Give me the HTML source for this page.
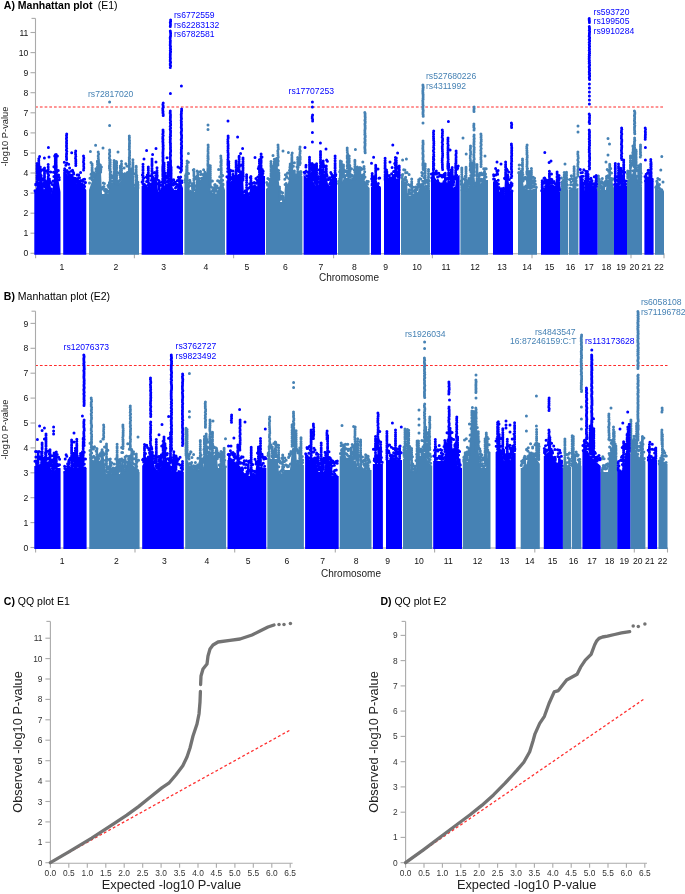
<!DOCTYPE html>
<html><head><meta charset="utf-8"><style>
html,body{margin:0;padding:0;background:#fff;width:685px;height:894px;overflow:hidden}
svg{display:block;position:absolute;left:0;top:0;filter:blur(0.25px)}
</style></head><body>
<svg width="685" height="894" viewBox="0 0 685 894" font-family='"Liberation Sans", sans-serif'>
<line x1="35.5" y1="18.4" x2="35.5" y2="253.7" stroke="#aaaaaa" stroke-width="1.1"/>
<line x1="35" y1="253.7" x2="664.5" y2="253.7" stroke="#aaaaaa" stroke-width="1.1"/>
<line x1="31.5" y1="18.4" x2="35.5" y2="18.4" stroke="#aaaaaa" stroke-width="1.1"/>
<line x1="30.5" y1="253.3" x2="35.5" y2="253.3" stroke="#aaaaaa" stroke-width="1.1"/>
<text x="28.4" y="256.4" font-size="8.6" fill="#111" text-anchor="end" font-weight="normal">0</text>
<line x1="30.5" y1="233.2" x2="35.5" y2="233.2" stroke="#aaaaaa" stroke-width="1.1"/>
<text x="28.4" y="236.3" font-size="8.6" fill="#111" text-anchor="end" font-weight="normal">1</text>
<line x1="30.5" y1="213.2" x2="35.5" y2="213.2" stroke="#aaaaaa" stroke-width="1.1"/>
<text x="28.4" y="216.3" font-size="8.6" fill="#111" text-anchor="end" font-weight="normal">2</text>
<line x1="30.5" y1="193.1" x2="35.5" y2="193.1" stroke="#aaaaaa" stroke-width="1.1"/>
<text x="28.4" y="196.2" font-size="8.6" fill="#111" text-anchor="end" font-weight="normal">3</text>
<line x1="30.5" y1="173" x2="35.5" y2="173" stroke="#aaaaaa" stroke-width="1.1"/>
<text x="28.4" y="176.1" font-size="8.6" fill="#111" text-anchor="end" font-weight="normal">4</text>
<line x1="30.5" y1="153" x2="35.5" y2="153" stroke="#aaaaaa" stroke-width="1.1"/>
<text x="28.4" y="156.1" font-size="8.6" fill="#111" text-anchor="end" font-weight="normal">5</text>
<line x1="30.5" y1="132.9" x2="35.5" y2="132.9" stroke="#aaaaaa" stroke-width="1.1"/>
<text x="28.4" y="136" font-size="8.6" fill="#111" text-anchor="end" font-weight="normal">6</text>
<line x1="30.5" y1="112.8" x2="35.5" y2="112.8" stroke="#aaaaaa" stroke-width="1.1"/>
<text x="28.4" y="115.9" font-size="8.6" fill="#111" text-anchor="end" font-weight="normal">7</text>
<line x1="30.5" y1="92.7" x2="35.5" y2="92.7" stroke="#aaaaaa" stroke-width="1.1"/>
<text x="28.4" y="95.8" font-size="8.6" fill="#111" text-anchor="end" font-weight="normal">8</text>
<line x1="30.5" y1="72.7" x2="35.5" y2="72.7" stroke="#aaaaaa" stroke-width="1.1"/>
<text x="28.4" y="75.8" font-size="8.6" fill="#111" text-anchor="end" font-weight="normal">9</text>
<line x1="30.5" y1="52.6" x2="35.5" y2="52.6" stroke="#aaaaaa" stroke-width="1.1"/>
<text x="28.4" y="55.7" font-size="8.6" fill="#111" text-anchor="end" font-weight="normal">10</text>
<line x1="30.5" y1="32.5" x2="35.5" y2="32.5" stroke="#aaaaaa" stroke-width="1.1"/>
<text x="28.4" y="35.6" font-size="8.6" fill="#111" text-anchor="end" font-weight="normal">11</text>
<line x1="35.6" y1="253.7" x2="35.6" y2="258.2" stroke="#aaaaaa" stroke-width="1.1"/>
<line x1="134.4" y1="253.7" x2="134.4" y2="258.2" stroke="#aaaaaa" stroke-width="1.1"/>
<line x1="233.6" y1="253.7" x2="233.6" y2="258.2" stroke="#aaaaaa" stroke-width="1.1"/>
<line x1="333.6" y1="253.7" x2="333.6" y2="258.2" stroke="#aaaaaa" stroke-width="1.1"/>
<line x1="432.4" y1="253.7" x2="432.4" y2="258.2" stroke="#aaaaaa" stroke-width="1.1"/>
<line x1="532" y1="253.7" x2="532" y2="258.2" stroke="#aaaaaa" stroke-width="1.1"/>
<line x1="631" y1="253.7" x2="631" y2="258.2" stroke="#aaaaaa" stroke-width="1.1"/>
<line x1="664" y1="253.7" x2="664" y2="258.2" stroke="#aaaaaa" stroke-width="1.1"/>
<text x="62" y="270" font-size="8.6" fill="#111" text-anchor="middle" font-weight="normal">1</text>
<text x="116" y="270" font-size="8.6" fill="#111" text-anchor="middle" font-weight="normal">2</text>
<text x="163.6" y="270" font-size="8.6" fill="#111" text-anchor="middle" font-weight="normal">3</text>
<text x="206" y="270" font-size="8.6" fill="#111" text-anchor="middle" font-weight="normal">4</text>
<text x="247" y="270" font-size="8.6" fill="#111" text-anchor="middle" font-weight="normal">5</text>
<text x="285.4" y="270" font-size="8.6" fill="#111" text-anchor="middle" font-weight="normal">6</text>
<text x="321" y="270" font-size="8.6" fill="#111" text-anchor="middle" font-weight="normal">7</text>
<text x="354.4" y="270" font-size="8.6" fill="#111" text-anchor="middle" font-weight="normal">8</text>
<text x="385.6" y="270" font-size="8.6" fill="#111" text-anchor="middle" font-weight="normal">9</text>
<text x="417" y="270" font-size="8.6" fill="#111" text-anchor="middle" font-weight="normal">10</text>
<text x="446" y="270" font-size="8.6" fill="#111" text-anchor="middle" font-weight="normal">11</text>
<text x="475" y="270" font-size="8.6" fill="#111" text-anchor="middle" font-weight="normal">12</text>
<text x="502" y="270" font-size="8.6" fill="#111" text-anchor="middle" font-weight="normal">13</text>
<text x="527" y="270" font-size="8.6" fill="#111" text-anchor="middle" font-weight="normal">14</text>
<text x="549.6" y="270" font-size="8.6" fill="#111" text-anchor="middle" font-weight="normal">15</text>
<text x="570.6" y="270" font-size="8.6" fill="#111" text-anchor="middle" font-weight="normal">16</text>
<text x="589" y="270" font-size="8.6" fill="#111" text-anchor="middle" font-weight="normal">17</text>
<text x="606.4" y="270" font-size="8.6" fill="#111" text-anchor="middle" font-weight="normal">18</text>
<text x="621" y="270" font-size="8.6" fill="#111" text-anchor="middle" font-weight="normal">19</text>
<text x="634.4" y="270" font-size="8.6" fill="#111" text-anchor="middle" font-weight="normal">20</text>
<text x="646.4" y="270" font-size="8.6" fill="#111" text-anchor="middle" font-weight="normal">21</text>
<text x="659" y="270" font-size="8.6" fill="#111" text-anchor="middle" font-weight="normal">22</text>
<text x="349" y="281" font-size="10" fill="#222" text-anchor="middle" font-weight="normal">Chromosome</text>
<line x1="35.5" y1="311.2" x2="35.5" y2="548" stroke="#aaaaaa" stroke-width="1.1"/>
<line x1="35" y1="548" x2="668" y2="548" stroke="#aaaaaa" stroke-width="1.1"/>
<line x1="31.5" y1="311.2" x2="35.5" y2="311.2" stroke="#aaaaaa" stroke-width="1.1"/>
<line x1="30.5" y1="547.5" x2="35.5" y2="547.5" stroke="#aaaaaa" stroke-width="1.1"/>
<text x="28.4" y="550.6" font-size="8.6" fill="#111" text-anchor="end" font-weight="normal">0</text>
<line x1="30.5" y1="522.6" x2="35.5" y2="522.6" stroke="#aaaaaa" stroke-width="1.1"/>
<text x="28.4" y="525.7" font-size="8.6" fill="#111" text-anchor="end" font-weight="normal">1</text>
<line x1="30.5" y1="497.7" x2="35.5" y2="497.7" stroke="#aaaaaa" stroke-width="1.1"/>
<text x="28.4" y="500.8" font-size="8.6" fill="#111" text-anchor="end" font-weight="normal">2</text>
<line x1="30.5" y1="472.8" x2="35.5" y2="472.8" stroke="#aaaaaa" stroke-width="1.1"/>
<text x="28.4" y="475.9" font-size="8.6" fill="#111" text-anchor="end" font-weight="normal">3</text>
<line x1="30.5" y1="447.9" x2="35.5" y2="447.9" stroke="#aaaaaa" stroke-width="1.1"/>
<text x="28.4" y="451" font-size="8.6" fill="#111" text-anchor="end" font-weight="normal">4</text>
<line x1="30.5" y1="423" x2="35.5" y2="423" stroke="#aaaaaa" stroke-width="1.1"/>
<text x="28.4" y="426.1" font-size="8.6" fill="#111" text-anchor="end" font-weight="normal">5</text>
<line x1="30.5" y1="398.1" x2="35.5" y2="398.1" stroke="#aaaaaa" stroke-width="1.1"/>
<text x="28.4" y="401.2" font-size="8.6" fill="#111" text-anchor="end" font-weight="normal">6</text>
<line x1="30.5" y1="373.2" x2="35.5" y2="373.2" stroke="#aaaaaa" stroke-width="1.1"/>
<text x="28.4" y="376.3" font-size="8.6" fill="#111" text-anchor="end" font-weight="normal">7</text>
<line x1="30.5" y1="348.3" x2="35.5" y2="348.3" stroke="#aaaaaa" stroke-width="1.1"/>
<text x="28.4" y="351.4" font-size="8.6" fill="#111" text-anchor="end" font-weight="normal">8</text>
<line x1="30.5" y1="323.4" x2="35.5" y2="323.4" stroke="#aaaaaa" stroke-width="1.1"/>
<text x="28.4" y="326.5" font-size="8.6" fill="#111" text-anchor="end" font-weight="normal">9</text>
<line x1="35.6" y1="548" x2="35.6" y2="552.5" stroke="#aaaaaa" stroke-width="1.1"/>
<line x1="135" y1="548" x2="135" y2="552.5" stroke="#aaaaaa" stroke-width="1.1"/>
<line x1="234.7" y1="548" x2="234.7" y2="552.5" stroke="#aaaaaa" stroke-width="1.1"/>
<line x1="335.3" y1="548" x2="335.3" y2="552.5" stroke="#aaaaaa" stroke-width="1.1"/>
<line x1="434.6" y1="548" x2="434.6" y2="552.5" stroke="#aaaaaa" stroke-width="1.1"/>
<line x1="534.8" y1="548" x2="534.8" y2="552.5" stroke="#aaaaaa" stroke-width="1.1"/>
<line x1="634.3" y1="548" x2="634.3" y2="552.5" stroke="#aaaaaa" stroke-width="1.1"/>
<line x1="667.5" y1="548" x2="667.5" y2="552.5" stroke="#aaaaaa" stroke-width="1.1"/>
<text x="62.1" y="564" font-size="8.6" fill="#111" text-anchor="middle" font-weight="normal">1</text>
<text x="116.5" y="564" font-size="8.6" fill="#111" text-anchor="middle" font-weight="normal">2</text>
<text x="164.3" y="564" font-size="8.6" fill="#111" text-anchor="middle" font-weight="normal">3</text>
<text x="207" y="564" font-size="8.6" fill="#111" text-anchor="middle" font-weight="normal">4</text>
<text x="248.2" y="564" font-size="8.6" fill="#111" text-anchor="middle" font-weight="normal">5</text>
<text x="286.8" y="564" font-size="8.6" fill="#111" text-anchor="middle" font-weight="normal">6</text>
<text x="322.6" y="564" font-size="8.6" fill="#111" text-anchor="middle" font-weight="normal">7</text>
<text x="356.2" y="564" font-size="8.6" fill="#111" text-anchor="middle" font-weight="normal">8</text>
<text x="387.6" y="564" font-size="8.6" fill="#111" text-anchor="middle" font-weight="normal">9</text>
<text x="419.1" y="564" font-size="8.6" fill="#111" text-anchor="middle" font-weight="normal">10</text>
<text x="448.3" y="564" font-size="8.6" fill="#111" text-anchor="middle" font-weight="normal">11</text>
<text x="477.5" y="564" font-size="8.6" fill="#111" text-anchor="middle" font-weight="normal">12</text>
<text x="504.6" y="564" font-size="8.6" fill="#111" text-anchor="middle" font-weight="normal">13</text>
<text x="529.8" y="564" font-size="8.6" fill="#111" text-anchor="middle" font-weight="normal">14</text>
<text x="552.5" y="564" font-size="8.6" fill="#111" text-anchor="middle" font-weight="normal">15</text>
<text x="573.6" y="564" font-size="8.6" fill="#111" text-anchor="middle" font-weight="normal">16</text>
<text x="592.1" y="564" font-size="8.6" fill="#111" text-anchor="middle" font-weight="normal">17</text>
<text x="609.6" y="564" font-size="8.6" fill="#111" text-anchor="middle" font-weight="normal">18</text>
<text x="624.3" y="564" font-size="8.6" fill="#111" text-anchor="middle" font-weight="normal">19</text>
<text x="637.8" y="564" font-size="8.6" fill="#111" text-anchor="middle" font-weight="normal">20</text>
<text x="649.8" y="564" font-size="8.6" fill="#111" text-anchor="middle" font-weight="normal">21</text>
<text x="662.5" y="564" font-size="8.6" fill="#111" text-anchor="middle" font-weight="normal">22</text>
<text x="351" y="577" font-size="10" fill="#222" text-anchor="middle" font-weight="normal">Chromosome</text>
<line x1="36" y1="107" x2="664" y2="107" stroke="#ff2a2a" stroke-width="1.1" stroke-dasharray="2.7 2.0" stroke-dashoffset="0.8"/>
<line x1="36" y1="365.5" x2="667.5" y2="365.5" stroke="#ff2a2a" stroke-width="1.1" stroke-dasharray="2.7 2.0" stroke-dashoffset="0.8"/>
<path fill="#4682b4" d="M89 254.7 L89 190 L89.5 188.5 L90 187 L90.5 185.5 L91 184 L91.5 182.5 L92 181 L92.5 179.9 L93 178.8 L93.5 177.6 L94 176.5 L94.5 175.4 L95 174.2 L95.5 173.1 L96 172 L96.5 172 L97 172 L97.5 172 L98 172 L98.5 172 L99 172 L99.5 172 L100 172 L100.5 172 L101 172 L101.5 183 L102 194 L102.5 194 L103 194 L103.5 194 L104 194 L104.5 194 L105 194 L105.5 194 L106 194 L106.5 194 L107 194 L107.5 194 L108 194 L108.5 191 L109 188 L109.5 185 L110 182 L110.5 182.1 L111 182.2 L111.5 182.4 L112 182.5 L112.5 182.6 L113 182.8 L113.5 182.9 L114 183 L114.5 183.1 L115 183.2 L115.5 183.4 L116 183.5 L116.5 183.6 L117 183.8 L117.5 183.9 L118 184 L118.5 183.4 L119 182.8 L119.5 182.2 L120 181.7 L120.5 181.1 L121 180.5 L121.5 179.9 L122 179.3 L122.5 178.8 L123 178.2 L123.5 177.6 L124 177 L124.5 176.6 L125 176.2 L125.5 175.9 L126 175.5 L126.5 175.1 L127 174.8 L127.5 174.4 L128 174 L128.5 174.8 L129 175.5 L129.5 176.2 L130 177 L130.5 177.8 L131 178.5 L131.5 179.2 L132 180 L132.5 181.3 L133 182.7 L133.5 184 L134 185.3 L134.5 186.7 L135 188 L135.5 188 L136 188 L136.5 188 L137 188 L137.5 188 L138 188 L138.5 188 L139 188 L139 254.7Z M184.4 254.7 L184.4 182 L184.9 182 L185.4 182.2 L185.9 182.5 L186.4 182.7 L186.9 183 L187.4 183.2 L187.9 183.5 L188.4 183.7 L188.9 184 L189.4 187.3 L189.9 191.3 L190.4 192 L190.9 192 L191.4 192 L191.9 192 L192.4 192 L192.9 192 L193.4 192 L193.9 192 L194.4 192 L194.9 192 L195.4 186.9 L195.9 180.9 L196.4 180 L196.9 180 L197.4 180 L197.9 180 L198.4 180 L198.9 180 L199.4 180 L199.9 180 L200.4 179.7 L200.9 179.4 L201.4 179.1 L201.9 178.8 L202.4 178.5 L202.9 178.2 L203.4 177.9 L203.9 177.6 L204.4 177.3 L205 177 L205.5 177 L206 177 L206.5 177 L207 177 L207.5 177 L208 177 L208.5 177 L209 177 L209.5 180.5 L210 184.2 L210.5 188 L211 191.7 L211.5 192.2 L212 192.4 L212.5 192.6 L213 192.8 L213.5 193 L214 193.2 L214.5 193.4 L215 193.6 L215.5 193.8 L216 194 L216.5 193 L217 192 L217.5 191 L218 190 L218.5 188.7 L219 187.4 L219.5 186 L220 184.7 L220.5 183.4 L221 182 L221.5 182.5 L222 183 L222.5 183.5 L223 184 L223.5 185.5 L224 187 L224.5 188.5 L225 190 L225 254.7Z M266 254.7 L266 189 L266.5 188.5 L267 188 L267.5 187.5 L268 187 L268.5 186.5 L269 186 L269.5 185.5 L270 185 L270.6 184.4 L271.1 183.9 L271.6 183.4 L272.1 182.9 L272.6 182.4 L273.1 181.9 L273.6 181.4 L274.1 180.9 L274.6 180.4 L275.1 180 L275.6 180 L276.1 180 L276.6 180 L277.1 180 L277.6 180 L278.1 180 L278.6 180 L279.1 183.2 L279.6 194.3 L280.2 202 L280.7 202 L281.2 202 L281.7 202 L282.2 202 L282.7 202 L283.2 202 L283.7 202 L284.2 198.4 L284.7 189.3 L285.2 184 L285.7 184 L286.2 184 L286.7 184 L287.2 184 L287.7 184 L288.2 182.5 L288.8 179.5 L289.3 178 L289.8 178 L290.3 178 L290.8 178 L291.3 178 L291.8 178 L292.3 178 L292.8 178 L293.3 178 L293.8 178 L294.3 178 L294.8 178 L295.3 177.4 L295.8 176.3 L296.3 176 L296.8 176 L297.3 176 L297.8 176 L298.4 176 L298.9 176 L299.4 176 L299.9 176 L300.4 176 L300.9 176 L301.4 176 L301.9 176 L302.4 176 L302.4 254.7Z M338 254.7 L338 185 L338.5 184.6 L339 184.2 L339.5 183.9 L340 183.5 L340.5 183.1 L341 182.7 L341.5 182.4 L342 182 L342.5 181 L343 180 L343.5 179 L344 178 L344.5 178 L345 178 L345.5 178 L346 178 L346.5 178 L347 178 L347.5 178 L348 178 L348.5 178 L349 178 L349.5 178.3 L350 178.5 L350.5 178.8 L351 179 L351.5 179.3 L352 179.5 L352.5 179.8 L353 180 L353.5 179.8 L354.1 179.6 L354.6 179.4 L355.1 179.2 L355.6 179 L356.1 178.8 L356.6 178.6 L357.1 178.4 L357.6 178.2 L358.1 178 L358.6 177.8 L359.1 177.6 L359.6 177.4 L360.1 177.2 L360.6 177 L361.1 176.8 L361.6 176.6 L362.1 176.4 L362.6 176.2 L363.1 176.2 L363.6 177.5 L364.1 178.9 L364.6 180.2 L365.1 181.6 L365.6 182.9 L366.1 184.1 L366.6 184.7 L367.1 185.2 L367.6 185.8 L368.1 186.3 L368.6 186.9 L369.1 187.4 L369.6 188 L369.6 254.7Z M401 254.7 L401 180 L401.5 180.2 L402 180.3 L402.5 180.5 L403 180.7 L403.5 180.8 L404 181 L404.5 181.2 L405 181.3 L405.5 181.5 L406 181.7 L406.5 181.8 L407 182 L407.5 189 L408 196 L408.5 196 L409 196 L409.5 196 L410 196 L410.5 196 L411 196 L411.5 196 L412 196 L412.5 196 L413 196 L413.5 195.6 L414 195.2 L414.5 194.8 L415 194.4 L415.5 194 L416 193.6 L416.5 193.2 L417 192.8 L417.5 192.4 L418 192 L418.5 190.5 L419 189 L419.5 187.5 L420 186 L420.5 185.3 L421 184.7 L421.5 184 L422 183.3 L422.5 182.7 L423 182 L423.5 183 L424 184 L424.5 185 L425 186 L425.5 187 L426 188 L426.5 188.2 L427 188.5 L427.5 188.8 L428 189 L428.5 189.2 L429 189.5 L429.5 189.8 L430 190 L430 254.7Z M460.4 254.7 L460.4 190 L460.9 190 L461.4 190 L461.9 190 L462.4 190 L462.9 190 L463.4 190 L463.9 190 L464.4 190 L464.9 190 L465.4 190 L465.9 190 L466.4 190 L466.9 190 L467.4 190 L467.9 190 L468.4 188.3 L468.9 186.3 L469.4 184.3 L469.9 182.3 L470.4 182.3 L470.9 182.8 L471.4 183.2 L471.9 183.6 L472.4 184 L472.9 184.4 L473.4 184.8 L473.9 185.2 L474.5 185.6 L475 186 L475.5 185.8 L476 185.6 L476.5 185.4 L477 185.2 L477.5 185 L478 184.8 L478.5 184.6 L479 184.4 L479.5 184.2 L480 184 L480.5 183.4 L481 182.7 L481.5 182 L482 181.4 L482.5 180.7 L483 180 L483.5 180 L484 180 L484.5 180 L485 180 L485.5 180 L486 180 L486.5 180 L487 180 L487.5 180 L488 180 L488 254.7Z M518 254.7 L518 172 L518.5 172.5 L519 173 L519.5 173.5 L520 174 L520.5 174.5 L521 175 L521.5 175.5 L522 176 L522.5 179 L523 182 L523.5 185 L524 188 L524.5 188.2 L525 188.3 L525.5 188.5 L526 188.7 L526.5 188.8 L527 189 L527.5 189.2 L528 189.3 L528.5 189.5 L529 189.7 L529.5 189.8 L530 190 L530.5 189.9 L531 189.7 L531.5 189.6 L532 189.4 L532.5 189.3 L533 189.1 L533.5 189 L534 188.9 L534.5 188.7 L535 188.6 L535.5 188.4 L536 188.3 L536.5 188.1 L537 188 L537 254.7Z M560 254.7 L560 190 L560.5 190 L561 190 L561.5 190 L562 190 L562.5 190 L563 190 L563.5 190 L564 190 L564.5 190 L565 190 L565.5 190 L566 190 L566.5 190 L567 190 L567.5 190 L568 190 L568 254.7Z M568.8 254.7 L568.8 190 L569.3 189.9 L569.8 189.8 L570.3 189.7 L570.8 189.6 L571.3 189.5 L571.8 189.4 L572.3 189.3 L572.8 189.2 L573.3 189.1 L573.9 189 L574.4 188.9 L574.9 188.8 L575.4 188.6 L575.9 188.5 L576.4 188.4 L576.9 188.3 L577.4 188.2 L577.9 188.1 L578.4 188 L578.4 254.7Z M597.6 254.7 L597.6 190 L598.1 190 L598.6 190 L599.1 190 L599.6 190 L600.2 190 L600.7 190 L601.2 190 L601.7 190 L602.2 190 L602.7 190 L603.2 190 L603.8 190 L604.3 190 L604.8 190 L605.3 190 L605.8 190 L606.3 186.9 L606.8 181.7 L607.3 180 L607.9 180 L608.4 180 L608.9 180 L609.4 180 L609.9 180 L610.4 180 L610.9 180 L611.4 180 L612 180 L612.5 181.8 L613 183.9 L613.5 185.9 L614 188 L614 254.7Z M627 254.7 L627 180 L627.5 179.6 L628 179.2 L628.5 178.9 L629 178.5 L629.5 178.1 L630 177.8 L630.5 177.4 L631 177 L631.5 175.8 L632 174.5 L632.5 173.2 L633 172 L633.5 172 L634 172 L634.5 172 L635 172 L635.5 172 L636 172 L636.5 174.5 L637 177 L637.5 179.5 L638 182 L638.5 182.6 L639 183.2 L639.5 183.9 L640 184.5 L640.5 185.1 L641 185.8 L641.5 186.4 L642 187 L642 254.7Z M655 254.7 L655 188 L655.5 188.2 L656 188.4 L656.5 188.7 L657 188.9 L657.5 189.1 L658 189.3 L658.5 189.6 L659 189.8 L659.5 190 L660 190.2 L660.5 190.4 L661 190.7 L661.5 190.9 L662 191.1 L662.5 191.3 L663 191.6 L663.5 191.8 L664 192 L664 254.7Z"/>
<path fill="#0000ff" d="M34.3 254.7 L34.3 192 L34.8 192 L35.3 191 L35.8 189.3 L36.3 187.6 L36.8 185.9 L37.3 184.3 L37.8 182.6 L38.3 181.8 L38.8 181.6 L39.3 181.3 L39.8 181.1 L40.3 180.8 L40.8 180.6 L41.4 180.3 L41.9 180.1 L42.4 181.8 L42.9 184.3 L43.4 186.8 L43.9 189.4 L44.4 189 L44.9 187.7 L45.4 186.3 L45.9 185 L46.4 183.6 L46.9 182.3 L47.4 182 L47.9 182 L48.4 182 L48.9 182 L49.4 182 L49.9 182 L50.4 184.5 L50.9 187.6 L51.4 190.6 L51.9 193.6 L52.4 190.3 L52.9 186 L53.4 181.7 L54 177.4 L54.5 177 L55 177 L55.5 177 L56 177 L56.5 177 L57 177 L57.5 177 L58 177 L58.5 179.9 L59 182.9 L59.5 186 L60 189 L60.5 192 L60.5 254.7Z M63.2 254.7 L63.2 172 L63.7 172 L64.2 172 L64.7 172 L65.2 172 L65.7 172 L66.2 172.4 L66.7 173.4 L67.2 174.4 L67.7 175.4 L68.2 176 L68.7 176 L69.2 176 L69.7 176 L70.2 176 L70.7 176 L71.2 176 L71.7 176 L72.2 176 L72.7 176 L73.2 176.5 L73.7 177.5 L74.2 178.5 L74.8 179.5 L75.3 180.5 L75.8 181.5 L76.3 182.5 L76.8 183.5 L77.3 184 L77.8 184 L78.3 184 L78.8 184 L79.3 184 L79.8 184 L80.3 184 L80.8 184 L81.3 184 L81.8 184 L82.3 184.4 L82.8 185.1 L83.3 185.8 L83.8 186.5 L84.3 187.2 L84.8 187.9 L85.3 188.6 L85.8 189.3 L86.3 190 L86.3 254.7Z M141.6 254.7 L141.6 186 L142.1 186 L142.6 186.1 L143.1 186.1 L143.6 186.2 L144.1 186.3 L144.6 186.3 L145.1 186.4 L145.6 186.5 L146.1 186.5 L146.6 186.6 L147.2 186.6 L147.7 186.7 L148.2 186.8 L148.7 186.8 L149.2 186.9 L149.7 187 L150.2 186.4 L150.7 184.6 L151.2 182.8 L151.7 181.1 L152.2 180 L152.7 180 L153.2 180 L153.7 180 L154.2 180 L154.7 180 L155.2 180 L155.7 180 L156.2 180 L156.7 180 L157.3 183 L157.8 189.1 L158.3 192 L158.8 192 L159.3 192 L159.8 192 L160.3 192 L160.8 192 L161.3 191.4 L161.8 190.4 L162.3 189.4 L162.8 188.4 L163.3 187.4 L163.8 186.4 L164.3 185.4 L164.8 184.4 L165.3 184 L165.8 184 L166.3 184 L166.8 184 L167.3 184 L167.9 184 L168.4 184 L168.9 184 L169.4 184 L169.9 184 L170.4 185.1 L170.9 186.6 L171.4 188.2 L171.9 189.7 L172.4 190 L172.9 190 L173.4 190 L173.9 190 L174.4 190 L174.9 190 L175.4 190 L175.9 190 L176.4 190 L176.9 190 L177.4 187.3 L178 184.3 L178.5 181.3 L179 178.2 L179.5 178.9 L180 179.9 L180.5 181 L181 182 L181.5 183.5 L182 185 L182.5 186.5 L183 188 L183 254.7Z M226.4 254.7 L226.4 182 L226.9 182 L227.4 181.9 L227.9 181.8 L228.4 181.7 L228.9 181.6 L229.4 181.5 L229.9 181.4 L230.4 181.2 L230.9 181.1 L231.4 181 L231.9 180.9 L232.4 180.8 L232.9 180.7 L233.4 180.6 L233.9 180.5 L234.4 180.4 L234.9 180.2 L235.4 180.1 L235.9 180 L236.4 178.7 L236.9 177.2 L237.4 175.7 L237.9 174.2 L238.4 174 L238.9 174 L239.4 174 L239.9 174 L240.4 174 L240.9 174 L241.4 174 L241.9 174 L242.4 174 L242.9 174 L243.4 183.8 L243.9 194.8 L244.4 196 L244.9 196 L245.4 196 L246 196 L246.5 196 L247 196 L247.5 196 L248 196 L248.5 196 L249 196 L249.5 192.3 L250 188.3 L250.5 188 L251 188 L251.5 188 L252 188 L252.5 188 L253 188 L253.5 188 L254 188 L254.5 188 L255 188 L255.5 188 L256 188 L256.5 188 L257 188 L257.5 182.2 L258 176.2 L258.5 176 L259 176 L259.5 176 L260 176 L260.5 176 L261 176 L261.5 176 L262 176 L262.5 176 L263 176 L263.5 176 L264 176 L264.5 176 L265 176 L265 254.7Z M303.6 254.7 L303.6 175 L304.1 175.1 L304.6 175.6 L305.1 176.1 L305.6 176.6 L306.1 177.1 L306.6 177.6 L307.1 178.1 L307.6 178.3 L308.2 178.5 L308.7 178.7 L309.2 178.9 L309.7 179.1 L310.2 179.3 L310.7 179.5 L311.2 179.7 L311.7 179.9 L312.2 180.3 L312.7 181.1 L313.2 181.8 L313.7 182.6 L314.2 183.3 L314.7 184.1 L315.2 184.9 L315.7 185.6 L316.3 186.3 L316.8 186.8 L317.3 187.3 L317.8 187.8 L318.3 186.1 L318.8 182.5 L319.3 179 L319.8 175.4 L320.3 174 L320.8 174 L321.3 174 L321.8 174 L322.3 174 L322.8 174 L323.3 174 L323.8 174 L324.3 174 L324.9 174 L325.4 174 L325.9 174 L326.4 175.9 L326.9 178.4 L327.4 180.9 L327.9 183.5 L328.4 184.4 L328.9 184.9 L329.4 185.4 L329.9 185.9 L330.4 184.3 L330.9 182.3 L331.4 180.3 L331.9 178.2 L332.4 178 L333 178 L333.5 178 L334 178 L334.5 178 L335 178 L335.5 178 L336 178 L336.5 178 L337 178 L337 254.7Z M371 254.7 L371 187 L371.5 187.1 L372 187.1 L372.5 187.2 L373 187.2 L373.5 187.2 L374 187.3 L374.5 187.3 L375 187.4 L375.5 187.4 L376 187.5 L376.5 187.6 L377 187.6 L377.5 187.7 L378 187.7 L378.5 187.8 L379 187.8 L379.5 187.8 L380 187.9 L380.5 187.9 L381 188 L381 254.7Z M384 254.7 L384 180 L384.5 179.9 L385 179.9 L385.5 179.8 L386 179.8 L386.5 179.7 L387 179.6 L387.5 179.6 L388 179.5 L388.5 179.4 L389 179.4 L389.5 179.3 L390 179.2 L390.5 179.2 L391 179.1 L391.5 179.1 L392 179 L392.5 178.9 L393 178.9 L393.5 178.8 L394 178.8 L394.5 178.7 L395 178.6 L395.5 178.6 L396 178.5 L396.5 178.4 L397 178.4 L397.5 178.3 L398 178.2 L398.5 178.2 L399 178.1 L399.5 178.1 L400 178 L400 254.7Z M431 254.7 L431 177 L431.5 177.5 L432 178 L432.5 178.5 L433 179 L433.5 179.5 L434 180 L434.5 180.5 L435 181 L435.5 181.3 L436 181.6 L436.5 181.9 L437 182.2 L437.5 182.5 L438 182.8 L438.5 183.1 L439 183.4 L439.5 183.7 L440 184 L440.5 184 L441 184 L441.5 184 L442 184 L442.5 184 L443 184 L443.5 184 L444 184 L444.5 184 L445 184 L445.6 184 L446.1 184 L446.6 184.3 L447.1 184.5 L447.6 184.8 L448.1 185 L448.6 185.3 L449.1 185.5 L449.6 185.8 L450.1 186 L450.6 186.2 L451.1 186.4 L451.6 186.6 L452.1 186.8 L452.6 187 L453.1 187.2 L453.6 187.4 L454.1 187.6 L454.6 187.8 L455.1 187.1 L455.6 181.6 L456.1 177 L456.6 176.7 L457.1 176.4 L457.6 176.1 L458.1 175.8 L458.6 175.6 L459.1 175.3 L459.6 175 L459.6 254.7Z M493 254.7 L493 182 L493.5 182 L494 182 L494.5 182 L495 182 L495.5 182 L496 182 L496.5 182 L497 182 L497.5 182 L498 182 L498.5 185.5 L499 189 L499.5 192.5 L500 196 L500.5 196.2 L501 196.5 L501.5 196.8 L502 197 L502.5 197.2 L503 197.5 L503.5 197.8 L504 198 L504.5 187.5 L505 177 L505.5 177 L506 177 L506.5 177 L507 177 L507.5 177 L508 177 L508.5 180.2 L509 183.5 L509.5 186.8 L510 190 L510.5 190.3 L511 190.7 L511.5 191 L512 191.3 L512.5 191.7 L513 192 L513 254.7Z M541 254.7 L541 192 L541.5 191.4 L542 190.8 L542.5 190.1 L543 189.5 L543.5 188.9 L544 188.2 L544.5 187.6 L545 187 L545.5 186.8 L546 186.6 L546.5 186.4 L547 186.1 L547.5 185.9 L548 185.7 L548.5 185.5 L549 185.3 L549.5 185.1 L550 184.9 L550.5 184.6 L551 184.4 L551.5 184.2 L552 184 L552.5 184.3 L553 184.7 L553.5 185 L554 185.3 L554.5 185.7 L555 186 L555.5 186.3 L556 186.7 L556.5 187 L557 187.3 L557.5 187.7 L558 188 L558.5 189 L559 190 L559.5 191 L560 192 L560 254.7Z M579.4 254.7 L579.4 178 L579.9 178 L580.4 178.4 L580.9 178.9 L581.4 179.4 L581.9 179.9 L582.4 180.4 L582.9 180.9 L583.4 181.4 L584 182 L584.5 186.6 L585 191.6 L585.5 192 L586 192 L586.5 192 L587 192 L587.5 192 L588 192 L588.5 189.5 L589 187 L589.5 187 L590 187 L590.5 187 L591 187 L591.5 187 L592 187 L592.5 187 L593 187 L593.6 187.2 L594.1 187.5 L594.6 187.7 L595.1 187.9 L595.6 188.1 L596.1 188.3 L596.6 188.6 L597.1 188.8 L597.6 189 L597.6 254.7Z M614 254.7 L614 186 L614.5 186 L615 186 L615.5 186 L616 186 L616.5 186 L617 186 L617.5 186 L618 186 L618.5 186 L619 186 L619.5 186 L620 186 L620.5 184.5 L621 183 L621.5 181.5 L622 180 L622.5 180.6 L623 181.2 L623.5 181.8 L624 182.4 L624.5 183 L625 183.6 L625.5 184.2 L626 184.8 L626.5 185.4 L627 186 L627 254.7Z M644.4 254.7 L644.4 181 L644.9 181 L645.4 181 L645.9 181 L646.4 181 L647 181 L647.5 181 L648 181 L648.5 181 L649 181 L649.5 181 L650 181 L650.5 181 L651 181 L651.6 181 L652.1 181 L652.6 181 L653.1 181 L653.6 181 L653.6 254.7Z"/>
<path stroke="#4682b4" stroke-width="3.0" stroke-linecap="round" fill="none" d="M89.5 183h0M89.9 178.3h0M91 174.3h0M91.1 177.6h0M91 162.6h0M92 175.6h0M92.1 177.5h0M92.1 179.8h0M92.1 177.8h0M92.1 175.7h0M92.1 174.4h0M92.1 172.2h0M92.1 170.6h0M92.1 169.3h0M92.1 167.8h0M92.1 165.5h0M92.1 164.1h0M92.9 176.4h0M92.9 172.4h0M94 176.5h0M93.5 175.4h0M95 174.5h0M94.5 173h0M96.1 170.6h0M95.9 168.7h0M95.6 145.3h0M97.4 161.2h0M96.4 168.5h0M97.8 170.5h0M97.6 161h0M97.5 170.4h0M97.5 167.9h0M97.5 166.5h0M97.5 164.2h0M97.5 162.2h0M98.6 161.9h0M98.9 172h0M98.9 171.1h0M98.9 169.7h0M98.9 168h0M98.9 166.4h0M98.9 164h0M100.2 171.6h0M100.3 165h0M100.8 169.3h0M101.4 166.9h0M100.7 171.9h0M100.7 170.5h0M100.7 168.1h0M100.7 166.5h0M101.7 187.7h0M101.6 189.3h0M103.2 188.3h0M103.3 183.1h0M103.4 186.7h0M103.9 186.4h0M104.4 183.4h0M104.5 190.4h0M105.1 191.1h0M105.7 189.3h0M105.8 193.3h0M106.3 192.5h0M107.4 190.7h0M106.5 193.1h0M106.5 193.3h0M106.5 191.7h0M106.5 189.7h0M107.8 191.1h0M107.9 191.5h0M108 185.6h0M109.3 187.6h0M108.7 187.3h0M109.4 186.1h0M109.4 183.6h0M109.4 182.4h0M110.3 179h0M110 182.6h0M110.2 180h0M110.2 177.5h0M110.2 175.9h0M110.2 174.6h0M110.2 173.2h0M110.2 171.2h0M110.2 169.1h0M110.2 166.6h0M110.2 164.3h0M110.2 162.2h0M110.2 160h0M110.4 174.1h0M110.6 171.7h0M111.5 181.2h0M112 175.7h0M112.6 177.4h0M112.4 181h0M114 173.1h0M113.9 181.8h0M114.1 182.1h0M114.1 180.8h0M114.1 178.9h0M114.1 176.8h0M114.1 175h0M114.1 173.4h0M114.1 171.3h0M114.1 168.8h0M114.1 167.3h0M114.1 166h0M114.1 164.4h0M114.1 162.6h0M114.1 160.4h0M115.1 179.2h0M114.6 171.8h0M114.6 182.6h0M114.6 180.3h0M114.6 178.7h0M114.6 176.2h0M114.6 174.3h0M114.6 172.8h0M114.6 171.3h0M114.6 169.5h0M114.6 167.4h0M114.6 164.8h0M114.6 163.4h0M116.4 182.9h0M115.5 183.3h0M116.3 181.3h0M116.3 178.7h0M116.3 176.2h0M116.3 174.5h0M116.3 173.1h0M116.3 170.5h0M116.3 168.3h0M116.3 167.1h0M116.3 164.9h0M116.3 163.2h0M116.3 161.5h0M116.4 182.2h0M116.8 172.6h0M116.6 182.7h0M116.6 180.3h0M116.6 178h0M116.6 176.1h0M116.6 174.9h0M116.6 173h0M116.6 171.3h0M116.6 168.8h0M116.6 167.3h0M116.6 165.6h0M116.6 163.2h0M116.6 161.9h0M118.2 183.9h0M117.4 183.8h0M119.1 172.8h0M118.7 181.5h0M119.7 174.7h0M119.7 180.3h0M120.3 179.9h0M120.3 177.4h0M120.3 176.1h0M120.3 174.6h0M120.3 172.7h0M120.3 170.2h0M120.3 167.7h0M120.3 165.9h0M120.9 170h0M120.6 172.2h0M122.2 174h0M121.7 177.5h0M121.5 178.9h0M121.5 176.6h0M121.5 175.1h0M121.5 173.8h0M121.5 172.5h0M121.5 170.5h0M121.5 168.9h0M121.5 166.3h0M121.5 163.9h0M121.5 161.3h0M121.9 178.2h0M123.1 175h0M122.6 175.3h0M124.1 167.9h0M124.1 176.7h0M125 173.8h0M125.1 175.4h0M124.6 173.7h0M125.8 163.7h0M125.9 174.4h0M127.4 174.5h0M126.9 166.1h0M127.4 172.4h0M127.5 173.2h0M129.3 172.9h0M129.3 172h0M129.3 175h0M129.3 173h0M129.3 170.9h0M129.3 169.4h0M129.3 167.7h0M129.3 166.3h0M129.3 164.8h0M129.3 163.3h0M129.3 161.2h0M129.3 159.1h0M129.3 157.6h0M130.1 176h0M129.7 175.9h0M130.5 178h0M130.8 173.7h0M131.1 176.2h0M131.8 178.3h0M131.7 168.7h0M131.8 178.6h0M131.8 176.2h0M131.8 173.6h0M131.8 171.9h0M131.8 170.4h0M132.4 172.2h0M132.8 173.7h0M132.9 181.9h0M132.9 180.7h0M132.9 178.7h0M132.9 176.6h0M132.9 174.1h0M132.9 172.8h0M132.9 170.8h0M132.9 169h0M132.9 167.1h0M132.9 165.7h0M132.9 164.1h0M132.9 162.2h0M132.9 159.7h0M134.2 173.7h0M133.6 184.6h0M134.9 187.6h0M135.3 185.1h0M136.2 187.4h0M136.2 186.9h0M136.2 187.5h0M136.2 185.9h0M136.2 184.2h0M136.2 182.3h0M136.2 180.5h0M136.2 179.2h0M136.2 177.6h0M136.2 175.4h0M136.2 172.9h0M136.2 171.7h0M136.2 169.7h0M136.2 167.4h0M136.2 166.2h0M136 177h0M137 186.2h0M136.8 182.9h0M136.8 186.7h0M136.8 185.5h0M136.8 183.4h0M136.8 181.5h0M136.8 180h0M136.8 177.7h0M136.8 175.4h0M137.9 187.7h0M137.5 184.9h0M137.9 187.9h0M137.9 185.8h0M137.9 184.5h0M137.9 182.2h0M184.9 180.6h0M185.2 182.1h0M185.5 181.1h0M185.5 179.5h0M185.5 178h0M185.5 175.8h0M186 174.2h0M186.2 181.6h0M186.6 180.7h0M186.6 178.9h0M186.6 176.9h0M186.6 175.4h0M186.6 172.8h0M186.6 171.1h0M186.6 169h0M186.6 166.7h0M187.1 178.6h0M186.9 174.2h0M187.1 182h0M187.1 180.5h0M187.1 178.7h0M187.1 177.2h0M187.1 176h0M187.1 173.8h0M187.1 172.2h0M187.1 170.7h0M187.1 169h0M187.1 167.2h0M187.1 165.4h0M187.1 163.3h0M187.1 161.1h0M188.7 183.5h0M188.6 173.4h0M188.4 162.3h0M188.8 186.4h0M189.8 180.3h0M188.9 185.7h0M190 181.8h0M190.6 191.3h0M191.6 185.7h0M191.7 183.8h0M192.5 187.6h0M192.5 188.8h0M193.1 190.8h0M192.9 188.1h0M192.9 190.5h0M192.9 188.6h0M192.9 186.7h0M193.3 170h0M194.4 185.7h0M194.6 189.5h0M193.9 190.1h0M193.9 188h0M193.9 186.8h0M193.9 184.7h0M193.9 182.5h0M193.9 180h0M193.9 178.4h0M193.9 175.8h0M193.9 173.9h0M193.9 172h0M193.9 169.6h0M195.4 186.3h0M195.7 186h0M196.6 179h0M196.2 177h0M197.1 171.1h0M197.2 176h0M197.8 178h0M197.8 175.7h0M197.8 174.1h0M197.8 172.4h0M198.4 171.9h0M197.8 172.9h0M198.8 178.2h0M198.8 179.2h0M200.5 171.6h0M200.7 174.4h0M201.5 174h0M201.5 178.2h0M202.6 178.3h0M202 178.6h0M203.5 175.6h0M203.6 169.8h0M204.1 174.4h0M204.1 174.3h0M204.9 172.2h0M204.8 176.6h0M206.7 173.7h0M205.8 174.4h0M207.8 173.3h0M207.2 176.7h0M208 177h0M207.8 170.5h0M207.9 174.4h0M207.9 173h0M207.9 171.8h0M207.9 169.6h0M207.9 168h0M207.9 165.8h0M207.9 164.4h0M207.9 163.1h0M207.9 160.8h0M207.9 158.6h0M207.9 156.2h0M208.5 165.1h0M209.3 168.5h0M209.1 167.9h0M209.5 179.1h0M210.6 186.5h0M210.1 179.5h0M210.3 186.6h0M210.3 184.9h0M210.3 182.9h0M210.3 181h0M210.3 178.9h0M210.3 177.5h0M210.3 175.2h0M210.3 173.5h0M210.3 171.4h0M210.3 169.3h0M210.3 167.5h0M210.3 165.8h0M211.6 187.3h0M211.1 192h0M212.6 190.5h0M212.4 181h0M213.1 189.8h0M213.7 190.4h0M214.7 184.8h0M214.1 193.3h0M214.4 190.9h0M214.4 188.4h0M214.4 187.2h0M215.7 188.8h0M215.1 184.4h0M216.7 191.2h0M215.9 188.7h0M217.6 180.7h0M217 186h0M218 187.9h0M218.6 180.9h0M218.6 169.5h0M219 181.5h0M219.7 176.7h0M220.4 183h0M220 183.1h0M221.4 179.5h0M221.3 181.7h0M221.2 182h0M221.2 179.9h0M221.2 177.6h0M221.2 176.2h0M221.2 174.1h0M221.2 172.5h0M221.2 170.5h0M221.2 169.3h0M221.2 168.1h0M221.2 165.5h0M221.2 163.1h0M221.2 161.2h0M222.6 180.2h0M222.7 175.4h0M223.1 184.8h0M223 184.1h0M267.4 184.3h0M266.8 182.4h0M267.9 178.4h0M267.6 185.2h0M268.9 185.7h0M269.3 179.5h0M270.3 182.1h0M269.6 183.4h0M270.6 183.3h0M271 178.8h0M271 184h0M271 182.2h0M271 179.9h0M271 178.3h0M271 176.1h0M271 174.9h0M271 173.3h0M271 170.9h0M271 168.9h0M271 166.7h0M271 165.3h0M271 163.4h0M271 161.4h0M271.9 171.2h0M272 180.2h0M272.2 182.8h0M272.2 181.4h0M273.2 176.6h0M273.2 182h0M272.7 180h0M272.7 178.3h0M272.7 176.8h0M272.7 175.2h0M272.7 173.9h0M272.7 171.4h0M272.7 169.4h0M272.7 167.7h0M272.7 165.9h0M273 155.6h0M274.4 177.9h0M274 179.8h0M274.3 180.2h0M274.3 177.7h0M274.3 175.4h0M274.3 173.7h0M274.3 171.7h0M274.3 169.1h0M274.3 167.2h0M274.3 164.7h0M274.3 163.2h0M274.3 161.4h0M274.3 159.2h0M275.3 176.3h0M275.2 178.8h0M274.6 177.2h0M274.6 175.6h0M274.8 170.9h0M275.8 179.8h0M275.5 171.2h0M275.6 179.1h0M275.6 177.6h0M276.7 179.4h0M277.1 179.7h0M276.5 178.7h0M276.5 176.3h0M276.5 174h0M276.5 172.5h0M276.5 170.9h0M276.5 168.6h0M276.5 166.9h0M276.5 164.4h0M276.5 162.9h0M276.5 160.4h0M276.5 158.4h0M277.5 173.1h0M277.7 169.9h0M278.6 174.6h0M278.6 170.4h0M278.9 179.2h0M278.9 176.9h0M278.9 175.2h0M278.9 173h0M279.8 199.6h0M279.6 190.5h0M279.5 198.1h0M279.5 196.4h0M279.5 194.5h0M279.5 192.9h0M279.5 191.6h0M279.5 190h0M279.5 188.4h0M279.5 187.1h0M280.8 191.7h0M281.2 192.2h0M280.4 198.1h0M282.1 195.8h0M281.8 199.1h0M282.6 192.8h0M282.8 196.3h0M283.4 201.9h0M283.6 201.1h0M283.4 201.1h0M283.4 199h0M283.4 197.5h0M285.1 184.5h0M284.8 179.3h0M285.4 174.7h0M286 183.9h0M286.2 183.4h0M286.5 177.3h0M286.8 176.5h0M287.5 173h0M287.8 173.3h0M289.2 172.9h0M288.9 178.5h0M289.9 167.3h0M289.5 170.2h0M290.2 177.2h0M290.2 175.3h0M290.2 172.7h0M290.2 170.6h0M290.2 168.6h0M290.2 167.1h0M290.2 165.8h0M290.2 164.1h0M290.7 177.5h0M291.1 171.7h0M290.9 176.7h0M291.7 168.1h0M291.5 173.2h0M291.9 175.7h0M291.9 174.3h0M291.9 172.1h0M291.9 170.1h0M291.9 168.3h0M291.9 166h0M291.9 163.6h0M291.9 162.3h0M291.9 160.7h0M291.9 159h0M291.6 174h0M293.1 174.7h0M292.5 176h0M293.6 177.8h0M293.4 166.2h0M294.4 162.8h0M295 177.7h0M294.9 174.8h0M294.4 175.2h0M294.4 173.1h0M294.4 171.1h0M295.7 174.9h0M295.5 176.2h0M296.7 175.2h0M297 166.8h0M298.2 167.1h0M298.1 174h0M297.7 174.9h0M297.7 172.9h0M297.7 171.2h0M297.7 168.8h0M297.7 167.3h0M297.7 166h0M297.7 164.1h0M297.7 162h0M297.7 159.6h0M297.7 157.4h0M298.9 172h0M298.6 174.3h0M298.6 162h0M299.8 164.6h0M299.5 175.9h0M300.1 176h0M300.1 173.6h0M300.8 174.4h0M301.1 171.9h0M300.8 174h0M300.8 171.6h0M338.7 181.2h0M338.6 183.4h0M339.7 171.7h0M339.6 178.7h0M340.3 182.8h0M340.3 180.5h0M340.3 178.2h0M340.3 176.6h0M340.3 174.9h0M340.3 173h0M340.3 170.6h0M340.3 169.2h0M340.3 167h0M340.3 165h0M340.3 163.1h0M340.3 161.1h0M341.3 180.5h0M341.2 173.3h0M341.4 181.9h0M341.4 180.7h0M341.4 179.3h0M341.4 176.8h0M341.4 175.6h0M341.4 173.1h0M341.4 171.7h0M341.4 169.4h0M341.4 168.1h0M341.4 166.7h0M341.4 164.5h0M341.4 163.2h0M341.4 161.5h0M342.3 170.5h0M341.4 180.9h0M342.4 176.2h0M342.6 177.1h0M343.5 174.4h0M343.5 175.1h0M343.5 176h0M343.5 174.1h0M343.5 172.7h0M343.5 171h0M343.5 169.1h0M343.5 166.7h0M343.5 165h0M345.3 170.7h0M344.7 177.2h0M346 175.6h0M345.4 171.4h0M346.9 171.4h0M347.4 168.3h0M347.7 175h0M348.4 175.4h0M347.5 175h0M347.5 173.8h0M347.5 171.7h0M349 175.5h0M348.6 177.1h0M349.2 175.3h0M349.2 174h0M349.2 171.8h0M349.2 170.2h0M349.2 168.1h0M349.2 166.1h0M349.2 164.5h0M349.2 161.9h0M349.2 160.7h0M349.2 158.5h0M349.2 156.1h0M350.4 177.3h0M350 171h0M349.8 176.9h0M349.8 174.8h0M349.8 172.7h0M349.8 171h0M349.8 168.9h0M349.8 167h0M349.8 165.5h0M351.3 175.3h0M351.1 174.7h0M351.5 168.8h0M351.9 175.2h0M352.6 179.2h0M353.2 176.5h0M354.3 170.1h0M353.4 177.1h0M354.5 178.6h0M354.7 178.9h0M354.9 177.9h0M354.9 176.6h0M354.9 174.8h0M354.9 172.2h0M354.9 170h0M354.9 168.2h0M354.9 166.3h0M354.9 164h0M354.9 161.8h0M354.9 160.3h0M355.9 177.6h0M355.8 176.7h0M356.1 176.5h0M356.7 176.5h0M356.6 169.5h0M357.3 177.8h0M357.3 176h0M357.3 173.7h0M357.3 171.7h0M357.3 169.9h0M357.3 168.7h0M357.3 166.9h0M357.7 175.2h0M358 169.5h0M358 175.3h0M358 173.8h0M358.8 171.4h0M358.7 177.5h0M359.9 173.3h0M360.3 169.6h0M359.9 175.9h0M359.9 173.5h0M359.9 171.7h0M359.9 169.8h0M359.9 167.4h0M360.9 168h0M361.1 169.4h0M362.2 176h0M361.6 176.2h0M362.2 175.3h0M363 175.9h0M363.1 169.1h0M362.8 161.9h0M364 166.4h0M364.2 168.8h0M363.9 178.4h0M363.9 175.8h0M363.9 174.2h0M364.7 171.7h0M365 177h0M366.3 182.4h0M365.6 183.6h0M366.9 181.2h0M367 182.6h0M368.3 181.4h0M367.5 184.2h0M401.8 174.9h0M401.9 178.2h0M402.2 178.4h0M402.2 176.8h0M402.2 175.5h0M402.8 174.4h0M403.2 180.2h0M402.6 159.9h0M403.7 169.8h0M403.8 179.9h0M405.3 178.6h0M404.9 170.1h0M405.6 172.7h0M405.6 177.3h0M406.3 180.3h0M406.8 181.7h0M407 172.5h0M408.3 184.6h0M408.1 194.4h0M409.4 193.6h0M409.1 190.2h0M409.1 193.3h0M409.1 191.4h0M409.1 189.7h0M409.1 174.4h0M410 192.7h0M410.2 186h0M410.4 194h0M410.5 184.9h0M411 185.4h0M411.4 193.3h0M412.1 190.1h0M411.7 194.4h0M411.7 192.6h0M411.7 190h0M411.7 187.9h0M411.7 185.6h0M411.7 183.4h0M411.7 181.7h0M411.7 179.1h0M412.7 195.3h0M413 187.2h0M413.5 191.1h0M414.3 194.6h0M414.7 194.4h0M414.7 191.9h0M415.6 191.8h0M416.3 192.8h0M415.5 192.9h0M415.5 191.1h0M415.5 189.4h0M415.5 186.9h0M417.3 189.5h0M417.2 187h0M417.6 184.4h0M417.9 187.4h0M418.7 186.9h0M419.3 185h0M418.7 187h0M418.7 185.7h0M418.7 183.4h0M418.7 181.4h0M418.7 179.7h0M419.6 186.1h0M419.9 178.7h0M421.2 184.4h0M420.7 178.9h0M422.1 175.5h0M421.8 172.6h0M422.8 173.6h0M422.7 181.3h0M423.9 177.5h0M424.3 183.3h0M425.1 180.8h0M424.8 180.9h0M425.2 183.3h0M425.2 181.9h0M425.2 179.7h0M425.2 177.5h0M425.2 175.6h0M425.2 173.1h0M425.2 170.7h0M425.2 168.4h0M425.2 166.1h0M425.2 164h0M425.1 171.2h0M426 186.3h0M425.5 182.5h0M426.6 187.4h0M426.5 182h0M427.8 182.2h0M427.5 179.9h0M428.5 186.2h0M429 180.9h0M428.5 188.8h0M428.5 186.7h0M428.5 185h0M428.5 183.4h0M428.5 181.4h0M428.5 179.9h0M428.5 177.5h0M428.5 176.1h0M428.5 173.7h0M428.5 171.3h0M428.5 169.4h0M460.9 181.2h0M461.1 184.3h0M461.8 189.5h0M461.8 187.6h0M461.8 185.5h0M461.8 183.5h0M461.8 181h0M462.5 178.6h0M461.9 189h0M461.8 189.2h0M461.8 187h0M461.8 184.4h0M461.8 183h0M461.8 181.2h0M461.8 179h0M461.8 176.8h0M461.8 174.6h0M461.8 172.3h0M461.8 170.8h0M461.8 169.2h0M461.8 168h0M463.1 178.7h0M463.4 184.8h0M464.5 188.2h0M463.9 189.8h0M463.9 189.7h0M463.9 187.8h0M463.9 185.2h0M465.6 189.2h0M464.9 188.2h0M465.2 187.8h0M465.2 186.5h0M465.2 184h0M465.2 182.3h0M465.2 179.9h0M465.2 178.7h0M465.2 176.3h0M466.6 183.7h0M466.1 190h0M466 188h0M466 186h0M466 183.9h0M466 182.4h0M466 181h0M466 179.7h0M466 177.1h0M466 175.4h0M466 173.3h0M466 171.3h0M466 169.7h0M466 168.5h0M466 167.2h0M466.2 154h0M467.5 189.5h0M467.6 188.7h0M466.9 189.3h0M466.9 186.9h0M466.9 185.3h0M466.9 183.6h0M466.9 181.3h0M468 186.2h0M468.2 182.9h0M468.9 178.6h0M469.6 183.6h0M468.9 183.4h0M468.9 181.2h0M468.9 179.9h0M468.9 178.5h0M470 179h0M469.9 182.1h0M470.7 180.6h0M470.7 179.3h0M470.7 177.8h0M470.7 175.5h0M471.8 173.6h0M470.9 172.1h0M472 174.3h0M472 183.6h0M472.3 181.6h0M472.3 180.3h0M472.3 178.5h0M472.3 176.9h0M472.3 175.4h0M472.3 173.2h0M472.3 171.5h0M472.3 170.2h0M472.3 167.6h0M472.3 165.7h0M472.3 164.3h0M472.3 163.1h0M472.8 181.1h0M473.5 180.2h0M473.4 182.7h0M473.4 181.3h0M473.4 179h0M473.4 176.4h0M474.2 175.3h0M474 184.3h0M474.9 184.8h0M474.8 182.7h0M475.5 184.1h0M476.5 185.5h0M476.7 184.3h0M477.7 181.2h0M477.8 179.5h0M477 182.1h0M477 180.2h0M477 178.7h0M477 176.2h0M477 174.5h0M477 172.8h0M477 171.1h0M477 168.9h0M477 167.7h0M477 166h0M477 164.6h0M477.1 173.9h0M478.3 179.9h0M478.5 184.2h0M478.8 184.2h0M479.4 174.4h0M478.9 183.1h0M479.3 183.1h0M479.3 180.6h0M479.3 178.5h0M479.3 176.1h0M480.7 180.7h0M479.9 173.2h0M481.7 179.3h0M481.3 173h0M482.3 180.5h0M482 174.8h0M483.7 168.7h0M483 179.8h0M484 173.3h0M484.1 178.8h0M484.5 179.8h0M484.5 177.5h0M484.5 175.5h0M484.5 173.6h0M484.5 171.5h0M484.5 172.3h0M485.5 174h0M485 168.8h0M486.2 168.8h0M486 177.1h0M518.7 172.7h0M519.2 165h0M518.8 172.6h0M519.2 168.8h0M519.5 173.6h0M519.5 173.2h0M520.6 174.2h0M521.2 171.8h0M521.1 171.3h0M522.3 165.7h0M521.9 164.7h0M522.9 174.4h0M523.1 180.9h0M522.5 179h0M522.5 177.3h0M522.5 175.7h0M522.5 174.2h0M522.5 172.3h0M522.5 169.7h0M522.5 168.3h0M522.5 165.9h0M522.5 164.3h0M522.5 162.8h0M522.5 160.6h0M522.5 158.9h0M524.2 177.9h0M524 187.4h0M525.3 177.2h0M524.7 179.1h0M525.8 186.1h0M525.8 186.1h0M526.3 187.4h0M527.2 187.7h0M527.3 180.5h0M528.2 180.7h0M527.7 183.2h0M527.5 187.7h0M527.5 186h0M527.5 183.7h0M527.5 182h0M527.5 179.6h0M527.5 177.2h0M527.5 174.8h0M527.5 173.4h0M527.5 170.9h0M527.5 168.6h0M528.4 180h0M528.9 186.2h0M529.2 187h0M529.2 185.5h0M529.2 183.8h0M529.2 182.3h0M529.2 181h0M529.2 179.3h0M529.2 178.1h0M529.2 175.7h0M529.2 174.2h0M529.2 172.9h0M529.2 171.6h0M529.9 187.2h0M530.2 178.8h0M530.3 188.6h0M530.3 186.1h0M530.3 183.9h0M530.3 182.2h0M530.3 179.8h0M530.2 179.3h0M530.9 186h0M530.8 180h0M531.8 187.1h0M532.4 182.7h0M531.4 187.7h0M531.4 185.9h0M531.4 183.7h0M531.4 181.9h0M531.4 180.5h0M531.4 178.6h0M531.4 176.3h0M531.4 174h0M531.4 172.3h0M531.4 170.7h0M531.4 168.5h0M533.3 177.3h0M532.8 186.6h0M533.6 187.1h0M533.7 181.6h0M533.9 186.9h0M533.9 185.5h0M533.9 182.9h0M533.9 180.3h0M534.6 178.3h0M535 180.9h0M536.3 187.3h0M535.4 184.3h0M560.7 188.8h0M561.4 178.1h0M561.6 189.4h0M561.8 182.6h0M562.1 189.9h0M562.1 188.1h0M562.1 185.8h0M562.1 183.8h0M562.1 181.9h0M562.7 187.3h0M563.3 180.6h0M563.5 189.3h0M563.8 183.4h0M564.2 188.5h0M564.2 187.2h0M564.2 184.9h0M564.2 183.2h0M564.2 181h0M564.2 179h0M564.2 176.8h0M564.2 175h0M564.2 172.5h0M565 188.1h0M564.8 188.5h0M566.2 181.2h0M566.4 183.4h0M565.7 188.2h0M565.7 186.7h0M565.7 184.3h0M565.7 182.5h0M565.7 180.9h0M565.7 178.4h0M565.7 177.1h0M565.7 174.6h0M566 172.8h0M567.3 184.9h0M566.8 179.3h0M566.5 189.2h0M566.5 187.8h0M566.5 185.4h0M566.5 183.6h0M566.5 181.4h0M566.5 179.8h0M566.5 177.6h0M566.5 175.5h0M566.5 174.1h0M566.5 172.2h0M569.9 188.3h0M569.6 179.4h0M570.6 184.7h0M571 181.9h0M571.6 178.4h0M571.7 189h0M571.3 175.8h0M573.2 184.7h0M572.9 188.7h0M573.4 180.4h0M573.2 185.3h0M574.1 188.9h0M574.1 187h0M574.1 185.2h0M574.1 183h0M574.1 180.8h0M574.1 179.1h0M574.1 176.6h0M574.1 175.1h0M574.1 173.7h0M574.1 171.4h0M574.1 170h0M574.1 168.6h0M574.1 166.7h0M575.1 185.2h0M575 187.5h0M576.1 183.1h0M576.2 180.7h0M577.1 185.1h0M576.3 178h0M598.3 188.6h0M598.7 188.9h0M598.4 189.5h0M598.4 188.2h0M598.4 186.3h0M598.4 183.7h0M598.4 181.2h0M598.4 179.9h0M598.4 178h0M598.4 176.1h0M599.5 181.5h0M599.3 179.2h0M600.1 186.2h0M600.1 183.4h0M602 189.9h0M601.7 181.6h0M601.1 188.3h0M601.1 186h0M602.4 183h0M602.3 178.4h0M603.6 189.4h0M603.9 183h0M603.7 190h0M603.7 188.7h0M603.7 187h0M603.7 184.6h0M604.9 181.8h0M604.9 184.9h0M605.9 185.2h0M605.2 185.8h0M606.4 180.9h0M606.6 183.9h0M606.5 183.7h0M606.5 181.6h0M606.5 180.2h0M606.5 178.2h0M606.5 176.6h0M607.8 175.8h0M607.2 169.4h0M608.3 177.2h0M608.7 171.3h0M609.2 176.6h0M609.4 178.2h0M609.7 179.4h0M609.7 177.9h0M609.7 175.6h0M609.7 173.4h0M609.7 171.3h0M609.7 169.2h0M609.7 167h0M609.7 165.4h0M609.7 164.2h0M609.5 144h0M610.7 168.6h0M610.8 178.9h0M611.4 178.5h0M611.5 173h0M612.9 178.8h0M612.4 180.1h0M627.7 173.4h0M627.5 173.8h0M627.7 177.7h0M627.7 176.3h0M627.7 174.4h0M627.7 172.3h0M627.7 171h0M628.9 173h0M629.2 173.7h0M629.2 176.9h0M629.2 174.6h0M629.2 172.9h0M630.2 171.8h0M629.5 172.4h0M630.4 175.6h0M630.4 174.1h0M630.4 171.7h0M630.4 170.2h0M630.4 167.9h0M630.4 165.9h0M630.4 164.7h0M630.4 162.3h0M630.4 160.5h0M630.4 158.1h0M630.4 155.9h0M630.6 167h0M630.7 177h0M630.7 175h0M631.7 164.2h0M632.3 165.1h0M633.2 170.7h0M633.3 163.7h0M633.5 161.4h0M634 166.5h0M633.9 157.6h0M635.2 168.6h0M634.6 160.8h0M635.2 171.3h0M635.2 169.1h0M635.2 167.3h0M635.2 165.8h0M635.2 164.3h0M635.2 161.8h0M635.2 160.1h0M635.2 158.1h0M635.2 156.2h0M636.1 162.3h0M635.8 171h0M636.1 170.8h0M636.1 168.8h0M636.1 167.4h0M636.1 164.9h0M636.1 163.1h0M636.1 161.2h0M636.1 158.9h0M636.1 157.4h0M637.2 176.2h0M636.7 170.7h0M638 180.5h0M637.8 181.5h0M639.2 178.5h0M639 177.5h0M638.7 180.5h0M638.7 178.2h0M638.7 176.1h0M638.7 173.7h0M638.7 171.9h0M638.7 169.8h0M638.7 167.3h0M638.7 165.8h0M639.9 183.8h0M639.6 174.8h0M639.6 182.6h0M640.9 182.4h0M640.9 176.6h0M640.6 185.5h0M640.6 183.2h0M640.6 181.2h0M640.6 179.3h0M640.6 177.8h0M640.6 175.5h0M640.6 173.9h0M640.6 171.6h0M640.6 170.1h0M640.6 168.1h0M640.6 166h0M640.6 164.3h0M641.1 173.3h0M655.8 187.3h0M656.4 186.4h0M656.8 181.2h0M656.7 188.5h0M657.3 188.2h0M657.3 186.4h0M657.3 184.2h0M657.3 182.6h0M657.8 178.4h0M658.3 188.1h0M658.4 186.5h0M659.3 188h0M659.5 179.6h0M659.5 188.4h0M659.5 184.5h0M660.9 190.6h0M660.6 189.5h0M660.8 170h0M661.7 189.8h0M662.2 191h0M661.8 156.4h0M663 182h0M662.5 191.4h0M98.2 152h0M98.6 154h0M98.2 156h0M98.3 158h0M98.5 160h0M98.2 162h0M109.6 150h0M109.7 152h0M109.4 154h0M109.7 156h0M109.4 158h0M109.6 160h0M109.7 162h0M109.7 164h0M109.4 166h0M109.4 168h0M109.8 170h0M129.3 136h0M129.4 137.5h0M129.3 139h0M129.5 140.5h0M129.5 142h0M129.5 143.5h0M129.4 145h0M129.4 146.5h0M129.4 148h0M129.2 149.5h0M129.6 151h0M129.6 152.5h0M129.5 154h0M129.6 155.5h0M129.4 157h0M129.6 158.5h0M129.3 160h0M129.5 161.5h0M129.5 163h0M129.6 164.5h0M208.1 145h0M208.2 147h0M208.1 149h0M208 151h0M208.1 153h0M208 155h0M208.1 157h0M208.2 159h0M220.8 156h0M220.9 158h0M221.2 160h0M220.8 162h0M221.1 164h0M220.8 166h0M278 145h0M278.1 147h0M278.2 149h0M277.8 151h0M277.9 153h0M278 155h0M278.2 157h0M277.8 159h0M278.2 161h0M277.9 163h0M278 165h0M292.2 153h0M291.8 155h0M291.9 157h0M291.8 159h0M291.8 161h0M291.9 163h0M292.1 165h0M300 147h0M299.8 149h0M300.2 151h0M300 153h0M299.8 155h0M300.2 157h0M300.2 159h0M299.9 161h0M300.2 163h0M364.8 112.4h0M365.1 113.7h0M365.1 115h0M365.1 116.3h0M365.2 117.6h0M365.2 118.9h0M364.9 120.2h0M365.2 121.5h0M365.2 122.8h0M364.9 124.1h0M365.1 125.4h0M365.1 126.7h0M365.2 128h0M365 129.3h0M364.9 130.6h0M364.9 131.9h0M365 133.2h0M364.8 134.5h0M365.2 135.8h0M365.2 137.1h0M364.9 138.4h0M365.1 139.7h0M365.1 141h0M364.8 142.3h0M365.1 143.6h0M365.1 144.9h0M364.9 146.2h0M364.8 147.5h0M364.9 148.8h0M365.1 150.1h0M365 151.4h0M365.2 152.7h0M347.2 148h0M347.2 150h0M347.3 152h0M347.6 154h0M347.2 156h0M347.2 158h0M347.5 160h0M347.2 162h0M347.5 164h0M347.2 166h0M422.9 85h0M423.1 86.2h0M423.2 87.4h0M423 88.6h0M423 89.8h0M422.8 91h0M422.9 92.2h0M422.9 93.4h0M423.1 94.6h0M423.1 95.8h0M423.1 97h0M423 98.2h0M423.1 99.4h0M422.8 100.6h0M422.9 101.8h0M422.9 103h0M422.9 104.2h0M423.1 105.4h0M422.9 106.6h0M422.9 107.8h0M422.9 109h0M423.2 110.2h0M423.1 111.4h0M423 112.6h0M422.9 113.8h0M423.2 115h0M423.2 116.2h0M423 141h0M423 142.5h0M423.2 144h0M422.9 145.5h0M422.9 147h0M422.8 148.5h0M423 150h0M423.1 151.5h0M422.8 153h0M423 154.5h0M423.2 156h0M423 157.5h0M422.9 159h0M423.2 160.5h0M423.2 162h0M422.9 163.5h0M422.8 165h0M423.1 166.5h0M423.1 168h0M423.2 169.5h0M470.5 146h0M470.5 148h0M470.3 150h0M470.6 152h0M470.6 154h0M470.3 156h0M470.2 158h0M470.4 160h0M470.5 162h0M470.3 164h0M470.2 166h0M470.4 168h0M470.2 170h0M474.1 107h0M474.1 108.5h0M473.9 110h0M474 111.5h0M473.9 124h0M473.8 125.5h0M473.8 127h0M474.2 128.5h0M474 130h0M474.1 135h0M473.9 136.6h0M474.2 138.2h0M474 139.8h0M474.1 141.4h0M473.9 143h0M474 144.6h0M473.8 146.2h0M474.2 147.8h0M474.1 149.4h0M474 151h0M474.1 152.6h0M473.8 154.2h0M473.9 155.8h0M473.9 157.4h0M474.2 159h0M473.8 160.6h0M474 162.2h0M474.2 163.8h0M474.1 165.4h0M474.1 167h0M473.9 168.6h0M473.9 170.2h0M474.1 171.8h0M473.9 173.4h0M474.1 175h0M480.9 134h0M481.1 135.8h0M481 137.6h0M481.2 139.4h0M481.2 141.2h0M480.9 143h0M481.2 144.8h0M480.8 146.6h0M481.2 148.4h0M480.8 150.2h0M481 152h0M480.9 153.8h0M481.1 155.6h0M480.9 157.4h0M480.9 159.2h0M481.1 161h0M481 162.8h0M481.1 164.6h0M481 166.4h0M527.1 145h0M526.8 146.8h0M526.8 148.6h0M526.9 150.4h0M527 152.2h0M526.9 154h0M527.2 155.8h0M527.2 157.6h0M526.9 159.4h0M527.1 161.2h0M527.1 163h0M527 164.8h0M526.9 166.6h0M527.2 168.4h0M527.2 170.2h0M526.8 172h0M526.9 173.8h0M577.9 152h0M577.8 154h0M578 156h0M578.2 158h0M577.8 160h0M578.2 162h0M577.9 164h0M577.8 166h0M578.2 168h0M577.9 170h0M577.9 172h0M577.8 174h0M577.9 176h0M634.4 111h0M634.8 112.2h0M634.8 113.4h0M634.7 114.6h0M634.4 115.8h0M634.7 117h0M634.6 118.2h0M634.6 119.4h0M634.4 120.6h0M634.6 121.8h0M634.8 123h0M634.4 124.2h0M634.8 125.4h0M634.6 126.6h0M634.5 127.8h0M634.5 129h0M634.6 130.2h0M634.7 131.4h0M634.6 132.6h0M634.8 133.8h0M634.6 138h0M634.6 139.2h0M634.8 140.4h0M634.5 141.6h0M634.4 142.8h0M634.5 144h0M634.5 145.2h0M634.4 146.4h0M634.6 147.6h0M634.4 148.8h0M634.8 150h0M634.6 151.2h0M634.8 152.4h0M634.7 153.6h0M634.7 154.8h0M634.7 156h0M634.5 157.2h0M634.7 158.4h0M634.5 159.6h0M634.6 160.8h0M634.6 162h0M634.7 163.2h0M634.4 164.4h0M632.9 146h0M633.2 147.6h0M633.2 149.2h0M633.2 150.8h0M632.8 152.4h0M632.9 154h0M632.8 155.6h0M633.1 157.2h0M633.1 158.8h0M633.1 160.4h0M633.1 162h0M633 163.6h0M636 150h0M636.2 151.6h0M636.1 153.2h0M636.1 154.8h0M636 156.4h0M636 158h0M636.1 159.6h0M636 161.2h0M635.8 162.8h0M636 164.4h0M640.5 145h0M640.5 146.5h0M640.5 148h0M640.4 149.5h0M640.4 151h0M640.5 152.5h0M640.4 154h0M640.7 155.5h0M640.3 157h0M109.6 102h0M109.6 125.6h0M90.4 151.4h0M103 148h0M118 152h0M208 125h0M208 129.6h0M188.4 153.6h0M283 151h0M288.4 152.4h0M355.4 149.4h0M423 123h0M406.4 159h0M463 138h0M485 156h0M565 164h0M578 126h0M578 132h0M608 155h0M608 138.4h0M606 162h0"/>
<path stroke="#0000ff" stroke-width="3.0" stroke-linecap="round" fill="none" d="M35 190.8h0M35.4 191.2h0M35.8 183.9h0M35.7 184.8h0M36.3 185h0M37.6 179.7h0M37.1 173.1h0M37 184.2h0M37 182.9h0M37 181.2h0M37 178.9h0M37 177.4h0M37 175.4h0M37 173.3h0M37 171.6h0M37 169.6h0M37 168.4h0M37 167.1h0M37 165.6h0M37 163.4h0M38.3 178.5h0M38 173.6h0M39.3 177.1h0M39.6 174.2h0M38.8 180.1h0M38.8 177.9h0M38.8 176.5h0M38.8 174.6h0M38.8 173.3h0M38.8 171.2h0M38.8 168.9h0M38.8 166.9h0M38.8 164.5h0M38.8 162.9h0M38.8 160.7h0M38.8 158.7h0M40.5 169.9h0M40.2 174.7h0M40.3 177.9h0M40.3 175.6h0M40.3 174h0M40.3 172.2h0M40.3 170.1h0M40.3 168.9h0M40.3 167h0M40.5 180.2h0M40.8 179.1h0M41.1 170.8h0M41.2 177.7h0M41.2 175.4h0M42.1 178.7h0M42.6 169.8h0M41.9 180.3h0M43 186h0M43.1 183.6h0M44.4 185.3h0M44.3 183.1h0M44.5 186.8h0M44.5 184.5h0M44.5 182.8h0M44.5 181h0M44.5 179.7h0M44.5 177.6h0M44.5 176.3h0M44.5 175h0M44.5 173.5h0M44.5 172.1h0M44.5 170.4h0M44.5 169.1h0M44.5 167.9h0M43.7 184h0M45.6 181.3h0M44.8 185.5h0M44.8 184.3h0M44.8 181.7h0M45.8 183.8h0M46 182.7h0M46.7 170.9h0M47.2 181.4h0M47.7 173h0M48.6 175.3h0M48 179.6h0M48.2 179.7h0M48.2 178h0M48.2 176.5h0M48.2 174.2h0M48.2 171.6h0M48.2 169.2h0M48.2 166.9h0M48.2 164.5h0M49.2 179.7h0M48.7 182h0M49.4 179.1h0M50.7 172.1h0M50.1 182.1h0M49.9 181.3h0M51.2 183.1h0M51.5 189h0M52.5 184.7h0M52.2 191.5h0M53.5 172.3h0M53.1 181h0M53.9 176.6h0M53.9 166.8h0M54.7 156h0M55.4 174.8h0M55.2 176.5h0M55.3 175.4h0M55.3 172.9h0M55.3 171.1h0M55.3 168.7h0M55.3 166.3h0M55.3 164.8h0M55.3 163.3h0M55.3 161.7h0M55.3 160.1h0M55.3 158.1h0M55.3 156.5h0M55.3 154.8h0M56.1 173.6h0M56.3 166.8h0M56.2 175.4h0M56.2 173.5h0M56.2 172.2h0M56.2 170.4h0M56.2 169h0M56.2 167.8h0M56.2 165.4h0M56.2 164h0M56.2 162.1h0M56.2 159.9h0M56.2 158h0M56.2 156.3h0M56.2 154.4h0M56.8 172.3h0M56.9 175.5h0M58.3 170.5h0M58.6 174.9h0M59.2 177.5h0M59.2 179.8h0M64.3 162.3h0M64.5 170.6h0M65.4 171.5h0M64.7 168.7h0M64.7 170h0M65.8 165.2h0M66.3 171.7h0M66.8 163.1h0M67 170.4h0M67.8 172.9h0M68.1 173.9h0M68.3 175.9h0M68.3 174h0M68.3 172.1h0M69.2 171.9h0M68.7 164.3h0M69.7 174.6h0M69.6 168h0M70.9 175.4h0M71.5 171.1h0M71.3 175.3h0M72 175.8h0M72.5 170.2h0M71.7 152.7h0M73.5 172.8h0M72.9 171.5h0M73.7 173.9h0M73.8 177.9h0M75.4 178.5h0M75.1 179.4h0M74.9 180.2h0M75.8 178.6h0M76.5 181.9h0M77.1 175h0M77 180h0M77.9 175.1h0M78.3 178.2h0M77.7 183.6h0M77.7 182.3h0M77.7 180.1h0M78.7 174.9h0M79.5 177.7h0M78.9 182.6h0M78.9 181.2h0M80.6 172.5h0M80.1 182.7h0M81 184h0M81 180.4h0M82.1 184.1h0M81.9 183.9h0M83.2 181.2h0M83.4 179.4h0M84 184.9h0M84.6 186.4h0M84.6 179.3h0M85.5 182.6h0M142.1 182.1h0M142.4 175h0M143 183.9h0M143 181.5h0M143 180.1h0M143 177.5h0M143 175.6h0M143 173.1h0M143 170.6h0M143 169.1h0M143 166.8h0M143 164.3h0M143.8 185.6h0M143.9 184.7h0M143.9 177.8h0M144.2 184.9h0M144.5 184.4h0M145.9 185.7h0M145.8 186.1h0M146.4 176.9h0M146.6 181.5h0M146.6 150.6h0M147.4 178.3h0M147.3 174.9h0M148.8 183.6h0M148.2 179.3h0M148.3 184.9h0M148.3 182.3h0M148.3 180.3h0M148.3 178.2h0M148.3 176.5h0M148.3 175.3h0M148.3 174.1h0M148.3 172.7h0M148.3 170.6h0M148.3 168.8h0M148.3 166.9h0M148.7 183.7h0M149 186.9h0M149.4 186.6h0M149.6 185.2h0M150.5 184.8h0M150.9 184h0M151.4 180.3h0M151 175.8h0M152.6 176.7h0M152.9 172.7h0M152 178.4h0M152 176.6h0M152 175.1h0M152 173.8h0M152 171.5h0M152 170.3h0M152 168.3h0M152 165.8h0M152 164.4h0M152 162.9h0M152 160.9h0M152 159h0M153.2 178.2h0M153.3 179.9h0M154.7 180h0M154.8 172.5h0M155.5 178.9h0M155.1 178.8h0M155.7 177.9h0M155.7 175.5h0M156.6 176.8h0M156.8 175.7h0M157 179.3h0M157 176.9h0M157 175.7h0M157 174.1h0M157 172.6h0M157 170.4h0M157 167.8h0M157.9 184h0M157.2 175.7h0M158.7 180.4h0M158.5 182.9h0M159.4 184.8h0M159.6 190.2h0M159.1 189.3h0M159.1 187.9h0M159.1 186.6h0M159.1 185.3h0M159.1 182.8h0M159.1 181.1h0M159.7 191.5h0M160.6 185.3h0M160.7 191.8h0M161.8 182.3h0M161.9 190.8h0M162.9 188.7h0M162.2 188.6h0M162.8 187.1h0M162.8 184.7h0M162.8 182.7h0M162.8 181.1h0M162.8 179.7h0M162.8 178.4h0M162.8 176.1h0M162.8 174.6h0M162.8 173h0M162.8 171.2h0M162.8 170h0M162.8 168.4h0M162.8 166.8h0M163.3 175.7h0M163.5 177.7h0M163.4 180.6h0M164.8 182.8h0M164.7 180.6h0M164.1 182.5h0M164.1 181.1h0M164.1 179.9h0M164.1 178.4h0M164.1 176.2h0M164.1 173.6h0M164.1 172.4h0M164.1 170.5h0M164.1 168.6h0M164.1 166.3h0M164.1 164.8h0M164.1 162.9h0M165.3 173.1h0M165.3 183h0M166.1 178.2h0M166.1 175.8h0M167.6 181.7h0M167.4 181.3h0M167 157.7h0M168.2 182.6h0M168.9 180h0M168.2 182.6h0M168.2 180.7h0M168.2 178.4h0M168.2 176.2h0M168.2 174.1h0M168.2 172.4h0M168.2 170.7h0M168.2 169.3h0M168.2 166.9h0M168.2 164.8h0M168.2 162.5h0M169.8 179h0M169.1 180.5h0M170.2 183.7h0M170.7 176.4h0M170.2 184.5h0M171.3 187.7h0M172 181.3h0M171.1 187.3h0M171.1 184.8h0M171.1 182.5h0M171.1 180.2h0M171.1 178.4h0M171.1 176.9h0M171.1 174.9h0M171.1 173.5h0M171.1 172h0M171.1 170.3h0M171.1 169h0M171.1 167.3h0M172.5 184.2h0M172.5 189.5h0M173.7 179.7h0M173.4 185.1h0M174.2 182.9h0M174.9 182h0M175.7 184.1h0M175.5 188.1h0M175.8 183.5h0M176.7 184.3h0M176.3 187h0M177.4 180.6h0M177.9 186.2h0M178.4 177.2h0M179 180.9h0M179.8 168.1h0M179.5 178.7h0M180.7 176.9h0M180.6 172.1h0M181.9 182.5h0M181.7 180.8h0M181.4 147.5h0M227.7 171.6h0M226.9 176.7h0M227.8 181.2h0M228.8 175.4h0M228.2 178.4h0M228.8 181h0M228.8 179.8h0M228.8 178.2h0M228.8 176.5h0M228.8 174.1h0M228.8 171.6h0M228.8 169.2h0M228.8 168h0M228.8 165.7h0M228.8 163.5h0M228.8 161.4h0M228.6 179.8h0M229.7 175.1h0M229.1 176.3h0M229.1 176.8h0M229.9 177.5h0M230 180.1h0M229.8 179.1h0M229.8 177.6h0M229.8 176.4h0M229.8 173.9h0M229.8 172.4h0M229.8 169.9h0M230.9 177.7h0M230.9 170.4h0M232.3 178.7h0M232.6 177.1h0M231.9 177.8h0M233.5 175.9h0M232.9 171h0M233 179.8h0M233 177.4h0M233 175.7h0M233 174.3h0M234.7 180h0M234.8 180.3h0M235 176.5h0M235.1 178.8h0M235.8 177.2h0M235.7 176.1h0M235.9 171.9h0M236.1 167.5h0M236.1 178.7h0M236.1 177.5h0M236.1 175.1h0M236.1 173.2h0M236.1 171.7h0M236.1 169.9h0M236.1 167.4h0M236.1 165.9h0M236.1 163.9h0M236.1 162.5h0M236.1 161.1h0M237 175.9h0M236.9 170.7h0M238 168.5h0M238.5 165.4h0M238.9 166.7h0M239.2 166.9h0M239.1 171.5h0M239.1 169.1h0M239.1 167.2h0M239.1 166h0M239.1 163.5h0M239.1 161.6h0M239.1 159.2h0M239.1 157.6h0M239.1 156.2h0M240 171.5h0M240.4 174h0M241.3 173.6h0M241.5 165.3h0M242.5 171.4h0M242.6 173.9h0M243.3 176.5h0M243.3 176.2h0M243 180.1h0M243 178.7h0M243 177.2h0M243 174.8h0M243 173.6h0M243 172.2h0M243 170.1h0M243 168.6h0M243 167.4h0M243 165.3h0M243 163.3h0M243 161.4h0M243 159.2h0M243 157.9h0M243.8 195.6h0M244.3 192h0M244.2 195.6h0M244.9 191.1h0M245.5 195.3h0M246.2 193h0M246.6 191.7h0M246.6 195h0M246.6 193.4h0M246.6 191.8h0M246.6 190h0M246.6 187.4h0M246.6 185.1h0M246.6 182.6h0M246.6 180.3h0M246.6 177.9h0M246.6 176.6h0M246.6 174.7h0M247 193h0M247.4 193.6h0M247.3 189.2h0M247.8 195.5h0M248.8 188h0M249.6 183.7h0M249.7 193.5h0M250.5 186.5h0M250.3 177.4h0M251.3 184.8h0M251.8 186.4h0M250.9 186.2h0M250.9 183.7h0M250.9 181.8h0M250.9 180.2h0M250.9 178.3h0M250.9 176.4h0M251.1 186.3h0M252.2 186.4h0M252 187.8h0M253.4 183.1h0M253.5 187.1h0M254.3 182.5h0M254.3 186.2h0M254.3 186.9h0M254.7 182.8h0M255 183.3h0M255.3 186.4h0M256.6 187.4h0M255.9 178.4h0M256.9 183.3h0M257.8 177h0M257.2 182.4h0M257.2 180.3h0M258.3 168.6h0M258.5 168.3h0M259.5 165.6h0M258.9 166.4h0M259.4 174.5h0M259.4 172h0M259.4 170h0M259.4 168.2h0M259.4 165.9h0M259.4 163.5h0M259.4 161.4h0M259.4 159.7h0M260.5 174.3h0M260.2 171.3h0M260.6 173.5h0M260.6 171.6h0M261.1 175.5h0M261.4 171h0M261.1 173.5h0M261.1 171.1h0M261.1 168.6h0M261.1 167.1h0M261.1 165.3h0M261.1 162.8h0M261.1 161.6h0M261.1 160.3h0M261.1 158.3h0M261.1 156.4h0M261.1 153.9h0M262.8 171.8h0M262.3 169.4h0M262.4 174.9h0M262.4 172.4h0M262.9 173.5h0M263.2 171.2h0M304.3 172.2h0M304.6 173.3h0M305.9 167h0M306 165.2h0M306.1 171.1h0M306.6 175.8h0M307.5 172.2h0M307.3 176h0M307.7 175.7h0M308.4 178.4h0M308.7 176.1h0M309.5 174.2h0M309.4 178.6h0M309.5 178.7h0M309.5 176.3h0M309.5 174.7h0M309.5 173.4h0M309.5 171.4h0M309.5 169.9h0M309.5 168h0M309.5 166h0M309.5 164.5h0M309.5 162.5h0M309.5 161.1h0M309.5 159.2h0M309.5 157.2h0M310.1 176.2h0M310.9 174.8h0M311.1 168h0M311.7 179.5h0M312.2 169.5h0M312.6 172.8h0M312.1 180h0M312.1 178.3h0M312.1 177.1h0M312.1 175.1h0M312.1 173.6h0M312.1 171.9h0M312.1 169.8h0M312.1 168h0M312.1 165.5h0M312.1 163.4h0M313.9 172.6h0M313.2 174.8h0M313.7 179.8h0M313.7 178.4h0M313.7 176.7h0M313.7 174.4h0M313.7 171.9h0M313.7 169.7h0M313.7 168.4h0M313.7 166.4h0M313.7 165.1h0M314.1 173.2h0M314.7 182.4h0M314.8 182h0M314.8 180.6h0M314.8 179.4h0M314.8 178.1h0M315.6 183.6h0M315.7 182.7h0M315.5 183.2h0M315.5 180.8h0M315.5 178.3h0M315.5 177.1h0M315.5 175.4h0M315.5 174h0M315.5 172.1h0M315.5 169.7h0M315.5 167.4h0M315.5 166.1h0M315.5 164.7h0M316.4 182.8h0M316.2 177.3h0M316.6 186.3h0M316.6 184.6h0M316.6 183.1h0M316.6 180.7h0M316.6 178.6h0M316.6 177.4h0M316.6 175.9h0M316.6 174.2h0M316.6 172.4h0M316.6 170.4h0M316.6 168.6h0M316.6 166.9h0M316.6 165.7h0M316.6 163.7h0M317 179.1h0M317 186.9h0M317.7 186h0M317.3 185.8h0M317.3 183.9h0M317.3 181.3h0M317.8 177.6h0M318.9 176.5h0M318.6 178.7h0M318.8 181.9h0M319.3 169.7h0M319.7 173.4h0M320.6 171.2h0M320.1 171.9h0M320.5 172.9h0M320.5 171.4h0M320.5 169.8h0M320.5 168.1h0M320.5 166.7h0M320.5 165.5h0M320.5 163.1h0M320.5 161.3h0M320.5 159.5h0M320.5 157.5h0M320.5 155.8h0M320.5 154.4h0M320.5 153.1h0M320.5 151.5h0M321.6 163.2h0M321.3 163.5h0M321.6 171.6h0M323 171.7h0M322.8 170.9h0M322.9 166h0M323.3 172.6h0M323 173.3h0M323.2 172.8h0M323.2 171.3h0M323.2 169.3h0M323.2 166.9h0M323.2 164.8h0M323.2 163.3h0M323.2 161.1h0M324.1 165.4h0M324.9 171.9h0M325.9 173h0M325.3 166.4h0M326.7 174.4h0M326.1 173.6h0M326.3 175h0M326.3 173h0M326.3 171.4h0M326.3 169.6h0M326.3 168.4h0M326.3 165.9h0M327.1 176h0M327.7 179.5h0M327.4 161.3h0M328.5 179.4h0M328.6 178.4h0M329.7 184.1h0M329.7 177.7h0M330.8 172.4h0M330.5 182.5h0M331.1 180h0M331.5 173.9h0M333 176.9h0M332.8 177.7h0M332.1 176.5h0M333.9 175.6h0M333.1 177.2h0M334.2 178h0M334.8 176.8h0M335.6 175.8h0M335.8 174.5h0M335.1 175.8h0M335.1 174.5h0M335.1 172.4h0M335.1 170.6h0M335.1 168.2h0M335.1 166.9h0M335.1 165h0M335.1 163.2h0M335.1 160.7h0M335.1 158.2h0M335.1 156.1h0M372 185.1h0M371.7 178.8h0M372.2 185.3h0M372.2 183.5h0M372.2 181h0M372.2 179.1h0M372.2 176.7h0M372.2 175.4h0M372.2 173.6h0M371.5 163.3h0M373 186.4h0M373.3 182.4h0M374.1 180.9h0M373.7 186.3h0M373.6 157.3h0M374.5 187.1h0M375.2 176.3h0M374.7 184.7h0M374.7 182.5h0M374.7 181.1h0M374.7 179.8h0M374.7 177.6h0M374.7 176.4h0M375.6 182.4h0M375.7 182.7h0M375.7 185h0M375.7 183.6h0M375.7 181.2h0M375.7 178.7h0M375.7 176.9h0M375.7 175.7h0M375.7 173.9h0M375.7 171.8h0M375.7 170.3h0M375.7 168.4h0M375.7 167h0M375.7 165.2h0M377.1 187.2h0M377.2 187.2h0M378.3 183.4h0M377.7 185.5h0M379.3 187.5h0M378.9 178.3h0M379.5 187.4h0M379.7 177.9h0M385.3 179.8h0M385 168.5h0M385.1 179.7h0M385.1 178.1h0M385.1 176.2h0M385.1 174.7h0M385.1 172.5h0M385.1 171h0M385.1 168.7h0M385.1 167.1h0M385.1 165.8h0M385.1 163.8h0M385.1 162.5h0M385.1 160.5h0M385.1 158.2h0M385.4 175.6h0M385.5 173.8h0M385.8 178.6h0M385.8 176.5h0M385.8 175.1h0M385.8 173.6h0M385.8 171.1h0M385.8 169.5h0M386.9 179.1h0M386.5 169.9h0M386.9 179.3h0M386.9 177.4h0M386.9 176h0M386.9 174.1h0M386.9 172.1h0M387.8 178.6h0M387.5 178.3h0M389.3 179.4h0M389.3 175.6h0M390.1 178.1h0M390.2 178.7h0M391.3 178.9h0M391 178h0M392.1 178.9h0M391.6 173.7h0M392.1 167.5h0M393.2 176.7h0M393.2 175.4h0M392.8 145.1h0M393.8 178.5h0M393.6 171.5h0M394.7 178.1h0M394.6 177.6h0M395.4 176.3h0M395.4 174.4h0M395.4 172.5h0M395.4 170.2h0M395.4 167.7h0M395.4 165.5h0M395.4 163.4h0M395.4 161.9h0M395.4 159.8h0M395.4 157.5h0M394.7 163.5h0M395.6 167.2h0M396.1 171h0M396.3 175.8h0M396.3 173.6h0M396.3 171.2h0M396.3 168.9h0M396.3 166.8h0M396.3 165h0M396.3 162.7h0M396.3 160.4h0M396.3 158h0M396.9 167.4h0M396.5 167h0M398.2 177.1h0M397.6 174.8h0M398.3 176.2h0M398.3 174h0M398.3 172.3h0M399.1 167.2h0M399.2 175.3h0M399.2 177.1h0M399.2 175.1h0M399.2 172.7h0M399.2 170.4h0M399.2 169.2h0M399.2 167.3h0M399.2 166.1h0M431.4 173.9h0M431.8 177.8h0M433 176.1h0M432.9 173.8h0M433.4 176.5h0M433.4 173.9h0M433.4 172.3h0M433.4 169.7h0M433.4 168.4h0M433.4 166.5h0M433.4 165.1h0M433.4 163.3h0M433.4 161.2h0M433.4 159h0M433.4 157.1h0M433.8 178.3h0M433.6 172.6h0M434.6 174.1h0M434.6 179.5h0M436.4 174h0M436.3 171h0M436.5 181.2h0M436.4 172.7h0M437.7 180.4h0M437.6 177h0M438.4 182.6h0M438.8 173.2h0M439.5 183.6h0M439.6 175.9h0M441.3 175.7h0M440.9 175.2h0M441.7 184h0M442.3 177.1h0M442.8 176.7h0M442.8 175.4h0M442.6 183.8h0M444 181.5h0M443.4 175.1h0M444.4 174.1h0M444.9 183.8h0M445.3 182.5h0M445.3 180.5h0M445.3 179h0M445.3 177.4h0M445.3 175h0M445.3 173.2h0M445.5 183.1h0M445.9 178.9h0M446.8 184.3h0M447.1 184.3h0M448.1 178h0M447.6 178.9h0M448.5 175.1h0M449 185.3h0M448.6 184.3h0M448.6 182h0M448.6 179.6h0M448.6 177.5h0M448.6 175.3h0M448.6 174h0M448.6 172.7h0M448.6 170.1h0M448.6 167.8h0M448.6 166.6h0M448.6 165.3h0M448.6 163.8h0M450.1 175.3h0M450 175.5h0M450.1 149.9h0M450.6 177.8h0M450.6 182.2h0M451.3 183.6h0M451.3 182.4h0M451.3 180h0M451.3 178h0M451.3 175.7h0M451.3 173.8h0M451.3 171.7h0M451.3 169.7h0M450.9 185.7h0M451.7 184h0M451.4 179.3h0M452.2 185.4h0M452.2 184h0M452.2 181.9h0M452.2 180.4h0M452.2 178.6h0M452.2 177.3h0M452.2 174.7h0M452.2 172.7h0M452.2 171h0M452.2 169.7h0M452.2 167.5h0M452.5 184.7h0M452.7 179.4h0M453.4 184.9h0M453.4 183.6h0M453.4 182.3h0M453.4 181h0M453.4 178.8h0M453.4 176.8h0M453.8 182.1h0M454 177.1h0M455.3 178.9h0M455.1 187.9h0M455.8 168.4h0M455.6 167.2h0M455.7 177.2h0M455.7 175.5h0M455.7 173.9h0M455.7 172.5h0M455.7 170.7h0M455.7 168.1h0M455.7 166h0M455.7 163.5h0M457.4 168.9h0M456.7 175.2h0M457.7 168h0M458.2 166h0M493.6 174.7h0M493.8 175.8h0M493.6 179h0M494.7 181.9h0M494.5 179.2h0M495.8 175.1h0M495.8 181.3h0M495.6 168.5h0M496.8 170.7h0M497.2 173h0M498.1 170.6h0M497.6 174.2h0M498.2 180.2h0M499 187.4h0M498.4 183.9h0M499.5 195.3h0M499.6 188.6h0M499.7 193.2h0M500.3 193.8h0M501.4 195.9h0M500.7 192.2h0M500.9 195.7h0M500.9 194.4h0M500.9 193.1h0M500.9 191.7h0M500.9 190.3h0M501.7 188.7h0M502.1 194.8h0M503.3 192.7h0M502.5 196.8h0M504.1 196.8h0M504.2 189.5h0M503.6 195.8h0M503.6 193.5h0M503.6 191.2h0M503.6 189.7h0M503.6 188.3h0M504.5 178.2h0M505 178.8h0M505.7 174h0M505.9 169.8h0M505.6 176.1h0M505.6 174h0M505.6 171.9h0M505.6 169.8h0M505.6 167.3h0M505.6 165.9h0M505.6 164.2h0M505.6 162.1h0M506.6 169.1h0M507.2 170h0M507.7 175.1h0M508.1 176.9h0M507.9 176.4h0M508.6 172.1h0M509.3 179.4h0M510.1 185h0M510.2 189h0M509.9 188.6h0M509.9 186.5h0M509.9 184.9h0M511.1 182.7h0M510.8 187.3h0M512 190.9h0M511.9 185.4h0M512 183.7h0M542.4 186.8h0M542.3 186.1h0M542.2 189.6h0M542.2 187.6h0M542.2 186h0M542.2 184.4h0M542.2 182.6h0M542.2 180.7h0M541.7 190.8h0M543.1 182.1h0M542.6 188.3h0M544 178.2h0M543.6 183.3h0M545.1 180.2h0M544.7 178.1h0M544.8 152.5h0M545.5 186.4h0M546.2 180.2h0M546 183.6h0M546 182h0M546 179.7h0M546.6 183.3h0M547 184.4h0M546.5 185.6h0M546.5 184h0M547.9 182.5h0M548.4 182h0M548.6 180.1h0M548.5 184.6h0M549.4 184.1h0M549.4 182.4h0M549.4 180.6h0M549.4 178.9h0M549.4 176.8h0M549.4 175h0M549.4 173.6h0M549.4 171.2h0M549.1 162.6h0M549.8 179.2h0M550.3 182.1h0M550 182.9h0M550 180.7h0M550.3 179.4h0M551.2 179.3h0M551.1 182.3h0M551.8 183.3h0M551.5 173.9h0M551.9 179.4h0M552.9 182.2h0M553.3 182.4h0M554 181.6h0M553.7 182.6h0M554.7 183.5h0M554.8 183.6h0M555.7 184.5h0M556.2 186h0M555.5 184h0M557.2 186.7h0M556.6 187.1h0M557.1 184.5h0M557.1 182h0M557.1 180h0M557.1 177.5h0M557.1 176.2h0M557.1 173.7h0M557.1 171.9h0M558.3 185.3h0M557.5 178.3h0M559.4 189.7h0M558.5 189.4h0M559 189.5h0M559 188h0M559 186.6h0M559 184.5h0M559 182.4h0M559 179.8h0M559 178.1h0M559 175.6h0M580.5 177.1h0M580.3 169.5h0M581 172.8h0M581.4 176.5h0M581.3 177.8h0M582.4 172.5h0M582.4 179.6h0M583.8 169.7h0M582.9 176.2h0M584.3 183.1h0M583.8 184.1h0M584.4 183.3h0M585.2 181h0M585.4 187.5h0M586.2 186.6h0M586.1 180.6h0M585.9 192h0M585.9 190h0M585.9 188.5h0M585.9 186.6h0M585.9 185.2h0M585.9 182.9h0M585.9 180.7h0M585.9 178.6h0M585.9 176.1h0M585.9 173.5h0M585.9 171.3h0M586.2 191.4h0M587.8 190.1h0M587.4 192h0M587.4 189.5h0M587.4 188.3h0M587.4 186.8h0M587.4 185.4h0M587.4 183h0M587.4 181.7h0M587.4 179.2h0M587.4 177.6h0M587.4 175.2h0M587.4 173.2h0M587.4 171.6h0M588.5 190.3h0M588.6 178.9h0M588.1 190.1h0M588.1 188.3h0M588.1 186.2h0M588.1 183.7h0M588.1 181.1h0M588.1 178.5h0M588.1 176.4h0M588.1 174.3h0M589.4 184.7h0M589.7 185.7h0M588.9 185.2h0M590.3 182.1h0M590.4 184.1h0M590.2 186.3h0M591 179.3h0M591 178.2h0M591.3 185.8h0M592 180.7h0M592.6 183.6h0M593.4 186.4h0M592.9 186.9h0M594.3 176.8h0M594 187h0M594.7 185.4h0M594.7 183.6h0M594.6 186h0M595.4 187.4h0M595.4 187.9h0M595.9 181h0M596.5 184.3h0M596.2 186.5h0M596.2 185.1h0M596.2 182.7h0M596.2 181.5h0M596.2 179.9h0M596.2 178.2h0M596.2 176.7h0M596.2 175.4h0M614.6 184.4h0M615.3 176.7h0M615.3 184.7h0M615.3 183.2h0M615.3 181h0M615.3 179.2h0M615.3 177.9h0M615.3 175.4h0M615.3 173.6h0M615.3 171.8h0M615.3 169.8h0M615.3 168.2h0M615.3 167h0M615.3 165.3h0M615.3 163.5h0M616.2 183.9h0M616.1 180.3h0M616.6 176.7h0M617.3 184.8h0M617.7 185.9h0M617.7 180.1h0M618.5 185h0M618.7 183h0M618.5 183h0M618.5 181.5h0M618.5 179.1h0M618.5 177.6h0M618.5 175.5h0M618.5 173.8h0M618.5 172.6h0M618.5 170.2h0M618.5 167.9h0M618.5 166.3h0M618.5 164h0M619.5 183.4h0M619.6 180.3h0M620.9 180.7h0M621.2 183h0M620.8 180.3h0M620.8 179h0M620.8 177.1h0M620.8 175.6h0M620.8 174.4h0M620.8 173.1h0M620.8 171.8h0M620.8 170.1h0M620.8 168.3h0M622.1 176.1h0M622.4 179.6h0M622.8 171.6h0M622.6 171.3h0M623 179.4h0M623 177.8h0M623 176.5h0M623.5 176.2h0M623.9 180.3h0M623.7 181h0M623.7 178.5h0M623.7 176.8h0M623.7 175h0M623.7 173.6h0M623.7 171.5h0M623.7 169.3h0M623.7 167.5h0M623.7 165.7h0M623.7 164.2h0M623.7 161.9h0M623.7 160.1h0M625.1 183.4h0M624.6 172.2h0M625.9 181.1h0M625.6 184h0M645 176.4h0M645.5 180.7h0M645.9 179.7h0M645.9 179.7h0M646.1 180.1h0M646.1 178.3h0M646.1 176.5h0M646.1 174.2h0M645.8 178h0M647.1 180.7h0M647.5 172.9h0M647.8 173.3h0M648.2 170.3h0M647.9 178.2h0M649.2 173.1h0M649.6 177.3h0M649.7 179.8h0M649.7 177.7h0M649.7 175.7h0M650 176.3h0M650.7 180.8h0M650.8 181h0M650.8 178.9h0M650.8 176.8h0M650.8 174.4h0M650.8 172.6h0M650.8 171.2h0M650.8 169.6h0M650.8 167.4h0M650.8 165.1h0M650.8 163.7h0M650.8 161.6h0M650.8 159.4h0M650.1 174h0M651.4 178.9h0M650.9 174.7h0M651.1 179.4h0M651.1 177h0M651.1 175.7h0M651.1 173.4h0M651.1 172.2h0M651.1 169.6h0M651.1 168.4h0M651.1 166.2h0M651.1 164.5h0M651.1 163h0M652.2 180.6h0M652.3 179.3h0M66.7 134h0M66.5 135.6h0M66.6 137.2h0M66.4 138.8h0M66.6 140.4h0M66.5 142h0M66.6 143.6h0M66.5 145.2h0M66.5 146.8h0M66.7 148.4h0M66.4 150h0M66.8 151.6h0M66.6 153.2h0M66.5 154.8h0M66.4 156.4h0M66.6 158h0M66.6 159.6h0M75.7 151h0M75.5 152.8h0M75.6 154.6h0M75.8 156.4h0M75.5 158.2h0M75.8 160h0M75.8 161.8h0M75.8 163.6h0M75.8 165.4h0M83.5 156h0M83.8 158h0M83.7 160h0M83.5 162h0M83.8 164h0M83.7 166h0M83.8 168h0M83.6 170h0M170.6 20h0M170.6 21.3h0M170.3 22.6h0M170.5 23.9h0M170.4 25.2h0M170.3 26.5h0M170.3 31h0M170.5 32.3h0M170.6 33.6h0M170.6 34.9h0M170.5 36.2h0M170.2 37.5h0M170.2 38.8h0M170.4 40.1h0M170.3 41.4h0M170.3 42.7h0M170.2 44h0M170.2 45.3h0M170.5 46.6h0M170.3 47.9h0M170.6 49.2h0M170.3 50.5h0M170.6 51.8h0M170.3 53.1h0M170.3 54.4h0M170.3 55.7h0M170.2 57h0M170.4 58.3h0M170.3 59.6h0M170.2 60.9h0M170.6 62.2h0M170.3 63.5h0M170.2 64.8h0M170.6 66.1h0M170.3 67.4h0M170.3 111h0M170.2 112.3h0M170.2 113.6h0M170.5 114.9h0M170.4 116.2h0M170.4 117.5h0M170.3 118.8h0M170.3 120.1h0M170.6 121.4h0M170.3 122.7h0M170.6 124h0M170.6 125.3h0M170.2 126.6h0M170.6 127.9h0M170.2 129.2h0M170.5 130.5h0M170.6 131.8h0M170.5 133.1h0M170.4 134.4h0M170.6 135.7h0M170.2 137h0M170.4 138.3h0M170.3 139.6h0M170.3 140.9h0M170.2 142.2h0M170.5 143.5h0M170.4 144.8h0M170.5 146.1h0M170.5 147.4h0M170.4 148.7h0M170.6 150h0M170.6 151.3h0M170.4 152.6h0M170.3 153.9h0M170.6 155.2h0M170.3 156.5h0M170.2 157.8h0M170.3 159.1h0M170.5 160.4h0M170.6 161.7h0M170.5 163h0M170.5 164.3h0M170.6 165.6h0M170.5 166.9h0M170.4 168.2h0M170.4 169.5h0M170.5 170.8h0M170.3 172.1h0M170.2 173.4h0M170.5 174.7h0M163.2 103h0M162.9 104.4h0M163.1 105.8h0M163.2 107.2h0M162.8 108.6h0M162.8 110h0M163 111.4h0M162.9 112.8h0M163.2 114.2h0M163.2 115.6h0M163 130h0M163.1 131.4h0M163.1 132.8h0M162.8 134.2h0M163.2 135.6h0M162.8 137h0M162.8 138.4h0M163 139.8h0M162.8 141.2h0M163 142.6h0M163 144h0M163.2 145.4h0M163 146.8h0M163.2 148.2h0M163.1 149.6h0M163 151h0M162.9 152.4h0M162.9 153.8h0M163 155.2h0M162.9 156.6h0M163.1 158h0M163 159.4h0M162.9 160.8h0M163.1 162.2h0M163.2 163.6h0M162.9 165h0M162.9 166.4h0M162.8 167.8h0M162.8 169.2h0M162.8 170.6h0M163 172h0M163.2 173.4h0M163.1 174.8h0M181.6 109h0M181.6 110.4h0M181.4 111.8h0M181.4 113.2h0M181.2 114.6h0M181.3 116h0M181.3 117.4h0M181.5 118.8h0M181.2 120.2h0M181.4 121.6h0M181.3 123h0M181.4 124.4h0M181.4 125.8h0M181.2 127.2h0M181.5 128.6h0M181.6 130h0M181.4 131.4h0M181.2 132.8h0M181.4 134.2h0M181.6 135.6h0M181.6 137h0M181.5 138.4h0M181.2 139.8h0M181.6 141.2h0M181.5 142.6h0M181.3 144h0M181.6 145.4h0M181.6 146.8h0M181.6 148.2h0M181.3 149.6h0M181.4 151h0M181.3 152.4h0M181.3 153.8h0M181.5 155.2h0M181.5 156.6h0M181.3 158h0M181.4 159.4h0M181.6 160.8h0M181.4 162.2h0M181.6 163.6h0M181.4 165h0M181.6 166.4h0M181.2 167.8h0M181.4 169.2h0M181.4 170.6h0M228.1 136h0M228.2 137.8h0M227.9 139.6h0M227.9 141.4h0M227.9 143.2h0M228.1 145h0M228 146.8h0M228.1 148.6h0M227.9 150.4h0M228 152.2h0M228.2 154h0M228.1 155.8h0M228.2 157.6h0M227.9 159.4h0M228 161.2h0M227.9 163h0M227.9 164.8h0M228.2 166.6h0M227.8 168.4h0M312.6 115h0M312.3 116.5h0M312.2 118h0M312.6 119.5h0M312.6 121h0M433.7 131h0M433.5 132.8h0M433.6 134.6h0M433.5 136.4h0M433.6 138.2h0M433.6 140h0M433.8 141.8h0M433.8 143.6h0M433.8 145.4h0M433.6 147.2h0M433.8 149h0M433.4 150.8h0M433.8 152.6h0M433.7 154.4h0M433.8 156.2h0M433.6 158h0M433.8 159.8h0M433.4 161.6h0M433.8 163.4h0M433.8 165.2h0M433.5 167h0M433.8 168.8h0M442.3 130h0M442.5 131.8h0M442.4 133.6h0M442.4 135.4h0M442.2 137.2h0M442.6 139h0M442.5 140.8h0M442.2 142.6h0M442.6 144.4h0M442.3 146.2h0M442.3 148h0M442.4 149.8h0M442.4 151.6h0M442.6 153.4h0M442.6 155.2h0M442.5 157h0M442.3 158.8h0M442.2 160.6h0M442.2 162.4h0M442.4 164.2h0M442.4 166h0M442.4 167.8h0M442.6 169.6h0M448 138h0M447.9 139.8h0M448 141.6h0M447.8 143.4h0M448.2 145.2h0M448 147h0M448 148.8h0M448 150.6h0M447.9 152.4h0M447.9 154.2h0M448 156h0M448 157.8h0M448.2 159.6h0M448 161.4h0M447.9 163.2h0M447.8 165h0M447.8 166.8h0M447.9 168.6h0M456.1 151h0M456.2 153h0M455.9 155h0M456.1 157h0M456 159h0M456 161h0M456 163h0M455.8 165h0M455.8 167h0M511.4 123h0M511.7 124.5h0M511.5 126h0M511.6 127.5h0M511.4 144h0M511.5 145.6h0M511.7 147.2h0M511.7 148.8h0M511.7 150.4h0M511.6 152h0M511.7 153.6h0M511.7 155.2h0M511.5 156.8h0M511.6 158.4h0M511.6 160h0M511.7 161.6h0M511.4 163.2h0M511.5 164.8h0M511.5 166.4h0M511.4 168h0M511.5 169.6h0M511.7 171.2h0M511.6 172.8h0M511.4 174.4h0M511.7 176h0M511.4 177.6h0M589.2 18.4h0M589.2 19.4h0M589.3 20.4h0M589.4 21.4h0M589.4 22.4h0M589.3 26.5h0M589.4 27.5h0M589.5 28.5h0M589.5 29.5h0M589.3 30.5h0M589.6 31.5h0M589.5 32.5h0M589.4 33.5h0M589.4 34.5h0M589.3 35.5h0M589.2 36.5h0M589.6 37.5h0M589.5 38.5h0M589.2 39.5h0M589.6 40.5h0M589.6 41.5h0M589.2 42.5h0M589.5 43.5h0M589.3 44.5h0M589.4 45.5h0M589.6 46.5h0M589.3 47.5h0M589.4 48.5h0M589.5 49.5h0M589.2 50.5h0M589.5 51.5h0M589.4 52.5h0M589.6 53.5h0M589.2 54.5h0M589.5 55.5h0M589.2 56.5h0M589.3 57.5h0M589.2 58.5h0M589.2 59.5h0M589.4 60.5h0M589.2 61.5h0M589.5 62.5h0M589.2 63.5h0M589.5 64.5h0M589.6 65.5h0M589.2 66.5h0M589.3 67.5h0M589.5 68.5h0M589.4 69.5h0M589.6 70.5h0M589.3 71.5h0M589.3 72.5h0M589.6 73.5h0M589.3 74.5h0M589.6 75.5h0M589.6 76.5h0M589.3 77.5h0M589.4 78.5h0M589.6 79.5h0M589.2 114h0M589.6 115.6h0M589.5 117.2h0M589.5 118.8h0M589.5 120.4h0M589.2 122h0M589.6 123.6h0M589.2 130h0M589.5 131.3h0M589.5 132.6h0M589.3 133.9h0M589.5 135.2h0M589.4 136.5h0M589.5 137.8h0M589.2 139.1h0M589.6 140.4h0M589.3 141.7h0M589.6 143h0M589.4 144.3h0M589.6 145.6h0M589.3 146.9h0M589.4 148.2h0M589.2 149.5h0M589.4 150.8h0M589.2 152.1h0M589.6 153.4h0M589.5 154.7h0M589.4 156h0M589.6 157.3h0M589.6 158.6h0M589.6 159.9h0M589.2 161.2h0M589.5 162.5h0M589.5 163.8h0M589.5 165.1h0M589.2 166.4h0M589.6 167.7h0M589.4 169h0M621.6 128h0M621.8 129.5h0M621.5 131h0M621.4 132.5h0M621.8 134h0M621.5 135.5h0M621.4 137h0M621.4 138.5h0M621.8 140h0M621.7 141.5h0M621.5 143h0M621.4 144.5h0M621.8 146h0M621.7 147.5h0M621.6 149h0M621.4 150.5h0M621.6 152h0M621.8 153.5h0M621.4 155h0M621.6 156.5h0M621.4 158h0M621.8 159.5h0M645.2 128h0M645.5 129.6h0M645.3 131.2h0M645.4 132.8h0M645.4 134.4h0M645.3 136h0M645.3 137.6h0M645.2 139.2h0M39.6 156.6h0M44.4 158h0M48.4 147.4h0M49 157h0M57.4 156h0M170.4 93.6h0M181.4 86h0M144 159h0M152.6 154.4h0M156 148.6h0M156 162h0M178 167h0M228 121h0M237.6 137h0M242.6 148.6h0M240.6 153.6h0M255 157.6h0M262 157h0M305 147.4h0M312.4 102h0M312.4 107h0M312.4 132.4h0M312.4 142h0M320.4 143h0M326 149h0M326.6 160h0M378 169h0M390 162h0M397.6 153h0M448.4 121.6h0M497 162h0M501 164h0M551 161h0M589.4 84h0M589.4 88h0M589.4 92h0M589.4 96h0M589.4 100h0M589.4 104h0M645.4 147.6h0M645.4 160h0"/>
<path fill="#4682b4" d="M89.3 548.9 L89.3 456.3 L89.8 456.8 L90.3 457.3 L90.8 457.8 L91.3 458.3 L91.8 458.8 L92.3 459.3 L92.8 459.8 L93.3 460.3 L93.8 460.8 L94.3 461 L94.8 461 L95.3 461 L95.8 461 L96.3 461 L96.8 461 L97.3 461 L97.8 461 L98.3 461 L98.9 461 L99.4 461 L99.9 461 L100.4 459.8 L100.9 458.1 L101.4 456.4 L101.9 454.8 L102.4 453.1 L102.9 451.4 L103.4 453.9 L103.9 457.7 L104.4 461.6 L104.9 465.5 L105.4 469.3 L105.9 473.2 L106.4 474 L106.9 474 L107.4 474 L107.9 474 L108.4 474 L108.9 474 L109.4 474 L109.9 474 L110.4 474 L110.9 474 L111.4 474 L111.9 474 L112.4 474 L112.9 474 L113.4 474 L113.9 474 L114.4 474 L114.9 474 L115.4 474 L115.9 474 L116.5 474 L117 474 L117.5 474 L118 474 L118.5 474 L119 474 L119.5 474 L120 474 L120.5 469.7 L121 465.2 L121.5 460.7 L122 456.2 L122.5 458.4 L123 460.9 L123.5 463.4 L124 466 L124.5 468.5 L125 471 L125.5 469.1 L126 467.2 L126.5 465.4 L127 463.5 L127.5 461.6 L128 459.7 L128.5 457.8 L129 456.1 L129.5 457.4 L130 458.7 L130.5 460.1 L131 461.4 L131.5 462.8 L132 464 L132.5 464.6 L133 465.1 L133.5 465.6 L134 466.2 L134.6 466.7 L135.1 467.3 L135.6 467.8 L136.1 468.3 L136.6 468.9 L137.1 469.4 L137.6 469.9 L138.1 470.5 L138.6 471 L139.1 471.5 L139.6 472 L139.6 548.9Z M185.2 548.9 L185.2 456 L185.7 456 L186.2 456.6 L186.7 457.9 L187.2 459.1 L187.8 460.4 L188.3 461.6 L188.8 462.9 L189.3 464.2 L189.8 465.4 L190.3 466.2 L190.8 466.4 L191.3 466.7 L191.8 467 L192.3 467.3 L192.8 467.6 L193.3 467.9 L193.8 468.2 L194.3 468.5 L194.8 468.7 L195.3 469 L195.8 469.3 L196.3 469.6 L196.8 469.9 L197.3 469.9 L197.8 469.7 L198.3 469.6 L198.8 469.4 L199.3 469.2 L199.9 469 L200.4 468.9 L200.9 468.7 L201.4 468.5 L201.9 468.4 L202.4 468.2 L202.9 468 L203.4 465.7 L203.9 462.7 L204.4 459.7 L204.9 456.7 L205.4 455.8 L205.9 455.6 L206.4 455.3 L206.9 455 L207.4 454.8 L207.9 454.5 L208.4 454.3 L208.9 454 L209.4 454.4 L209.9 454.9 L210.4 455.4 L210.9 455.9 L211.4 456.4 L211.9 456.9 L212.5 457.5 L213 458 L213.5 458 L214 458 L214.5 458 L215 458 L215.5 458 L216 458 L216.5 458 L217 458 L217.5 462.9 L218 468 L218.5 468 L219 468 L219.5 468 L220 468 L220.5 468 L221 468 L221.5 468 L222 468 L222.5 468 L223 468 L223.5 468 L224 468 L224.5 468 L225.1 468 L225.6 468 L226.1 468 L226.1 548.9Z M267.3 548.9 L267.3 459 L267.8 459 L268.3 459 L268.8 459 L269.3 459 L269.8 459 L270.3 459 L270.8 459 L271.3 459 L271.8 459 L272.3 459 L272.8 459 L273.3 459 L273.8 459 L274.3 459 L274.8 459 L275.3 459 L275.8 459 L276.3 459 L276.8 459 L277.3 459 L277.8 459 L278.3 463.8 L278.8 471.3 L279.3 474 L279.8 474 L280.3 474 L280.8 474 L281.3 474 L281.8 474 L282.3 474 L282.8 474 L283.3 472.7 L283.8 470.7 L284.3 470 L284.8 470 L285.3 470 L285.8 470 L286.3 470 L286.8 470 L287.3 470 L287.8 470 L288.3 470 L288.9 470 L289.4 470 L289.9 470 L290.4 466.1 L290.9 460.6 L291.4 455.1 L291.9 449.5 L292.4 448 L292.9 448 L293.4 448 L293.9 448 L294.4 448 L294.9 448 L295.4 448 L295.9 448 L296.4 454.3 L296.9 462.9 L297.4 465 L297.9 465 L298.4 465 L298.9 465 L299.4 465 L299.9 465 L300.4 465 L300.9 465 L301.4 465 L301.9 465 L302.4 465 L302.9 465 L303.4 465 L303.9 465 L303.9 548.9Z M339.7 548.9 L339.7 456 L340.2 456 L340.7 456.2 L341.2 456.3 L341.7 456.4 L342.2 456.6 L342.7 456.7 L343.2 456.8 L343.7 456.9 L344.2 457.1 L344.7 457.2 L345.2 457.3 L345.7 457.4 L346.3 457.6 L346.8 457.7 L347.3 457.8 L347.8 457.9 L348.3 458.1 L348.8 458.3 L349.3 458.5 L349.8 458.7 L350.3 458.9 L350.8 459 L351.3 459.2 L351.8 459.4 L352.3 459.6 L352.8 459.8 L353.3 460 L353.8 460.2 L354.3 460.4 L354.8 460.6 L355.3 460.7 L355.8 460.9 L356.3 462.2 L356.8 464 L357.3 465.7 L357.9 467.5 L358.4 468.1 L358.9 468.1 L359.4 468.2 L359.9 468.3 L360.4 468.4 L360.9 468.4 L361.4 468.5 L361.9 468.6 L362.4 468.7 L362.9 468.7 L363.4 468.8 L363.9 468.9 L364.4 469 L364.9 469 L365.4 469.1 L365.9 469.2 L366.4 469.3 L366.9 469.3 L367.4 469.4 L367.9 469.5 L368.4 469.6 L368.9 469.6 L369.5 469.7 L370 469.8 L370.5 469.9 L371 469.9 L371.5 470 L371.5 548.9Z M403 548.9 L403 459 L403.5 459 L404.1 459 L404.6 459 L405.1 459 L405.6 459 L406.1 459 L406.6 459 L407.1 459 L407.6 459 L408.1 459 L408.6 459 L409.1 459 L409.6 459 L410.1 460.1 L410.6 466.6 L411.1 472 L411.6 472 L412.1 472 L412.6 472 L413.1 472 L413.6 472 L414.1 472 L414.6 472 L415.1 472 L415.6 472 L416.1 471 L416.6 467 L417.1 463 L417.6 459 L418.1 456 L418.6 456 L419.1 456 L419.6 456 L420.1 456 L420.6 456 L421.1 456 L421.6 456 L422.2 456 L422.7 456 L423.2 456 L423.7 456 L424.2 456 L424.7 456 L425.2 456.3 L425.7 457.1 L426.2 457.9 L426.7 458.7 L427.2 459.5 L427.7 460.3 L428.2 461.1 L428.7 461.9 L429.2 462.7 L429.7 463.5 L430.2 464.2 L430.7 464.6 L431.2 465 L431.7 465.4 L432.2 465.8 L432.2 548.9Z M462.8 548.9 L462.8 462 L463.3 462 L463.8 462 L464.3 462 L464.8 462 L465.3 462 L465.8 462 L466.3 462 L466.8 462 L467.3 462 L467.8 462 L468.3 458.5 L468.8 453.2 L469.3 447.9 L469.8 442.6 L470.3 441 L470.9 441 L471.4 441 L471.9 441 L472.4 441 L472.9 441 L473.4 441 L473.9 441 L474.4 441 L474.9 441 L475.4 441 L475.9 441 L476.4 441 L476.9 441 L477.4 441 L477.9 441 L478.4 446.7 L478.9 453.5 L479.4 460.3 L479.9 467.1 L480.4 468 L480.9 468 L481.5 468 L482 468 L482.5 468 L483 468 L483.5 468 L484 468 L484.5 468 L485 468 L485.5 468 L486 468 L486.5 463.5 L487 459 L487.5 454.4 L488 450 L488.5 450.4 L489 450.9 L489.5 451.3 L490 451.8 L490.5 452 L490.5 548.9Z M520.7 548.9 L520.7 468 L521.2 468 L521.7 468 L522.2 468 L522.7 468 L523.2 468 L523.7 468 L524.2 468 L524.7 468 L525.2 468 L525.7 468 L526.2 466.7 L526.7 464 L527.2 461.2 L527.7 458.4 L528.2 457 L528.7 457 L529.2 457 L529.8 457 L530.3 457 L530.8 457 L531.3 457 L531.8 457 L532.3 457 L532.8 457 L533.3 457 L533.8 457 L534.3 457 L534.8 457 L535.3 457.4 L535.8 458.1 L536.3 458.8 L536.8 459.5 L537.3 460.2 L537.8 460.9 L538.3 461.6 L538.8 462.3 L539.3 463 L539.8 463.7 L539.8 548.9Z M562.9 548.9 L562.9 468 L563.4 468 L563.9 468 L564.4 468 L564.9 468 L565.5 468 L566 468 L566.5 468 L567 468 L567.5 468 L568 468 L568.5 468 L569 468 L569.5 468 L570 468 L570.5 468 L571 468 L571 548.9Z M571.8 548.9 L571.8 466.4 L572.3 466 L572.8 466 L573.3 466 L573.8 466 L574.3 466 L574.8 466 L575.3 466 L575.9 466 L576.4 466 L576.9 466 L577.4 466 L577.9 466 L578.4 466 L578.9 466 L579.4 466 L579.9 466 L580.4 466 L580.9 466 L581.4 466 L581.4 548.9Z M600.7 548.9 L600.7 472 L601.3 472 L601.8 472 L602.3 472 L602.8 472 L603.3 472 L603.8 472 L604.4 472 L604.9 472 L605.4 472 L605.9 472 L606.4 472 L606.9 472 L607.4 472 L608 472 L608.5 464.4 L609 456.1 L609.5 456 L610 456 L610.5 456 L611.1 456 L611.6 456 L612.1 456 L612.6 456 L613.1 456 L613.6 456 L614.1 456 L614.7 456 L615.2 456 L615.7 456 L616.2 456 L616.7 456 L617.2 456 L617.2 548.9Z M630.3 548.9 L630.3 450 L630.8 450 L631.3 450 L631.8 450 L632.3 450 L632.8 450 L633.3 450 L633.8 450 L634.3 450 L634.8 450 L635.3 450 L635.8 450 L636.3 450 L636.8 450 L637.4 452.1 L637.9 455.1 L638.4 456.2 L638.9 456.6 L639.4 456.9 L639.9 457.2 L640.4 457.6 L640.9 457.9 L641.4 458.2 L641.9 458.6 L642.4 458.9 L642.9 459.2 L643.4 459.5 L643.9 459.9 L644.4 460.2 L644.9 460.5 L645.4 460.9 L645.4 548.9Z M658.5 548.9 L658.5 464 L659 464 L659.5 464 L660 464 L660.5 464 L661 464 L661.5 464 L662 464 L662.5 464 L663 464 L663.5 464 L664 464 L664.5 464 L665 464 L665.5 464 L666 464 L666.5 464 L667 464 L667.5 464 L667.5 548.9Z"/>
<path fill="#0000ff" d="M34.3 548.9 L34.3 466 L34.8 466 L35.3 466 L35.8 466 L36.3 466 L36.8 466 L37.3 466 L37.8 466 L38.3 466 L38.9 466 L39.4 466 L39.9 466 L40.4 465.9 L40.9 465.6 L41.4 465.4 L41.9 465.2 L42.4 465 L42.9 464.8 L43.4 464.6 L43.9 464.4 L44.4 464.2 L44.9 464 L45.4 464.1 L45.9 464.2 L46.5 464.3 L47 464.4 L47.5 464.5 L48 464.6 L48.5 464.7 L49 464.8 L49.5 464.9 L50 465 L50.5 467 L51 469.1 L51.5 471.1 L52 473 L52.5 472.5 L53 472 L53.5 471.5 L54.1 470.9 L54.6 470.4 L55.1 469.9 L55.6 469.4 L56.1 468.9 L56.6 468.4 L57.1 468 L57.6 468 L58.1 468 L58.6 468 L59.1 468 L59.6 468 L60.1 468 L60.6 468.3 L60.6 548.9Z M63.4 548.9 L63.4 472.7 L63.9 472.4 L64.4 472 L64.9 471.7 L65.4 471.3 L65.9 470.9 L66.4 470.6 L66.9 470.2 L67.4 469.9 L67.9 469.5 L68.4 469.1 L68.9 468.8 L69.4 468.4 L69.9 468.1 L70.4 468 L70.9 468 L71.4 468 L71.9 468 L72.4 468 L72.9 468 L73.5 468 L74 468 L74.5 468 L75 468 L75.5 468 L76 468 L76.5 468 L77 468 L77.5 468 L78 468 L78.5 468 L79 468 L79.5 468 L80 468 L80.5 468 L81 468 L81.5 468 L82 468 L82.5 468 L83 468 L83.6 468 L84.1 468 L84.6 468 L85.1 468 L85.6 468 L86.1 468 L86.6 468 L86.6 548.9Z M142.2 548.9 L142.2 465.7 L142.7 464.9 L143.2 464.1 L143.7 463.3 L144.2 462.5 L144.7 461.7 L145.2 460.9 L145.7 460.1 L146.2 459.3 L146.7 458.5 L147.2 458 L147.7 458 L148.2 458 L148.7 458 L149.2 458 L149.7 458 L150.2 458 L150.7 458 L151.2 458 L151.7 458 L152.2 458 L152.7 458 L153.2 459.1 L153.7 461.7 L154.2 464.2 L154.7 466.7 L155.2 468.2 L155.7 468.6 L156.2 469 L156.7 469.4 L157.2 469.8 L157.7 470.2 L158.2 470.6 L158.7 471 L159.2 471.4 L159.7 471.8 L160.3 470.7 L160.8 468 L161.3 465.3 L161.8 462.6 L162.3 460 L162.8 457.3 L163.3 456.5 L163.8 457.5 L164.3 458.5 L164.8 459.5 L165.3 460.5 L165.8 461.5 L166.3 462 L166.8 462 L167.3 462 L167.8 462 L168.3 462 L168.8 462 L169.3 462 L169.8 462 L170.3 463.4 L170.8 465.9 L171.3 468.4 L171.8 470.9 L172.3 472 L172.8 472 L173.3 472 L173.8 472 L174.3 472 L174.8 472 L175.3 472 L175.8 472 L176.3 472 L176.8 472 L177.3 472 L177.8 472 L178.3 472 L178.8 472 L179.3 472 L179.8 472 L180.3 472 L180.8 472 L181.3 472 L181.8 472 L182.3 472 L182.8 472 L183.3 472 L183.8 472 L183.8 548.9Z M227.5 548.9 L227.5 460 L228 460 L228.5 460.1 L229 460.3 L229.5 460.4 L230 460.6 L230.5 460.7 L231 460.9 L231.5 461 L232 461.1 L232.5 461.3 L233 461.4 L233.5 461.6 L234 461.7 L234.5 461.9 L235 462 L235.5 462.4 L236 462.8 L236.5 463.2 L237 463.6 L237.6 464 L238.1 464.4 L238.6 464.8 L239.1 465.3 L239.6 465.7 L240.1 466.1 L240.6 467 L241.1 467.8 L241.6 468.6 L242.1 469.5 L242.6 470.3 L243.1 471.2 L243.6 472 L244.1 472.8 L244.6 473.7 L245.1 474.5 L245.6 475.4 L246.1 476 L246.6 476 L247.1 476 L247.6 476 L248.1 476 L248.6 476 L249.1 476 L249.6 476 L250.2 476 L250.7 476 L251.2 476 L251.7 476 L252.2 476 L252.7 476 L253.2 476 L253.7 476 L254.2 476 L254.7 476 L255.2 474.1 L255.7 469 L256.2 466 L256.7 466.1 L257.2 466.2 L257.7 466.3 L258.2 466.4 L258.7 466.5 L259.2 466.6 L259.7 466.7 L260.2 466.8 L260.7 466.9 L261.2 467 L261.7 467.1 L262.3 467.3 L262.8 467.4 L263.3 467.5 L263.8 467.6 L264.3 467.7 L264.8 467.8 L265.3 467.9 L265.8 468 L266.3 468 L266.3 548.9Z M305.1 548.9 L305.1 458 L305.6 458.2 L306.1 458.3 L306.6 458.5 L307.1 458.6 L307.6 458.7 L308.1 458.9 L308.6 459 L309.1 459.2 L309.6 459.3 L310.1 459.5 L310.6 459.6 L311.1 459.7 L311.6 459.9 L312.1 460.1 L312.6 460.5 L313.1 460.9 L313.6 461.3 L314.1 461.7 L314.6 462.1 L315.1 462.5 L315.6 462.9 L316.1 463.3 L316.6 463.7 L317.1 465.1 L317.6 469.1 L318.1 472 L318.6 472 L319.1 472 L319.6 472 L320.1 472 L320.6 472 L321.1 472 L321.6 472 L322.1 472 L322.6 472 L323.1 472 L323.6 472 L324.2 470.8 L324.7 466.8 L325.2 464 L325.7 464 L326.2 464 L326.7 464 L327.2 464 L327.7 464 L328.2 464 L328.7 464 L329.2 464 L329.7 464 L330.2 466 L330.7 472 L331.2 476 L331.7 476 L332.2 476 L332.7 476 L333.2 476 L333.7 476 L334.2 476 L334.7 476 L335.2 476 L335.7 476 L336.2 476 L336.7 476 L337.2 476 L337.7 476 L338.2 476 L338.7 476 L338.7 548.9Z M372.9 548.9 L372.9 464 L373.4 464 L373.9 464 L374.4 464 L374.9 464 L375.4 464 L375.9 464 L376.4 464 L376.9 464 L377.4 464 L377.9 464 L378.4 464 L378.9 464 L379.4 464 L379.9 464 L380.4 464 L380.9 464 L381.4 464 L381.9 464 L382.4 463.6 L382.9 463.1 L382.9 548.9Z M386 548.9 L386 460 L386.5 460 L387 460 L387.5 460 L388 460 L388.5 460 L389 460 L389.5 460 L390 460 L390.5 460 L391 460 L391.5 460 L392 460 L392.5 460 L393 460 L393.5 460 L394 460 L394.5 460 L395 460 L395.5 460 L396 460 L396.5 460 L397 460 L397.5 460 L398 460 L398.5 460 L399 460 L399.5 460 L400 460 L400.5 460 L401 460 L401.5 460 L402 460 L402 548.9Z M433.2 548.9 L433.2 461 L433.7 461 L434.2 461 L434.7 461 L435.2 461 L435.7 461 L436.2 461 L436.7 461 L437.3 461 L437.8 461 L438.3 461 L438.8 461 L439.3 461 L439.8 461 L440.3 461 L440.8 461 L441.3 461 L441.8 461 L442.3 461 L442.8 461 L443.3 461 L443.8 461 L444.3 459 L444.8 455.7 L445.3 452.4 L445.8 449.1 L446.3 448 L446.8 448 L447.3 448 L447.8 448 L448.4 448 L448.9 448 L449.4 448 L449.9 448 L450.4 448 L450.9 448 L451.4 448 L451.9 448 L452.4 448.8 L452.9 449.8 L453.4 450.8 L453.9 451.8 L454.4 452.8 L454.9 453.8 L455.4 454.8 L455.9 455.8 L456.4 458.1 L456.9 460.6 L457.4 463.2 L457.9 465.7 L458.4 466.2 L458.9 466.5 L459.5 466.8 L460 467.1 L460.5 467.3 L461 467.6 L461.5 467.9 L462 468 L462 548.9Z M495.6 548.9 L495.6 452 L496.1 452 L496.6 452 L497.1 452 L497.6 452 L498.1 452 L498.6 452 L499.1 452 L499.6 452 L500.1 452 L500.6 452 L501.1 452 L501.6 452 L502.1 452.4 L502.6 454.7 L503.1 457 L503.6 459.2 L504.1 461 L504.6 461 L505.1 461 L505.6 461 L506.1 461 L506.6 461 L507.1 461 L507.6 461 L508.1 461 L508.6 461 L509.1 461 L509.6 461 L510.1 460.4 L510.6 458.4 L511.1 456.4 L511.7 454.4 L512.2 453 L512.7 453 L513.2 453 L513.7 453 L514.2 453 L514.7 453 L515.2 453 L515.7 453 L515.7 548.9Z M543.8 548.9 L543.8 456 L544.3 455.7 L544.8 455.2 L545.3 454.7 L545.8 454.2 L546.3 453.7 L546.8 453.2 L547.3 452.7 L547.9 452.1 L548.4 452.3 L548.9 452.7 L549.4 453.1 L549.9 453.5 L550.4 453.9 L550.9 454.3 L551.4 454.7 L551.9 455.1 L552.4 455.5 L552.9 455.9 L553.4 457 L553.9 458.4 L554.4 459.7 L554.9 461 L555.4 462.4 L555.9 463.7 L556.4 464.2 L556.9 464.5 L557.4 464.8 L557.9 465.1 L558.4 465.3 L558.9 465.6 L559.4 465.9 L559.9 466.2 L560.4 466.5 L560.9 466.7 L561.4 467 L561.9 467.3 L562.4 467.6 L562.9 467.9 L562.9 548.9Z M582.4 548.9 L582.4 451 L583 451 L583.5 451 L584 451 L584.5 451 L585 451 L585.5 451 L586 451 L586.5 451 L587 451 L587.5 451 L588 451.1 L588.5 452.4 L589.1 453.6 L589.6 454.9 L590.1 456.1 L590.6 456.5 L591.1 457 L591.6 457.5 L592.1 458 L592.6 458.4 L593.1 458.9 L593.6 459.4 L594.1 459.9 L594.6 460.3 L595.2 460.8 L595.7 461.3 L596.2 461.8 L596.7 462.2 L597.2 462.7 L597.7 463.2 L598.2 463.7 L598.7 464.1 L599.2 464.6 L599.7 465.1 L600.2 465.6 L600.7 466 L600.7 548.9Z M617.2 548.9 L617.2 471 L617.7 471 L618.2 471 L618.7 471 L619.3 471 L619.8 471 L620.3 471 L620.8 471 L621.3 471 L621.8 471 L622.3 471 L622.8 471 L623.3 471 L623.8 471 L624.3 466.3 L624.8 457.7 L625.3 454 L625.8 454 L626.3 454 L626.8 454 L627.3 454 L627.8 454 L628.3 454 L628.8 454 L629.3 454 L629.8 454 L630.3 454 L630.3 548.9Z M647.8 548.9 L647.8 460 L648.3 460 L648.8 460 L649.4 460 L649.9 460 L650.4 460 L650.9 460 L651.4 460 L651.9 460 L652.4 460 L652.9 460 L653.5 460 L654 460 L654.5 460 L655 460 L655.5 460 L656 460 L656.5 460 L657.1 460 L657.1 548.9Z"/>
<path stroke="#4682b4" stroke-width="3.0" stroke-linecap="round" fill="none" d="M90.3 454.7h0M90 443.2h0M90 450.5h0M90.8 442.8h0M91.6 446.7h0M90.8 456h0M90.8 453.7h0M90.8 451.4h0M90.8 458h0M92.5 447.3h0M92.2 457.6h0M91.7 452.9h0M93.7 456.3h0M93.5 449h0M94.5 446.8h0M94.7 460.7h0M95 458.1h0M95.7 460.8h0M95.7 459.5h0M96.5 458.2h0M96.1 451h0M97 448.7h0M97.4 454.4h0M96.8 460.7h0M96.8 459.1h0M96.8 457.7h0M96.8 456.4h0M96.8 454.2h0M96.8 452h0M96.8 449.9h0M96.8 448.5h0M98.3 459.5h0M98.3 457.4h0M98.6 459.1h0M99 455.6h0M98.8 458.6h0M100.6 453.7h0M100.3 453.5h0M100.7 441.5h0M101.5 456.4h0M101.4 456.6h0M101.4 455.4h0M101.4 453.5h0M102.1 452.4h0M101.7 451.8h0M102.1 452.6h0M102.1 450.9h0M102.1 449.7h0M103.2 452.5h0M102.9 439h0M104.5 446.9h0M103.8 454.9h0M104.3 454h0M105.4 460.2h0M105.3 464.5h0M105.8 463.5h0M105.9 471.1h0M106.5 471.5h0M106.5 469.8h0M106.5 467.3h0M106.5 465.7h0M106.5 463.7h0M106.5 461.5h0M106.5 460h0M106.5 458.3h0M106.5 456.9h0M106.5 454.6h0M106.5 453.2h0M106.5 451.8h0M106.5 450.2h0M106.5 448.1h0M106.5 446h0M106.5 444.1h0M106.9 468.1h0M106.9 472.3h0M107.8 472.6h0M108.3 468.2h0M107.9 450.3h0M109.3 468.2h0M109 459.4h0M109.2 471.5h0M109.2 468.9h0M109.2 466.6h0M110.3 459h0M110.7 463.7h0M110.1 473.3h0M110.1 471h0M110.1 469.5h0M110.1 467.3h0M110.1 465.4h0M110.1 463.6h0M110.1 461.4h0M111.7 462.8h0M111 465.6h0M112.1 470.9h0M111.7 469.2h0M112.8 469h0M112.8 473h0M113.2 472.4h0M113.2 470.7h0M113.2 469.3h0M113.2 468.1h0M114 471h0M114 464.1h0M114.7 473.4h0M114.9 470.8h0M115.7 472.7h0M115.7 470.7h0M115.7 468.1h0M116.5 471.2h0M115.7 459.1h0M116.8 464h0M117.1 466.1h0M117.1 473.2h0M117.1 470.7h0M117.1 469.2h0M117.1 467.6h0M117.1 465.7h0M117.1 463.2h0M117.1 461.8h0M117.1 460.3h0M117.1 458h0M117.1 456.7h0M117.1 454.9h0M117.1 452.6h0M117.1 450.4h0M117.1 448.1h0M117.1 446.8h0M117.1 444.3h0M118.2 460.7h0M118.2 472.2h0M117.7 473.5h0M117.7 471.1h0M117.7 469.1h0M117.7 466.7h0M117.7 465.3h0M117.7 463.4h0M118.6 469.1h0M119.4 468.6h0M119.3 461.4h0M119.7 459.4h0M119.9 470.6h0M120.3 470.8h0M120.3 469h0M120.3 467.6h0M120.3 465.4h0M120.3 463.4h0M120.3 461.8h0M121.6 447.6h0M120.8 459.7h0M121.4 460.5h0M121.4 459.1h0M122.6 452.5h0M121.8 452.4h0M122.9 459.9h0M123.7 462h0M123.1 439.8h0M124.6 465.5h0M124.6 465.5h0M123.8 465.8h0M125.4 470.2h0M125.2 464.3h0M125.1 469.3h0M125.1 466.9h0M125.1 464.7h0M125.1 463.4h0M125.1 462h0M125.1 460.8h0M125.1 459.2h0M125.1 457.1h0M126.6 465.9h0M126.5 456.1h0M127.3 462.2h0M126.9 462.1h0M128.6 459h0M127.7 443.7h0M128.6 458.7h0M128.6 456.4h0M129.3 456.5h0M129.3 449.2h0M129.8 457.8h0M130.4 458.9h0M130.5 457.6h0M130.5 455.9h0M130.9 455.4h0M131.6 458.6h0M131.7 459.9h0M131.7 458.5h0M131.7 456.5h0M131.7 454.8h0M131.7 453h0M131.7 450.8h0M131.7 449.5h0M132.3 452.5h0M132.2 456.6h0M132.2 462.6h0M132.2 461.1h0M133.1 463.5h0M133.5 451.7h0M133.8 458.7h0M133.7 453.9h0M135.1 458.7h0M134.9 464.2h0M136.3 468.1h0M135.9 466.7h0M136.3 465.7h0M136.3 463.7h0M136.3 461.2h0M136.3 459.4h0M136.3 457.5h0M136.3 455.9h0M136.3 454h0M136.7 466.5h0M136.9 462h0M138.6 460.2h0M137.8 470.6h0M186 450.8h0M186.4 451.9h0M186 455.1h0M186 453.6h0M186 451.7h0M186 449.5h0M186 447.8h0M186 445.7h0M186 443.8h0M186 442.6h0M186 440h0M186 438.4h0M186 436.4h0M186 433.9h0M186 432.4h0M186 431.1h0M186 429.6h0M186 428.2h0M186.7 456.8h0M187.1 457.9h0M187.1 458.1h0M187.1 456.1h0M187.1 454.7h0M187.1 452.8h0M187.1 450.7h0M187.1 449.4h0M187.1 447.4h0M187.1 445.8h0M187.1 443.5h0M187.1 441.5h0M187.1 439h0M187.1 437h0M187.1 435.5h0M187.1 434h0M187.1 431.8h0M187.1 429.5h0M187.9 456.6h0M188.5 455h0M188.9 456.4h0M189 459h0M189.8 454h0M189.8 463.6h0M191 451.9h0M190.7 451.8h0M191.4 466.2h0M191 464.5h0M191.7 462.4h0M192 457.4h0M193.5 466.8h0M193.6 454.4h0M193.8 465.8h0M193.9 467.2h0M195.4 462.4h0M195.5 468.6h0M196.3 467.9h0M196.3 465.7h0M196.8 467.6h0M197.4 469.9h0M198.3 466.9h0M198.1 464.7h0M197.9 458.2h0M199.2 467.4h0M198.8 467.7h0M200.5 459.2h0M199.9 462.7h0M200.3 468.6h0M200.3 466.7h0M200.3 464.8h0M200.3 462.7h0M200.3 461.1h0M200.3 458.6h0M200.3 456.5h0M200.3 455.2h0M200.3 452.9h0M200.3 450.4h0M200.3 448.8h0M200.3 446.6h0M200.3 444.2h0M200.3 441.8h0M200.3 440.5h0M201.4 459.9h0M201.1 455.1h0M202.6 461.7h0M202.4 459.8h0M202.1 467.6h0M202.1 466.1h0M202.1 463.7h0M202.1 461.3h0M202.1 459.1h0M203.2 458.8h0M202.6 462.8h0M204.1 460.9h0M203.9 449.5h0M204.4 458.6h0M204.4 457h0M204.4 454.5h0M204.4 452.8h0M204.4 451h0M204.4 448.4h0M204.4 446.5h0M204.4 444.3h0M204.4 443h0M204.4 441.8h0M204.4 440.2h0M204.4 438.9h0M204.4 436.5h0M205.3 454.8h0M205.3 453.4h0M205.4 427.3h0M206.2 446.6h0M206 454.8h0M206.2 455h0M206.2 453.5h0M206.2 451.6h0M206.2 450.4h0M206.2 449.1h0M206.2 447.3h0M206.2 445.9h0M206.2 443.5h0M206.2 442.1h0M206.2 439.9h0M206.2 437.5h0M206.2 435.9h0M206.2 433.9h0M207 439.5h0M206.9 440.1h0M206.9 453h0M206.9 450.5h0M206.9 448.4h0M206.9 446.9h0M208.1 442.1h0M207.7 447.4h0M209.3 453.9h0M209.1 452.2h0M210.1 449.2h0M210.2 441.8h0M209.8 454.8h0M209.8 452.4h0M210.5 448h0M211.5 440.7h0M211.6 453.8h0M211.1 456.1h0M211.1 454.5h0M211.1 452.7h0M211.8 454.4h0M211.7 456.6h0M212.5 457h0M212.5 454.7h0M212.5 452.3h0M212.5 450.2h0M212.5 448.6h0M212.5 446.2h0M212.5 444.9h0M212.5 443.6h0M212.5 441.1h0M212.5 439.6h0M212.5 437.1h0M212.5 434.9h0M212.5 433.6h0M212.5 432.3h0M212.3 439.6h0M212.9 453.1h0M212.8 445.2h0M214.3 457.8h0M214.5 447.3h0M215.1 447.8h0M215.2 455.9h0M215.6 452.4h0M216.5 448.6h0M216.2 456.3h0M216.2 454.4h0M216.2 452.5h0M216.2 450.3h0M216.2 447.9h0M217.3 458.8h0M216.9 456.8h0M216.9 456.3h0M216.9 454.1h0M216.9 452.4h0M216.9 450.2h0M218.3 453h0M218 455h0M218.8 456.7h0M219 465h0M220.5 454.1h0M220.4 467h0M221.1 467.4h0M221.3 464.1h0M221 467.9h0M221 465.6h0M221 463.3h0M221 460.9h0M221 459.3h0M221 457.7h0M221 455.5h0M221 454.1h0M221 451.6h0M221.7 465.9h0M222.1 452.5h0M221.7 465.1h0M221.7 462.8h0M221.7 460.5h0M221.7 458.3h0M221.7 456.8h0M221.7 455.3h0M221.7 454h0M221.8 464.7h0M223.6 457h0M222.9 452.7h0M223 465.6h0M224.2 456.8h0M224 467.9h0M224.1 465.7h0M224.1 464.2h0M224.1 462.6h0M224.1 461.1h0M224.1 458.8h0M224.1 456.6h0M224.1 455.2h0M224.1 452.9h0M224.1 451.7h0M224.1 449.8h0M224.1 448.3h0M225.3 466.8h0M224.7 460.2h0M225.5 438.8h0M268 455.6h0M268.2 453.3h0M269.1 446.5h0M268.7 458.4h0M269.2 458.3h0M269.2 456.4h0M269.2 455.2h0M269.2 453.9h0M269.2 451.4h0M269.2 448.9h0M269.2 447.6h0M270.2 446.9h0M270.3 444.5h0M270.8 447.3h0M271 445h0M272.4 455.4h0M272.2 448.2h0M272.3 456.8h0M272.3 455.2h0M272.3 453.1h0M272.3 450.9h0M272.3 449.2h0M272.3 447h0M273.2 454h0M273.5 457h0M273.3 458.5h0M273.3 456h0M273.3 454.1h0M273.3 451.8h0M273.3 451.2h0M273.8 443.5h0M274.3 454.4h0M274 457.1h0M274 455.6h0M275.3 450.2h0M275.2 448.9h0M275.2 441.9h0M276.4 444.6h0M276 446.7h0M275.7 456.5h0M275.7 454.7h0M275.7 452.9h0M275.7 451h0M275.7 449.2h0M275.7 447.7h0M275.7 445.6h0M275.7 443.5h0M275.7 442.2h0M277 456.7h0M277.3 455.7h0M277.8 460.4h0M277.9 457.5h0M278.6 461.6h0M278.6 460.4h0M278.6 459h0M278.6 457.4h0M278.6 456h0M278.6 454.2h0M278.6 452.5h0M278.6 450.3h0M278.6 447.7h0M278.6 445.2h0M278.8 466.7h0M279.6 460.8h0M279.6 471.9h0M278.7 458.6h0M280.4 462.9h0M280 474h0M281.3 470.8h0M281 462.5h0M281.9 458.1h0M282.1 469.7h0M282.7 472.6h0M282.7 470.2h0M282.7 468.4h0M282.7 466.6h0M282.7 464.3h0M282.7 461.8h0M282.7 459.5h0M282.7 457.3h0M282.7 455h0M283.2 469.7h0M282.7 467.5h0M283.7 466.9h0M284.5 461.5h0M284.8 458.1h0M285.5 465.1h0M286.2 465.1h0M286.2 460.2h0M287.5 466.7h0M287.4 466.6h0M288.5 466.6h0M288 465.8h0M288.6 457.4h0M288.8 456.7h0M289.3 454.1h0M290.4 463.9h0M289.8 455.5h0M290.9 451.6h0M291.2 453.7h0M292.7 440.4h0M292.7 434.3h0M292.1 446.2h0M292.1 444.2h0M292.1 442h0M292.1 440.4h0M292.1 438.2h0M292.1 436.5h0M292.1 434.2h0M292.1 432.3h0M292.1 430.2h0M292.1 427.6h0M292.1 426h0M292.1 424.8h0M293.3 436.1h0M293.6 444.5h0M294.4 436.1h0M294.1 444h0M294.1 445.5h0M294.1 444.2h0M294.1 441.6h0M295.3 445.7h0M295.5 435.1h0M294.9 447.2h0M294.9 444.9h0M294.9 442.8h0M294.9 440.9h0M294.9 438.8h0M294.9 437.4h0M296.3 450.2h0M296.2 448.6h0M296.1 449h0M296.1 446.8h0M296.1 445h0M296.1 443.8h0M296.1 441.4h0M296.1 439.4h0M296.1 437.4h0M296.1 435.3h0M296.1 433.3h0M296.1 430.8h0M297.3 461.2h0M297.6 451.6h0M297.1 449.4h0M298.3 453.1h0M297.8 452.8h0M297.7 464.7h0M297.7 463.1h0M297.7 461.2h0M299 461.7h0M299.3 462h0M299.7 458.3h0M300.4 464.4h0M299.8 462.2h0M299.8 460.1h0M299.8 458.6h0M299.8 456.9h0M299.8 455.6h0M299.8 454.3h0M299.8 452.6h0M299.8 450.1h0M299.8 447.7h0M301.3 459.5h0M301.3 459.8h0M301 463.8h0M301 461.6h0M301 459.1h0M301 457.4h0M301 455.6h0M301 453.8h0M301 452.3h0M301 450.6h0M301 448.3h0M301 446.9h0M301 445h0M301 443.4h0M301 441.4h0M301 439.1h0M301 437.8h0M302.3 456.4h0M301.9 463.5h0M302.6 462.4h0M302.6 460.1h0M341.1 445.8h0M340.4 453.5h0M341.2 443.1h0M341.8 449.5h0M341.5 454.3h0M341.5 452.4h0M341.5 450.2h0M342 456.1h0M342.3 445.1h0M342.5 455.2h0M342.7 456.5h0M342.7 455.3h0M342.7 453.7h0M342.7 451.2h0M342.7 449h0M343.5 447.7h0M343.4 453.8h0M344.5 447.1h0M344.6 457h0M344.3 456h0M344.3 454h0M344.3 452.3h0M344.3 450.8h0M344.3 448.4h0M344.3 447.1h0M344.3 444.7h0M345.6 453.6h0M345.7 444.3h0M346.8 454.1h0M346.4 448.8h0M347.3 455h0M347.8 444.2h0M348.2 450.4h0M348.4 449.3h0M348.4 456.1h0M349.5 458.4h0M349.9 456.8h0M350.5 458.9h0M350.3 448.9h0M351.9 453.5h0M352.1 459.3h0M351.1 456.7h0M351.1 455.3h0M351.1 453.3h0M351.1 451.7h0M351.1 450h0M351.1 448.1h0M352.8 452.2h0M352.2 444.4h0M352.4 458.6h0M352.4 456.7h0M352.7 446.1h0M353.4 457h0M353.5 446.9h0M354.2 457.4h0M354.9 456.3h0M354.1 458.5h0M354.1 456.4h0M354.1 455h0M354.1 453.2h0M354.1 450.8h0M354.1 449.3h0M354.1 447.3h0M354.1 445.6h0M355.4 446.7h0M355.8 444.9h0M355.5 458.2h0M355.5 456.5h0M355.5 454.4h0M355.5 452.9h0M355.5 451h0M356.5 448.3h0M356.7 460.2h0M357.8 454.8h0M357.7 459.2h0M357.7 464.6h0M357.7 463h0M357.7 460.7h0M357.7 458.8h0M357.7 457.2h0M357.7 454.6h0M357.7 452.3h0M357.7 450.1h0M357.7 447.8h0M357.7 445.6h0M357.7 443.8h0M357.7 441.3h0M357.7 438.8h0M358.6 468h0M359 456.2h0M359.9 468.2h0M359.5 466.5h0M360.7 454.9h0M360.5 467.9h0M360.6 467.1h0M360.6 465.8h0M360.6 464.5h0M360.6 463.3h0M360.6 460.8h0M360.6 459.6h0M360.6 457.9h0M360.6 456h0M360.6 454h0M360.6 452.5h0M360.6 450.4h0M360.6 448.3h0M360.6 445.8h0M360.6 444.4h0M360.6 442.8h0M360.6 441.5h0M360.6 439.9h0M360.4 442.1h0M361.8 457h0M361.9 468.5h0M362.7 461.6h0M362.5 457h0M363.6 464h0M363.3 460.4h0M364.1 465.2h0M364.9 468.4h0M365.6 466.4h0M365.1 460h0M365.6 467h0M365.6 465.6h0M365.6 463.1h0M365.6 460.8h0M365.6 458.4h0M365.6 456.9h0M365.6 454.7h0M366.8 465.5h0M367 465h0M367.2 456h0M367.4 456.2h0M367.7 468.7h0M368.8 459.8h0M368.8 468.9h0M368.2 467.4h0M368.2 465.5h0M368.2 463h0M368.2 460.6h0M368.2 458.5h0M368.2 456.2h0M369.2 460.6h0M369.8 462.1h0M404 447.2h0M404 454.8h0M404.2 456.6h0M404.2 454.2h0M404.2 452.2h0M404.2 449.7h0M404 450.1h0M405.2 457.4h0M404.5 449.5h0M405 458.6h0M405 456.7h0M405 454.4h0M405 452.9h0M405 450.3h0M405 449.1h0M405 447.6h0M405 445.6h0M405 443.5h0M405 441.4h0M405 438.9h0M405 437.4h0M405 436.2h0M405 434.2h0M405 432.5h0M405 430.8h0M405 429h0M406.1 452.5h0M405.7 445.2h0M405.6 456.9h0M405.6 454.7h0M405.8 444.5h0M407 450.9h0M406.4 458.9h0M407.5 457.5h0M407.9 447.1h0M407.5 456.3h0M407.5 455h0M407.5 453h0M407.5 450.4h0M407.5 448.2h0M407.5 445.7h0M407.5 444h0M407.5 441.5h0M407.5 439h0M407.5 437.4h0M407.5 435.2h0M407.5 432.7h0M407.5 431.2h0M407.5 429.4h0M409.4 454.8h0M408.9 458.1h0M408.7 456.3h0M408.7 454h0M408.7 452h0M408.7 450.4h0M408.7 449.2h0M408.7 447.8h0M408.7 445.4h0M408.7 442.9h0M408.7 440.4h0M408.7 438.8h0M408.7 436.2h0M408.7 434.4h0M408.7 432.7h0M408.7 430.2h0M409.7 458.6h0M409.6 457.1h0M409.8 458.4h0M409.8 455.9h0M409.8 454.2h0M409.8 453h0M409.8 451.8h0M409.8 449.8h0M409.8 448.6h0M409.8 446.6h0M411.1 465.3h0M410.7 459.2h0M412.4 456.7h0M411.8 466h0M411.6 471.3h0M411.6 469.5h0M411.6 467.5h0M411.6 464.9h0M411.6 463.3h0M411.6 462.1h0M411.6 460.3h0M411.6 457.9h0M411.6 456.6h0M411.6 454.6h0M411.6 452.6h0M411.6 450.2h0M411.6 448.6h0M413.4 465.6h0M412.8 464h0M414.1 468.5h0M414.2 469h0M414 471.5h0M414.8 468.1h0M415.4 466.3h0M416 460.5h0M416 466.5h0M415.7 471.7h0M415.7 470.1h0M415.7 468.9h0M416.6 454.2h0M416.9 456.9h0M417.1 464.1h0M417.1 462.1h0M417.1 460.5h0M417.1 458.3h0M417.1 456.6h0M417.1 455.1h0M417.1 453.8h0M417.1 451.2h0M417.1 449.9h0M417.1 448.3h0M417.1 445.8h0M417.1 444.5h0M417.1 442.8h0M417.1 440.9h0M418.4 453.9h0M417.5 455.1h0M418.1 453.7h0M418.1 452.4h0M419 452.3h0M418.5 455.8h0M418.5 454.5h0M418.5 452.1h0M418.5 450.9h0M418.5 449.3h0M418.5 447.6h0M418.5 445.5h0M418.5 443.3h0M418.5 441.1h0M420.1 451.4h0M420.4 450.2h0M420.9 450.9h0M421.1 448.9h0M421.9 440.6h0M422.3 449.8h0M421.9 454.7h0M421.9 452.9h0M423 455.6h0M423.1 446.7h0M422.5 454.6h0M422.5 452.4h0M424.1 455.9h0M423.5 450.6h0M424.9 454.1h0M424.6 448h0M425.5 455.5h0M426.2 447h0M425.8 457.4h0M425.8 456h0M425.8 453.5h0M425.8 451.3h0M425.8 450h0M425.8 448.4h0M425.8 446.6h0M425.8 444.8h0M425.8 443.5h0M425.8 441h0M425.8 439.1h0M425.8 437.5h0M425.8 436.3h0M425.8 434.3h0M425.8 431.8h0M425.8 429.6h0M425.8 427.2h0M426.5 456.6h0M427 455.2h0M427.9 447.9h0M427.6 453.1h0M428.2 457.9h0M428.2 456.1h0M428.2 454.2h0M428.2 452.6h0M428.2 450.9h0M428.2 448.3h0M428.2 445.8h0M428.2 443.2h0M428.2 440.7h0M428.2 438.8h0M428.2 436.7h0M428.2 434.2h0M428.2 432.4h0M428.7 459.2h0M429.1 461.4h0M428.6 459.6h0M430 453.9h0M430.1 459.6h0M429.8 459.5h0M430.8 456.6h0M430.7 463.2h0M464.1 460.7h0M463.7 460.9h0M463.8 459.7h0M463.8 457.3h0M464.7 459h0M464.5 456.6h0M464.5 440h0M465.8 460.1h0M465.9 456.8h0M465.2 461.7h0M465.2 459.2h0M465.2 457.9h0M465.2 456.2h0M465.2 454h0M465.2 452.8h0M467.1 457.8h0M466.8 454.9h0M466.9 459.6h0M466.9 457.4h0M466.9 455.3h0M466.9 453.9h0M466.9 452.1h0M466.3 438.8h0M467.7 460.1h0M467.3 447.2h0M468.8 448.5h0M469.1 454.7h0M468.8 453.7h0M468.8 451.2h0M470.1 434.9h0M469.6 441.1h0M469.4 423.9h0M471 440.8h0M471.1 428.4h0M471.1 438.5h0M471.8 439.3h0M471.9 437.1h0M471.9 440.3h0M471.9 438.5h0M471.9 436.3h0M471.9 434.6h0M471.9 433h0M471.9 431.1h0M471.9 428.6h0M471.9 427.2h0M471.9 425.7h0M471.9 423.8h0M471.9 421.2h0M471.9 418.6h0M471.9 417.4h0M471.9 415.3h0M471.9 413.9h0M471.9 412.4h0M471.9 411.1h0M473.1 437.8h0M473.1 432.2h0M472.5 438.1h0M472.5 436.7h0M472.5 434.2h0M472.5 432.3h0M472.5 430.4h0M472.5 428.9h0M472.5 427h0M472.5 424.8h0M472.5 422.8h0M472.5 420.2h0M472.5 418.3h0M472.5 415.8h0M472.5 414.4h0M472.5 412.2h0M473.5 436.3h0M474 439.2h0M473.8 439.5h0M473.8 438.3h0M473.8 436h0M473.8 434.3h0M473.8 432.7h0M473.8 431h0M473.8 429.6h0M473.8 427.2h0M473.8 424.9h0M473.8 422.3h0M473.8 420.2h0M473.8 418.8h0M473.8 417h0M473.8 414.4h0M473.8 413.2h0M473.8 411.5h0M474.5 433.6h0M474.2 428.3h0M474.3 439.4h0M475.3 437.9h0M475.7 440.7h0M476.8 440.4h0M476.8 440.7h0M477.3 427.6h0M477.3 432.5h0M478.8 447.4h0M479 441.4h0M478.3 448.7h0M478.3 447.3h0M478.3 445.4h0M478.3 443.3h0M478.3 441h0M478.3 439.4h0M478.3 438.1h0M478.3 436.3h0M478.3 433.8h0M478.3 431.8h0M479.8 449h0M480.1 453.8h0M479.9 458.7h0M480.8 455.4h0M481 465.3h0M480.3 466.5h0M480.3 464.9h0M480.3 463.2h0M480.3 461.1h0M480.3 459h0M480.3 456.9h0M480.3 455.6h0M480.3 453.2h0M480.3 451h0M481.8 454.8h0M481.9 460.3h0M482.4 463.7h0M483 457.8h0M482.4 465.8h0M483.6 466.8h0M483.6 467.3h0M483.6 459.4h0M484.2 466.6h0M485.2 455.5h0M485.1 465.4h0M485.1 463.2h0M485.1 461.2h0M485.1 459.3h0M485.1 457.1h0M485.1 455.1h0M485.1 452.5h0M485.1 451h0M485.1 448.6h0M485.1 446.3h0M485.1 444.5h0M485.1 442.1h0M485.1 440.5h0M485.1 438.8h0M485.4 455.7h0M485.8 454h0M486.1 465.3h0M486.1 463.2h0M486.1 460.8h0M486.1 458.7h0M486.1 456.7h0M486.1 455.3h0M486.1 453.3h0M486.1 450.8h0M485.4 462.2h0M487 460.8h0M486.9 460.7h0M486.3 460.1h0M486.3 458.6h0M486.3 456.3h0M486.3 455h0M486.3 452.9h0M486.3 451.3h0M486.3 448.8h0M486.3 447.1h0M486.3 445h0M486.3 443.7h0M486.3 441.2h0M486.3 439.1h0M486.3 436.6h0M486.3 434.4h0M486.3 433.1h0M487.4 439.6h0M487.8 449.9h0M487.2 452.2h0M487.2 450.9h0M487.2 449.5h0M487.2 447.2h0M487.2 445.6h0M487.2 443.1h0M487.2 441.5h0M487.2 439.2h0M487.2 436.9h0M488.3 438.7h0M489.1 444.8h0M521.3 465.6h0M521.5 464.6h0M521.6 461.3h0M522.2 463h0M523 459.9h0M523.6 468h0M523.2 461.4h0M524.2 457.7h0M524.6 463.3h0M524.7 465.9h0M524.7 463.4h0M524.7 462.1h0M524.7 459.7h0M524.7 458.1h0M524.7 456.3h0M525.5 467.8h0M525.6 467.2h0M526 465.6h0M526.6 449.2h0M526.6 449.8h0M527.2 458.4h0M527.9 450.9h0M527.7 456.4h0M528.6 455.7h0M528.3 447.7h0M529.3 456.3h0M529.3 455.5h0M529.8 456.3h0M529.8 454.7h0M529.8 452.9h0M529.1 455.5h0M530.8 456.9h0M530.6 443.7h0M531.5 452.9h0M531.4 456.9h0M531.3 456h0M531.3 454.7h0M532.6 448.1h0M532.6 447.1h0M533.3 456.9h0M533.8 453.8h0M534.9 444.8h0M534.3 455.5h0M535.7 443.4h0M535.6 453.8h0M537 450.1h0M536.3 459.1h0M536.6 456.6h0M536.6 454.1h0M536.6 452.5h0M536.6 450h0M536.6 448.4h0M536.6 446.9h0M536.6 445.3h0M536.6 442.8h0M536.6 440.2h0M536.6 438.5h0M536.6 436.7h0M536.6 434.3h0M536.6 432h0M536.6 429.5h0M537.6 446.3h0M537.7 447.8h0M538 458.9h0M538 456.6h0M538 454.3h0M538 452.5h0M538 450.3h0M538.6 450.6h0M539 446.4h0M538.7 459.5h0M538.7 457.9h0M538.7 456.1h0M538.7 454.5h0M538.7 452.2h0M538.7 450h0M538.7 448.8h0M538.7 447.5h0M538.7 446.1h0M538.7 444h0M563.7 466.1h0M563.3 466.2h0M565 463.7h0M564.7 466.9h0M564.9 466.8h0M564.9 464.8h0M564.9 462.9h0M564.9 461.3h0M564.9 459.6h0M564.9 457.8h0M564.9 455.3h0M564.9 452.8h0M564.9 451.2h0M564.9 449.4h0M564.9 447.9h0M564.9 445.4h0M564.9 444h0M564.9 442.1h0M564.9 440.9h0M564.9 439h0M564.8 465.4h0M565.8 465.6h0M565.4 465.4h0M565.9 467.3h0M566.4 462.8h0M567 454.6h0M568 466.5h0M568.2 457.8h0M568.4 454.3h0M568.7 462h0M569.8 468h0M569.4 453.1h0M569.5 465.2h0M569.5 463.3h0M569.5 460.9h0M569.5 459.3h0M572.8 456.8h0M572.8 459.2h0M572.2 465.5h0M572.2 463.4h0M572.2 460.8h0M572.2 458.4h0M572.2 456.9h0M572.2 454.4h0M572.2 452.5h0M572.2 450.5h0M572.2 448.4h0M572.2 446.3h0M572.2 443.9h0M572.2 441.5h0M572.2 439.8h0M572.2 437.4h0M572.2 435.7h0M573.8 463.7h0M574.2 457.7h0M573.3 463.8h0M573.3 461.7h0M573.3 460.4h0M573.3 458.6h0M573.3 457.2h0M573.3 454.6h0M573.3 453.3h0M573.3 451.2h0M573.3 449.2h0M573.3 447.9h0M573.3 445.3h0M573.3 443.3h0M573.3 441.3h0M573.3 439.7h0M573.3 438.3h0M573.3 436.6h0M574.7 462.4h0M574.9 465.3h0M574.9 465.1h0M574.9 463.6h0M574.9 462.2h0M574.9 460.5h0M574.9 458.8h0M574.9 456.4h0M574.9 454.9h0M575.4 465.9h0M576.2 452.1h0M575.6 465.4h0M575.6 463.1h0M576.6 453.9h0M577.1 464.9h0M578.2 454.9h0M577.6 456.1h0M577.7 465.8h0M578.8 464.1h0M578.4 459.7h0M579.4 461.3h0M579.6 462.6h0M579.7 465.4h0M579.7 463.8h0M579.7 461.8h0M579.7 459.3h0M601.4 458.9h0M602.1 471.5h0M602.2 469.7h0M602.7 467.9h0M602.8 456.8h0M603.3 465.5h0M604.1 458.7h0M604.9 467.5h0M604.9 468.7h0M605.7 464.9h0M605.5 469h0M606.6 468.6h0M606.4 464.4h0M607.8 466.2h0M607.8 463.7h0M609.1 453.5h0M608.8 458.7h0M608.6 427h0M609.6 447.1h0M609.7 440.1h0M609.7 455.3h0M610.7 453.8h0M610.5 454.5h0M611.1 453.8h0M611 408h0M611.2 443.2h0M611.7 440.4h0M611.2 454.3h0M611.2 452.7h0M611.2 450.3h0M611.2 448.8h0M613 446.7h0M613.1 449.4h0M612.4 455.7h0M612.4 454.1h0M612.4 452.4h0M612.7 444.8h0M613.3 447.1h0M613.4 446h0M613.5 455.7h0M613.5 454.3h0M613.5 452.8h0M613.5 451.4h0M613.5 449.8h0M613.5 447.2h0M613.5 445.5h0M613.5 443.8h0M613.5 441.5h0M613.5 440.2h0M613.5 438.9h0M613.5 436.5h0M613.5 434.8h0M613.5 433.4h0M613.5 431.9h0M613.5 429.7h0M613.5 427.1h0M614.6 454.7h0M614.5 453.2h0M614.2 454.8h0M614.2 452.6h0M614.2 451.4h0M614.2 448.8h0M614.2 446.8h0M614.2 444.6h0M614.2 443.2h0M614.2 441.7h0M614.2 439.3h0M614.2 436.7h0M614.2 435.5h0M614.2 433.2h0M614.2 431.7h0M615.2 443.9h0M616 453.8h0M615.9 455.9h0M615.9 453.7h0M615.9 452.3h0M615.9 450.6h0M615.9 449.2h0M615.9 447.9h0M615.9 445.9h0M630.9 439.6h0M631.5 441.1h0M630.9 449.3h0M630.9 447.5h0M630.9 445.9h0M630.9 443.7h0M630.9 441.3h0M630.9 439.1h0M630.9 437.4h0M630.9 435.4h0M630.9 433.8h0M630.9 431.8h0M630.9 429.9h0M630.9 428.5h0M630.9 426.1h0M630.9 423.7h0M630.9 421.5h0M630.9 420.1h0M632.5 442.6h0M632.6 445.9h0M632 448.9h0M632 446.6h0M632 444.9h0M632 442.7h0M632 440.7h0M633.6 442h0M633.6 442.2h0M632.9 441.1h0M634.5 447.7h0M634.4 441.9h0M634 449.2h0M634 447.1h0M634 445.1h0M634 443.6h0M634 441.4h0M634 440.1h0M634 438.8h0M634 436.3h0M635.7 440.1h0M635.3 444.2h0M636.7 445.8h0M635.9 444.1h0M636.6 448.1h0M636.6 446.8h0M636.6 444.9h0M636.6 443.5h0M636.6 441.5h0M636.6 439.2h0M636.6 437.1h0M636.6 435.2h0M636.6 433.8h0M636.6 431.3h0M636.6 428.9h0M636.6 427h0M636.6 425.7h0M636.6 423.6h0M637.1 449.2h0M636.9 443.2h0M638.5 450.8h0M637.9 454.2h0M639.3 446.8h0M639.1 446.3h0M639.8 449.9h0M640.6 442.7h0M641.3 456.4h0M641 445.5h0M641.3 458.1h0M641.3 456.7h0M641.3 455.2h0M641.3 452.9h0M641.3 450.6h0M641.3 449.3h0M641.3 447.9h0M642.5 452h0M642.6 449h0M642.4 458.6h0M642.4 456.1h0M642.4 454.5h0M642.4 452.7h0M642.4 450.7h0M642.4 448.8h0M642.4 446.8h0M642.4 445.5h0M642.4 443.1h0M642.4 441.1h0M642.4 439.8h0M642.4 437.9h0M642.4 436.4h0M643.5 458.6h0M643 444.2h0M644.3 458.4h0M643.8 451.9h0M643.9 438h0M659.6 463.8h0M659.4 463.9h0M659.3 463.5h0M659.3 461h0M659.9 460.8h0M660.7 457.9h0M661.5 459.9h0M661.7 459.5h0M661.7 463.8h0M661.7 462.4h0M661.7 460.3h0M662.5 460h0M662.5 463.9h0M662.4 463h0M662.4 460.9h0M662.4 458.3h0M662.4 456.5h0M662.4 454.7h0M662.4 452.4h0M662.4 450h0M662.4 448.4h0M662.4 446.3h0M662.4 444.7h0M662.4 443h0M662.4 440.7h0M662.4 439h0M662.4 436.5h0M662.4 434.6h0M661.9 455.7h0M663.7 450.7h0M663.4 459.3h0M664.2 463.3h0M664.8 452.8h0M665.7 455.6h0M665 456h0M666.3 456.1h0M666.1 462.5h0M91.2 398h0M91.4 399.6h0M91.6 401.2h0M91.2 402.8h0M91.2 404.4h0M91.2 406h0M91.6 407.6h0M91.5 409.2h0M91.3 410.8h0M91.6 412.4h0M91.2 414h0M91.4 415.6h0M91.5 417.2h0M91.5 418.8h0M91.2 420.4h0M91.2 422h0M91.2 423.6h0M91.6 425.2h0M91.6 426.8h0M91.3 428.4h0M91.2 430h0M91.5 431.6h0M91.2 433.2h0M91.6 434.8h0M91.6 436.4h0M91.5 438h0M91.5 439.6h0M91.5 441.2h0M91.6 442.8h0M91.3 444.4h0M91.5 446h0M91.2 447.6h0M91.5 449.2h0M103.6 425h0M103.8 427h0M103.7 429h0M103.6 431h0M103.7 433h0M103.6 435h0M103.7 437h0M103.4 439h0M122.9 425h0M122.9 426.8h0M123.1 428.6h0M123.2 430.4h0M123.1 432.2h0M123.1 434h0M123.1 435.8h0M122.8 437.6h0M122.9 439.4h0M123 441.2h0M123.1 443h0M123 444.8h0M123.1 446.6h0M122.9 448.4h0M130.3 406h0M130.2 407.6h0M130.4 409.2h0M130.4 410.8h0M130.2 412.4h0M130.6 414h0M130.2 415.6h0M130.5 417.2h0M130.3 418.8h0M130.6 420.4h0M130.3 422h0M130.2 423.6h0M130.5 425.2h0M130.3 426.8h0M130.6 428.4h0M130.5 430h0M130.4 431.6h0M130.5 433.2h0M130.5 434.8h0M130.3 436.4h0M130.2 438h0M130.5 439.6h0M130.4 441.2h0M130.2 442.8h0M130.2 444.4h0M130.4 446h0M130.2 447.6h0M130.4 449.2h0M205.4 402h0M205.2 403.5h0M205.3 405h0M205.3 406.5h0M205.3 408h0M205.6 409.5h0M205.6 411h0M205.3 412.5h0M205.6 414h0M205.3 415.5h0M205.4 417h0M205.2 418.5h0M205.6 420h0M205.4 421.5h0M205.4 423h0M205.5 424.5h0M205.4 426h0M210 420h0M210.1 421.8h0M210 423.6h0M210 425.4h0M209.9 427.2h0M209.8 429h0M209.9 430.8h0M210.2 432.6h0M210 434.4h0M209.8 436.2h0M209.8 438h0M210 439.8h0M210 441.6h0M210.2 443.4h0M210.2 445.2h0M209.8 447h0M210.2 448.8h0M269.7 417h0M269.4 419h0M269.7 421h0M269.4 423h0M269.4 425h0M269.5 427h0M269.6 429h0M269.7 431h0M269.8 433h0M269.5 435h0M269.4 437h0M269.8 439h0M269.6 441h0M269.8 443h0M269.7 445h0M269.4 447h0M293.5 412h0M293.5 413.6h0M293.6 415.2h0M293.5 416.8h0M293.8 418.4h0M293.8 420h0M293.4 421.6h0M293.8 423.2h0M293.8 424.8h0M293.5 426.4h0M293.8 428h0M293.8 429.6h0M293.7 431.2h0M293.5 432.8h0M293.7 434.4h0M293.7 436h0M293.5 437.6h0M293.6 439.2h0M355.2 427h0M355.1 429h0M355 431h0M355 433h0M355 435h0M354.8 437h0M354.9 439h0M355.1 441h0M355.2 443h0M355.1 445h0M424.4 358h0M424.5 359.1h0M424.7 360.2h0M424.4 361.3h0M424.4 362.4h0M424.5 363.5h0M424.8 364.6h0M424.8 365.7h0M424.4 366.8h0M424.6 367.9h0M424.6 369h0M424.4 370.1h0M424.5 371.2h0M424.7 372.3h0M424.4 373.4h0M424.8 374.5h0M424.5 375.6h0M424.5 376.7h0M424.8 377.8h0M424.4 378.9h0M424.4 380h0M424.6 381.1h0M424.5 382.2h0M424.5 383.3h0M424.6 384.4h0M424.8 385.5h0M424.6 386.6h0M424.4 387.7h0M424.5 388.8h0M424.8 389.9h0M424.6 391h0M424.4 392.1h0M424.5 393.2h0M424.5 394.3h0M424.5 395.4h0M424.5 396.5h0M424.7 397.6h0M424.7 404h0M424.4 405.4h0M424.4 406.8h0M424.8 408.2h0M424.8 409.6h0M424.7 411h0M424.4 412.4h0M424.7 413.8h0M424.4 415.2h0M424.7 416.6h0M424.5 418h0M424.8 419.4h0M424.8 420.8h0M424.6 422.2h0M424.7 423.6h0M424.8 425h0M424.8 426.4h0M424.7 427.8h0M424.7 429.2h0M424.5 430.6h0M424.7 432h0M424.4 433.4h0M424.6 434.8h0M424.4 436.2h0M424.4 437.6h0M424.7 439h0M424.6 440.4h0M424.5 441.8h0M424.8 443.2h0M424.5 444.6h0M424.6 446h0M424.6 447.4h0M424.4 448.8h0M429.8 417h0M429.7 418.8h0M429.8 420.6h0M429.5 422.4h0M429.8 424.2h0M429.8 426h0M429.8 427.8h0M429.4 429.6h0M429.4 431.4h0M429.4 433.2h0M429.4 435h0M429.7 436.8h0M429.4 438.6h0M429.6 440.4h0M429.5 442.2h0M429.7 444h0M429.4 445.8h0M429.7 447.6h0M429.8 449.4h0M475.9 380h0M476.1 381.4h0M476 382.8h0M475.9 384.2h0M475.9 385.6h0M475.9 387h0M476 388.4h0M475.9 389.8h0M476 391.2h0M475.9 392.6h0M475.8 408h0M476.1 409.5h0M475.9 411h0M476.2 412.5h0M476 414h0M475.9 415.5h0M476.1 417h0M476.2 418.5h0M475.9 420h0M476.1 421.5h0M475.9 423h0M476.2 424.5h0M475.9 426h0M475.8 427.5h0M475.8 429h0M476 430.5h0M476.1 432h0M475.9 433.5h0M476 435h0M476 436.5h0M475.9 438h0M475.8 439.5h0M476 441h0M476.1 442.5h0M475.8 444h0M476.2 445.5h0M475.9 447h0M476 448.5h0M475.9 450h0M581.6 335h0M581.5 336.2h0M581.3 337.4h0M581.2 338.6h0M581.4 339.8h0M581.2 341h0M581.5 342.2h0M581.4 343.4h0M581.3 344.6h0M581.5 345.8h0M581.6 347h0M581.4 348.2h0M581.6 349.4h0M581.4 350.6h0M581.2 351.8h0M581.4 353h0M581.3 354.2h0M581.6 355.4h0M581.4 356.6h0M581.6 357.8h0M581.2 359h0M581.3 360.2h0M581.2 361.4h0M581.2 362.6h0M581.5 363.8h0M581.2 365h0M581.3 366.2h0M581.4 367.4h0M581.6 368.6h0M581.3 369.8h0M581.2 371h0M581.5 372.2h0M581.5 373.4h0M581.2 374.6h0M581.6 375.8h0M581.6 377h0M581.6 378.2h0M581.6 379.4h0M581.4 380.6h0M581.5 381.8h0M581.2 383h0M581.5 384.2h0M581.3 385.4h0M581.3 386.6h0M581.3 387.8h0M581.2 389h0M581.6 390.2h0M581.5 391.4h0M608.9 414h0M608.8 415.8h0M608.9 417.6h0M609 419.4h0M608.8 421.2h0M609.2 423h0M609.1 424.8h0M608.9 426.6h0M608.9 428.4h0M608.9 430.2h0M608.9 432h0M609.1 433.8h0M609.1 435.6h0M609.2 437.4h0M608.8 439.2h0M637.9 311.5h0M638.1 312.5h0M638.1 313.5h0M638.2 314.5h0M637.9 315.5h0M638.2 316.5h0M638 317.5h0M638.2 318.5h0M638.1 319.5h0M638 320.5h0M638.2 321.5h0M637.8 322.5h0M637.9 323.5h0M638 324.5h0M638.2 325.5h0M637.8 326.5h0M638.1 327.5h0M637.8 328.5h0M637.9 329.5h0M638 330.5h0M638.1 331.5h0M638 332.5h0M638.2 333.5h0M638.1 334.5h0M637.9 335.5h0M638 336.5h0M637.9 337.5h0M638.2 338.5h0M637.9 339.5h0M637.8 340.5h0M637.9 341.5h0M637.9 342.5h0M638.2 343.5h0M638.1 344.5h0M637.9 345.5h0M638 346.5h0M638.2 347.5h0M638.2 348.5h0M637.9 349.5h0M638.2 350.5h0M637.8 351.5h0M638.2 352.5h0M637.9 353.5h0M638.2 354.5h0M637.8 355.5h0M638.1 356.5h0M638.2 357.5h0M638.2 358.5h0M638 359.5h0M637.8 360.5h0M637.9 361.5h0M638.2 362.5h0M638.2 363.5h0M637.9 364.5h0M637.9 365.5h0M638.1 366.5h0M637.9 367.5h0M637.9 368.5h0M638.2 375h0M637.8 376.1h0M638.1 377.2h0M638 378.3h0M638 379.4h0M638.2 380.5h0M638.1 381.6h0M638.1 382.7h0M637.8 383.8h0M638.2 384.9h0M638.1 386h0M637.8 387.1h0M637.9 388.2h0M638.1 389.3h0M638.2 390.4h0M638 391.5h0M638.2 392.6h0M637.8 393.7h0M637.9 394.8h0M638.2 395.9h0M638.1 397h0M637.9 398.1h0M638 399.2h0M638 400.3h0M638.1 401.4h0M637.9 402.5h0M637.9 403.6h0M638.1 404.7h0M638.1 405.8h0M637.9 406.9h0M638.1 408h0M637.9 409.1h0M638 410.2h0M637.8 411.3h0M637.9 412.4h0M638 413.5h0M637.8 414.6h0M637.9 415.7h0M637.9 416.8h0M637.9 417.9h0M638 419h0M638.2 420.1h0M638.2 421.2h0M637.9 422.3h0M637.8 423.4h0M637.8 424.5h0M638.2 425.6h0M638.1 426.7h0M638.1 427.8h0M638.2 428.9h0M638 430h0M637.8 431.1h0M637.8 432.2h0M637.9 433.3h0M638.1 434.4h0M637.8 435.5h0M638 436.6h0M637.8 437.7h0M637.9 438.8h0M638 439.9h0M662.1 408h0M662.2 410h0M661.9 412h0M661.9 430h0M661.8 432h0M661.8 434h0M661.8 436h0M661.8 438h0M661.8 440h0M662 442h0M662 444h0M138 437h0M189.4 373.6h0M189.4 411.6h0M189.4 417h0M213 421h0M293.6 382.4h0M293.6 387.4h0M342 425.6h0M353.6 426.4h0M424.6 342h0M424.6 348.6h0M419 410h0M419 419h0M419 425h0M419 433h0M476 375h0M476 398h0M472.4 407.4h0M526.4 416h0M526.4 431h0M536.4 396h0M536.4 426h0M581.4 407h0M581.4 419h0M581.4 429h0"/>
<path stroke="#0000ff" stroke-width="3.0" stroke-linecap="round" fill="none" d="M35.6 451.5h0M35 461.3h0M35.9 457h0M36.5 461.2h0M36.5 463.4h0M36.7 451.6h0M37.4 461.4h0M36.8 465.8h0M37.4 439.5h0M38.2 452.7h0M38.6 458.6h0M38.1 465.3h0M38.1 462.8h0M38.1 460.5h0M38.1 459.2h0M38.1 457.6h0M38.1 456h0M38.1 454h0M38.1 452.3h0M38.9 456.5h0M39 451.4h0M40.3 465.4h0M40.1 458.4h0M40.7 465h0M41.3 464.6h0M41.6 464h0M41.6 462.4h0M41.6 460.4h0M41.6 458.8h0M41.6 456.5h0M41.6 455.1h0M41.6 453.5h0M41.6 451.7h0M41.9 464.5h0M41.9 462.4h0M42.1 463.7h0M42.1 461.9h0M42.1 459.7h0M42.1 457.2h0M42.1 455.4h0M42.1 452.9h0M42.1 451.4h0M42.1 448.8h0M42.1 446.9h0M42.1 444.7h0M42.1 443h0M42.1 430.5h0M43.4 460.1h0M43.2 463.4h0M43.4 463.1h0M43.4 461.9h0M43.4 459.7h0M42.9 459.9h0M44.5 458.2h0M44 462.6h0M44 462h0M44 459.6h0M45.3 463.5h0M44.7 463.1h0M45.5 462.3h0M45.5 460.5h0M45.5 458.9h0M45.5 456.4h0M45.5 454.1h0M45.5 452.4h0M45.9 452h0M45.8 456.1h0M46 463.9h0M46 462.5h0M46 460.1h0M46 457.6h0M46 455.5h0M46 453.3h0M46 451.7h0M46 450.1h0M46 448.8h0M46 446.2h0M46 445h0M46 442.9h0M46 441.2h0M46 439.8h0M46 437.9h0M46 435.4h0M46 433.9h0M47.3 459h0M46.9 451.5h0M46.9 462.9h0M48.4 451.3h0M48.2 464.5h0M47.8 458.5h0M49.3 454h0M48.8 462.6h0M49.8 457h0M50.5 462h0M50 465.4h0M50 463.9h0M50 462.2h0M50 460.8h0M50 459.1h0M50 457.1h0M50 455.1h0M50 453.3h0M50 451h0M50 449.7h0M51.6 455.7h0M51.5 463.9h0M51.8 471h0M51.8 459.9h0M52.2 472.5h0M52.2 470.3h0M52.2 468h0M52.2 465.7h0M52.8 461.5h0M53.4 468.5h0M53.5 470.4h0M54 465.3h0M54.4 457.7h0M54.1 468.2h0M54.1 466h0M54.1 464h0M54.1 462.3h0M54.1 460.7h0M54.1 458.3h0M54.1 455.9h0M54.1 454.3h0M54.1 453h0M54.7 458.4h0M55.2 463.6h0M56.3 468.5h0M56.6 468.4h0M56.3 466.4h0M56.3 464.2h0M56.3 461.7h0M56.3 460.4h0M56.3 459.2h0M56.3 457.7h0M56.3 455.4h0M56.3 454h0M56.3 452h0M57.2 454.5h0M57.4 464.3h0M58.7 457.2h0M58.4 465.6h0M59.5 464.8h0M59.6 459.3h0M64.6 466.3h0M64.7 472.1h0M65.2 459.1h0M64.9 468.6h0M66.1 454.8h0M66.4 470.6h0M66.3 469.7h0M66.8 456.2h0M67.6 463.7h0M67.4 468.9h0M67.4 466.4h0M68.6 469h0M67.9 466.3h0M68.7 466.7h0M68.7 464.2h0M68.7 462.7h0M68.7 461.2h0M68.8 462.8h0M69.1 460h0M70.1 458.2h0M70.4 458.7h0M71 467.9h0M71.2 460.6h0M71.6 465.4h0M71.6 463.1h0M71.6 461.2h0M71.6 459.8h0M71.6 458.2h0M71.6 456h0M71.6 453.4h0M71.6 452h0M71.6 450.8h0M71.6 449.1h0M71.6 447.4h0M71.6 445.4h0M71.6 444h0M71.6 441.7h0M71.6 440h0M72.1 467h0M72.7 461.1h0M72.5 455.5h0M73.7 453.6h0M72.9 464.7h0M74.7 466.2h0M73.8 453.4h0M74.1 466.3h0M74.1 463.8h0M74.1 461.2h0M74.1 458.8h0M74.1 457.2h0M74.1 454.9h0M75.7 466.2h0M75.1 461.3h0M75.4 467.7h0M75.4 465.2h0M75.4 463.9h0M75.4 461.8h0M75.4 460.1h0M75.4 458.7h0M75.4 457.4h0M75.4 454.8h0M75.4 452.4h0M75.4 450.6h0M75.4 448.3h0M76.3 466h0M76.3 452.5h0M77.6 464.2h0M77.3 455.7h0M76.8 466.4h0M76.8 464.4h0M76.8 463h0M76.8 460.5h0M76.8 458.7h0M76.8 457.2h0M76.8 455.4h0M76.8 453.4h0M76.8 451.6h0M76.8 450.4h0M76.8 449.1h0M76.8 446.9h0M76.8 445.5h0M76.8 443.9h0M76.8 441.6h0M76.8 439.2h0M77.8 457.8h0M78.4 464.8h0M78 466.2h0M78 463.7h0M78 462.2h0M78 460.9h0M78.2 464h0M79.7 465.4h0M79.1 463.1h0M79.5 467h0M79.5 464.7h0M79.5 463.3h0M79.5 461.9h0M79.5 459.8h0M79.9 458h0M80.4 464.7h0M80.5 466.6h0M80.5 464.7h0M80.5 462.6h0M80.5 460.5h0M80.5 458.7h0M80.5 457.3h0M80.5 455.4h0M80.5 453.4h0M81.3 465.3h0M81 460.4h0M82.4 452h0M82.1 453.5h0M82.6 467.4h0M82.6 465.7h0M82.6 463.1h0M82.6 461.8h0M82.6 460.2h0M82.6 458.3h0M82.6 456.1h0M82.6 454h0M82.6 451.5h0M81.8 466.8h0M83.2 468h0M83.3 460.3h0M83.2 465.1h0M83.2 463.4h0M83.2 461.4h0M83.2 459.4h0M83.2 457.8h0M83.2 455.5h0M83.2 454.3h0M83.2 452.8h0M83.2 451.1h0M83.2 448.7h0M83.2 446.8h0M83.2 445.5h0M83.2 443.9h0M83.2 441.9h0M83.2 439.5h0M83.2 438.2h0M84.3 464h0M84.2 452.2h0M85.5 459h0M84.9 467.9h0M143.2 459h0M142.6 459.8h0M143.6 462.1h0M144.5 456.6h0M144.5 460.1h0M144.5 458h0M144.5 455.6h0M144.5 454.3h0M144.5 452.4h0M144.5 450.1h0M144.5 448.4h0M144.5 447h0M144.5 444.6h0M144.2 461.6h0M145.5 453.6h0M145.5 460.6h0M145.9 458.7h0M146.1 459.3h0M147.5 447.5h0M146.7 445.2h0M148.1 457.7h0M148.3 457h0M149.5 452.8h0M148.9 449.7h0M149.9 454h0M150.3 456.5h0M150.3 457.8h0M150.3 456.2h0M150.3 453.7h0M150.3 452.1h0M150.3 449.8h0M150.3 448.2h0M151.5 447.3h0M150.6 448.9h0M152.3 452.3h0M151.8 449.1h0M152.4 456.3h0M152.4 454.4h0M152.4 452.2h0M153.1 458.4h0M152.9 458.4h0M154.2 462.6h0M154.4 461.3h0M155.2 458.2h0M154.9 456.1h0M156.4 467.1h0M156 465.7h0M156.3 467.4h0M156.3 465.4h0M156.3 463h0M156.3 461.7h0M156.3 460h0M156.3 457.9h0M156.3 455.9h0M156.3 454h0M156.3 452.4h0M156.3 450.9h0M156.3 448.8h0M156.3 447.1h0M156.3 444.6h0M156.3 442.1h0M156.3 439.6h0M156.7 466.6h0M156.7 464.4h0M158 468.4h0M158.5 470.3h0M158.7 456.5h0M159.2 467.7h0M159.1 468.7h0M159.1 466.2h0M159.1 464.6h0M159.1 463.3h0M159.1 461.1h0M159.1 459h0M159.1 456.8h0M159 434.7h0M160.1 456.2h0M159.8 463.8h0M160.3 471h0M160.3 468.8h0M160.3 466.2h0M160.3 463.9h0M160.3 461.5h0M160.3 459h0M161.4 454.8h0M161.2 457.8h0M160.9 463.6h0M160.9 461.3h0M160.9 459.7h0M160.9 465.1h0M161.7 446.1h0M162 457.3h0M163.2 451.9h0M163.1 441.3h0M163.1 455.8h0M163.1 454.4h0M163.1 452.4h0M163.1 450.1h0M163.1 448.3h0M163.1 447h0M163.1 444.5h0M163.6 450.2h0M163.7 456.3h0M164 456.9h0M164 455.2h0M164 453.2h0M164 451.6h0M164 449.1h0M164 447.6h0M164 446.3h0M164 444.3h0M164 442.6h0M164 440.4h0M164 439.1h0M164 437h0M164.9 456h0M164.9 454.3h0M165 458.1h0M165 456.5h0M165 454.6h0M165 452.6h0M165 450.4h0M165 448.3h0M165 446.5h0M165 445.2h0M165 443.8h0M165.8 453.7h0M165.9 448.3h0M165.8 461.6h0M165.8 459.4h0M167.4 453.5h0M167 454.8h0M167.7 458.8h0M168.5 458.7h0M168.5 438.2h0M169 458.7h0M169.1 460.2h0M169.3 460.5h0M170.5 447.9h0M170.4 462.4h0M170.5 460.6h0M170.5 458.6h0M170.5 456.7h0M170.5 454.9h0M170.5 453.5h0M170.5 451.6h0M170.5 450h0M170.5 448.6h0M170.5 446.2h0M170.5 444.2h0M170.5 441.8h0M170.5 440.2h0M170.5 438.2h0M170.5 436.6h0M170.5 434.2h0M170.5 432.7h0M170.9 467.2h0M171.1 461.8h0M171.8 469.6h0M172.4 470.5h0M172.3 470.6h0M173.1 471.5h0M173.1 457.5h0M173 470.5h0M173 469.2h0M173 466.8h0M173 464.8h0M173 463.1h0M173 461.5h0M173 460h0M174 464.9h0M174.1 470.8h0M173.8 470.3h0M173.8 469.1h0M173.8 467.9h0M173.8 466.4h0M173.8 464.3h0M173.8 462.2h0M173.8 459.7h0M173.8 457.5h0M173.8 455.6h0M173.8 454.4h0M173.8 451.8h0M174.6 460h0M175.1 470.6h0M175.2 471.3h0M176.3 464.6h0M176.3 457.2h0M176 469.3h0M176 467h0M176 464.7h0M176 462.7h0M176 461.1h0M176 458.6h0M176 456.1h0M177.4 463.4h0M177.4 460.8h0M178.4 463.9h0M178.1 459.1h0M178.7 458.9h0M178.8 471.4h0M180 465h0M180.1 457.3h0M181.1 468.1h0M181.3 471.5h0M182.4 466h0M181.9 471.6h0M182.5 469.4h0M182.5 467.9h0M182.5 465.7h0M182.5 463.4h0M182.5 461.5h0M228.2 454.5h0M228.5 446h0M229.6 455.3h0M228.9 454.3h0M229.3 459.7h0M229.3 458.1h0M229.3 455.8h0M230.7 460.1h0M230.4 450.7h0M231 446h0M231.5 452.9h0M231.4 459.7h0M232.6 454.7h0M232.6 460.6h0M233.5 460.4h0M233 452.4h0M234.1 456.8h0M234.6 454h0M233.9 438h0M235.5 456.4h0M234.9 458.3h0M235.9 457.7h0M236.7 462.6h0M237.2 462.6h0M237 462.5h0M237.8 462.2h0M237.8 459.7h0M237.8 457.9h0M237.8 455.8h0M237.8 454.6h0M237.8 452.8h0M237.8 451.5h0M237.8 450.2h0M237.8 447.8h0M237.8 446.5h0M237.8 444.9h0M237.9 464.2h0M238.5 460.9h0M238.2 461.7h0M238.2 460.4h0M238.2 459h0M238.2 457.7h0M238.2 455.7h0M239 459.5h0M239.2 450.1h0M240.1 462.4h0M240.4 463.2h0M240.9 457.9h0M241.3 462.9h0M241.6 456.8h0M242.6 468.7h0M242.5 469.9h0M242.2 467.7h0M243 456.9h0M243.8 464.3h0M244.3 460.8h0M243.9 462.5h0M245 474.6h0M245.4 467.8h0M246.4 460.8h0M246.1 464.4h0M247.3 472h0M247.3 475.4h0M247 473.3h0M247 471.6h0M248.8 462.6h0M248.6 471.6h0M248.2 473.5h0M248.2 472.3h0M248.2 470.2h0M248.2 468.5h0M248.2 466.7h0M248.2 464.7h0M249.2 461.1h0M249.8 470.3h0M250.7 471h0M250.6 462h0M251.4 475.4h0M251.3 475.8h0M251.2 475.6h0M251.2 473.8h0M251.2 472.5h0M251.2 470.5h0M251.2 468.9h0M251.2 467.4h0M251.2 465.3h0M251.2 462.8h0M251.2 461.6h0M251.2 459.4h0M251.2 457.4h0M251.2 455.5h0M251.2 453.7h0M251.2 452.5h0M251.2 450.8h0M251.2 448.9h0M251.2 447.2h0M252.7 464.6h0M252.7 470.9h0M253 474.5h0M252.9 470.9h0M254.8 472.2h0M254.4 475.6h0M255 459.3h0M254.9 471.2h0M256 464.1h0M256.7 463.3h0M256.2 461.7h0M257.7 465.9h0M257.5 453.1h0M257.9 461.5h0M258.1 465.9h0M258.4 466.1h0M258.4 464.5h0M258.4 463.2h0M258.4 460.7h0M258.4 458.4h0M258.4 456.6h0M258.4 454h0M258.4 451.5h0M258.4 450h0M258.4 448.4h0M258.4 446.9h0M259.4 456.1h0M259.4 464.2h0M259.9 461.8h0M260 456.8h0M260.5 464h0M260.5 462h0M260.5 460h0M260.5 457.4h0M260.5 455.1h0M260.5 453.4h0M260.5 452h0M260.5 449.6h0M260.5 448.3h0M260.5 445.8h0M260.5 443.3h0M260.5 441.1h0M260.5 438.6h0M261.5 465.6h0M260.9 457.1h0M261.1 454h0M262.1 454.3h0M262.5 457.2h0M263.3 463.3h0M263.2 456.8h0M264.6 466.3h0M263.9 458.9h0M265.9 458.4h0M265.2 457.6h0M265.3 429h0M305.7 453.7h0M306.5 457.9h0M306.3 457.4h0M306.3 455.5h0M307 447.4h0M307.2 448.6h0M307.1 458.4h0M307.1 455.9h0M307.9 458.6h0M308.1 448.3h0M308.2 457.4h0M309.5 446.3h0M308.8 453.2h0M310.3 450.3h0M310.3 457.7h0M311.1 459.7h0M311.3 455.3h0M311.1 457.5h0M311.1 455.3h0M311.1 453.2h0M311.1 450.7h0M311.1 449.4h0M311.1 447.8h0M311.1 446.3h0M311.1 444.2h0M311.1 442.7h0M311.1 441.5h0M311.1 440.1h0M311.1 438.7h0M311.1 436.7h0M311.1 434.9h0M311.1 433h0M311.1 431.8h0M311.1 429.9h0M310.7 458.8h0M311.9 459.1h0M312 459.1h0M312.8 460.6h0M313.5 460.5h0M314 448.3h0M313.6 452.1h0M315.3 458.2h0M315 450.1h0M314.5 461.8h0M314.5 460.4h0M314.5 457.9h0M316.5 454.3h0M315.9 462.8h0M316.4 461.9h0M316.4 459.4h0M316.4 457.8h0M316.6 453.1h0M317.1 461.9h0M318.5 465.7h0M318.4 457.7h0M318.2 470h0M318.2 468.8h0M318.2 466.6h0M318.2 464.4h0M318.2 462.9h0M318.2 461.6h0M318.2 460.3h0M318.2 458.3h0M318.2 457h0M318.2 454.6h0M319.2 467.9h0M318.7 467.9h0M320.4 469.4h0M319.5 463.7h0M321.3 460.5h0M321.1 460.3h0M321.2 471.7h0M321.2 470.3h0M321.2 468.2h0M321.2 466.6h0M321.2 464h0M321.2 462.5h0M321.2 460.6h0M321.2 458.7h0M321.2 456.2h0M321.2 454.5h0M321.2 452.1h0M321.2 449.9h0M321.2 447.9h0M321.2 445.3h0M321.2 442.9h0M321.5 470.6h0M322.2 471.5h0M322.9 460.3h0M323.3 462h0M323.5 469.2h0M323.5 467.2h0M323.5 465.9h0M323.5 463.4h0M323.5 462.1h0M323.5 460.8h0M324.3 463.2h0M323.7 458.3h0M325.5 452.8h0M325 452.3h0M325.6 460.7h0M326.2 460.8h0M325.6 462.6h0M325.6 461.2h0M325.6 459h0M325.6 457.5h0M325.6 455h0M327.1 462.8h0M327.1 457.9h0M328 452h0M328.1 462.3h0M327.6 462.6h0M327.6 460.6h0M327.6 458.8h0M327.6 457.6h0M327.6 456.3h0M327.6 453.9h0M327.6 452.1h0M327.6 450.5h0M327.6 448.6h0M327.6 447.4h0M327.6 446h0M327.6 443.7h0M327.6 441.4h0M327.6 439.9h0M327.6 438.3h0M327.6 437h0M327.6 435.4h0M329 451.7h0M329.5 457.5h0M329.2 463.6h0M329.5 463.1h0M329.9 457.8h0M330.1 463.5h0M330.2 461.7h0M330.2 459.5h0M330.2 458h0M330.7 473h0M331.1 460.1h0M331 474.4h0M331 472h0M331 470.7h0M331 468.7h0M331 467h0M331 464.8h0M331 462.6h0M331 460.8h0M331 459.4h0M332.1 466h0M332.4 474.3h0M332.8 462.4h0M332.8 461.1h0M334.4 465.2h0M333.9 471.4h0M334.9 462.5h0M334.7 470.4h0M334.8 475.9h0M334.8 473.9h0M336.3 469.9h0M336.2 475.7h0M335.9 461.5h0M337.2 463.2h0M337.3 460.9h0M374.2 460.6h0M373.4 449.2h0M375.3 459.8h0M374.4 458.8h0M376.1 462.3h0M376.2 462.7h0M375.5 461.8h0M375.5 460.2h0M375.5 458.5h0M375.5 456.6h0M375.5 455.1h0M375.5 452.7h0M375.5 450.2h0M375.5 447.7h0M375.5 446.3h0M375.5 445h0M375.5 443.2h0M375.5 441h0M375.5 439h0M375.5 436.5h0M376.5 460.3h0M376.3 460.4h0M377.5 458.1h0M378.2 456.1h0M377.5 461.6h0M377.5 459.8h0M377.5 458h0M377.5 455.5h0M379.3 461.6h0M378.8 456h0M378.7 461.5h0M378.7 459.5h0M378.7 457.3h0M378.7 455.3h0M378.7 453.1h0M378.7 451.4h0M378.7 450h0M378.7 448.3h0M378.8 440.5h0M379.8 454.9h0M379.3 463.4h0M379.8 431.5h0M381.2 451.5h0M380.7 461.1h0M380.7 461.8h0M380.7 459.3h0M380.7 457h0M380.7 455.1h0M380.7 452.8h0M380.7 451h0M380.7 448.9h0M380.7 447.2h0M380.7 444.6h0M380.7 442.1h0M381.4 457.6h0M382.2 462.3h0M387.1 457.9h0M386.9 449.4h0M386.9 459.3h0M386.9 457.6h0M386.9 455.7h0M386.9 453.4h0M386.9 452h0M386.9 450.7h0M386.9 449.2h0M386.9 447.1h0M386.9 445.3h0M386.9 443h0M386.9 440.8h0M386.9 439.1h0M386.9 437.1h0M386.9 435.7h0M386.9 433.6h0M386.9 431.5h0M387.5 444.7h0M387.9 445.9h0M389.1 452.7h0M388.7 451.1h0M389.6 444.9h0M390.3 455.8h0M390.7 458.9h0M390.6 454.9h0M391.1 459.9h0M391.1 457.9h0M391.1 456.1h0M391.8 458.7h0M391.4 447.3h0M392.3 458.9h0M392.3 456.9h0M392.3 455.5h0M393.2 448.4h0M393.3 458.5h0M393 458.4h0M393.6 452.8h0M393.8 459.3h0M395.2 449.7h0M394.8 455.5h0M395 458.9h0M395.6 459.1h0M396.1 455.8h0M395.5 459.3h0M395.5 457.9h0M395.5 455.9h0M395.5 453.6h0M395.5 452.4h0M395.5 449.9h0M395.5 447.7h0M395.5 445.3h0M395.5 443.5h0M395.5 441.7h0M395.5 440.4h0M395.5 438.8h0M395.5 436.4h0M395.5 434.8h0M395.5 432.4h0M395.5 430h0M396.2 451.2h0M396.7 458.3h0M396.4 454.1h0M397.6 452.3h0M397.5 449.1h0M398.5 453.5h0M398.6 459.6h0M399.6 458.3h0M400.1 446.1h0M399.6 458.6h0M399.6 456.6h0M399.6 455h0M399.6 452.9h0M399.6 451h0M399.6 449.7h0M399.6 448.3h0M399.6 446.6h0M400.9 452.5h0M401.2 452.8h0M401.3 427h0M434.5 450.3h0M433.8 455.9h0M434.8 456h0M435.2 461h0M435.3 459.7h0M435.3 457.7h0M435.3 455.7h0M435.3 454h0M435.3 452.7h0M435.3 450.5h0M435.3 448.2h0M435.3 446.4h0M435.3 444.1h0M435.3 441.8h0M435.3 439.6h0M435.7 446.5h0M436.1 450.3h0M435.7 446.9h0M437.3 458.2h0M437 459h0M437.9 451.1h0M437.8 449.8h0M439.2 445.4h0M439.3 456.3h0M439.9 458.6h0M440.4 449.4h0M441.1 457.4h0M441.3 453h0M442 458.9h0M441.7 450.2h0M441.7 459.5h0M441.7 457.1h0M441.7 455.5h0M441.7 453.2h0M443.2 459.3h0M443.3 454.2h0M444 446.6h0M444.2 457.4h0M444.8 440.6h0M445.1 442.5h0M444.9 451.4h0M444.9 449.3h0M444.9 447.6h0M444.9 445.8h0M444.9 444.3h0M445.9 447.6h0M446 443.5h0M447 432.7h0M447.3 443.4h0M446.8 446.6h0M446.8 444.5h0M447.8 440.9h0M448 439.7h0M449 447.7h0M448.8 440.5h0M449.5 400h0M450 442h0M450.3 445.3h0M450.1 446.7h0M450.1 444.7h0M450.1 443.3h0M450.1 441.5h0M450.1 439.9h0M450.1 438.4h0M450.1 436.5h0M450.1 434.3h0M450.1 432.4h0M450.1 430.5h0M450.1 428.3h0M450.8 448h0M451.2 439.1h0M451 447.3h0M451 445h0M451 442.6h0M451 441h0M451.7 438.5h0M452.1 432.5h0M452.9 449.8h0M453.4 449.8h0M454.3 452.1h0M453.7 439.5h0M455.6 443.4h0M454.8 445.1h0M454.9 453.5h0M454.9 451.9h0M454.9 450.3h0M454.9 448.9h0M454.9 446.5h0M454.9 444.7h0M456.3 455.7h0M456.6 442.3h0M457.4 453.7h0M456.6 458.2h0M458.6 455.1h0M458.5 450.6h0M457.6 463.7h0M457.6 462.3h0M457.6 460.4h0M457.6 458.6h0M457.6 457.3h0M457.6 455.2h0M457.6 452.9h0M457.6 451.4h0M457.6 449.9h0M457.6 447.6h0M457.6 445.7h0M457.6 444.4h0M457.6 442.8h0M457.6 440.3h0M457.6 438.7h0M457.6 437.1h0M459.4 463.1h0M459.3 466.6h0M459.2 466.2h0M459.2 464.9h0M459.2 462.5h0M459.2 461.1h0M459.2 459.8h0M459.2 461.2h0M460.3 465h0M460.1 464.4h0M459.6 451.5h0M496.2 446.3h0M496 441h0M497 438.5h0M497.8 441.6h0M497.6 451.9h0M497.6 449.3h0M497.6 447.2h0M497.6 445.7h0M497.6 443.2h0M497.6 441.2h0M497.6 439.1h0M497.6 437.9h0M497.6 436.4h0M497.6 434.1h0M497.6 432.9h0M497.6 431.4h0M497.6 430.1h0M497.6 428.1h0M497.6 426.7h0M497.6 424.4h0M497.6 422.5h0M498.9 450.9h0M498.3 440.9h0M498.3 450.1h0M498.3 448.6h0M498.3 446.3h0M498.3 444.8h0M498.3 443h0M498.3 440.7h0M498.3 438.4h0M498.3 437h0M498.3 435.6h0M498.3 434.1h0M498.3 431.8h0M498.3 429.6h0M498.3 427.4h0M498.3 425.1h0M498.3 423.6h0M498.3 421.7h0M499.6 450.1h0M499.8 450.7h0M499.2 450h0M499.2 448.2h0M499.2 447h0M499.2 445.6h0M499.2 443.5h0M499.2 441.2h0M499.2 439h0M499.2 436.6h0M499.2 434.5h0M500.6 446.2h0M500.1 450.4h0M500.4 451.1h0M501.2 438.6h0M501.8 450.9h0M502 452.7h0M502.2 454.1h0M502.8 451.5h0M502.8 450.2h0M502.8 448.9h0M502.8 446.5h0M502.8 444.8h0M502.8 443.1h0M502.8 441h0M502.8 439h0M502.8 437.4h0M502.8 435.9h0M502.8 434.6h0M502.8 432.4h0M502.8 429.9h0M502.8 428.7h0M503.2 453.5h0M503.5 456.7h0M503.8 458.2h0M503.8 456.2h0M503.8 453.9h0M503.8 451.9h0M503.8 450.2h0M505 458.7h0M504.4 456.5h0M505.5 455.5h0M505.9 458h0M505.2 460.7h0M505.2 458.1h0M506.4 455.4h0M506.2 447.7h0M506.7 458.4h0M506.7 455.8h0M506.7 453.9h0M507.4 459.8h0M507.4 458.6h0M507.3 459.1h0M507.3 457.5h0M507.3 456.1h0M507.3 453.8h0M507.3 451.6h0M507.3 449.4h0M507.3 447.3h0M507.3 445.9h0M507.3 444h0M507.3 441.6h0M507.3 439.3h0M508.1 460.8h0M508.8 461h0M508.7 458.9h0M508.7 456.5h0M508.7 454h0M509.1 458.3h0M509.1 446h0M510 445.3h0M510.2 448.6h0M510.1 457.5h0M510.1 456h0M511.2 454.5h0M511.5 451.5h0M511.1 454.8h0M511.1 452.6h0M511.1 450.5h0M511.1 448.3h0M512.2 439.1h0M512.5 448.4h0M512.9 451.8h0M512.9 449.5h0M512.9 448.1h0M512.9 446h0M513.3 449.4h0M513.6 449.2h0M514.8 448.8h0M514.8 449.4h0M514.6 450.8h0M514.6 448.9h0M514.6 446.7h0M514.6 444.2h0M514.6 441.9h0M514.6 439.4h0M514.6 437.7h0M514.6 436.1h0M514.6 433.6h0M514.6 431.3h0M514.6 428.8h0M514.6 427h0M514.6 425.2h0M514.6 422.7h0M544.3 448.5h0M544.8 451.1h0M544.5 452.8h0M544.5 451.1h0M544.5 448.9h0M545.5 445.8h0M546.1 440.3h0M545.3 453.7h0M545.3 452h0M545.3 449.8h0M546.4 449.9h0M546.4 451.2h0M547.4 450.2h0M548.1 444.6h0M548.5 442.2h0M548.2 444.5h0M549.3 453.3h0M550 452.3h0M549.9 452.5h0M549.9 450.4h0M549.9 447.9h0M549.9 446h0M549.9 444.3h0M549.9 442.1h0M549.9 439.7h0M549.9 437.5h0M551.2 452.4h0M550.9 452.9h0M551.2 453.3h0M551.2 451.7h0M551.2 449.2h0M551.6 443.3h0M551.3 455h0M551.5 452.4h0M551.5 450.6h0M552.6 452.9h0M552.3 451.3h0M554.2 457.6h0M553.7 446h0M553.4 457.7h0M555.2 460.5h0M554.9 449.6h0M554.9 457.3h0M555.4 459h0M555.4 462.9h0M557.1 464.4h0M556.6 464.2h0M557.6 449.7h0M557.9 456.6h0M558.9 450.3h0M558.3 453.4h0M558.9 463h0M559.7 464.8h0M559.7 450.3h0M559.4 465.6h0M559.4 463.5h0M559.4 461h0M559.4 459.2h0M559.4 457.2h0M561.2 463.9h0M560.4 452.7h0M561.4 456.2h0M561.3 466.6h0M561.6 465.2h0M561.6 462.7h0M561.6 460.9h0M582.9 445.4h0M583.2 450.5h0M584.2 441.2h0M584.5 450.8h0M584.5 449.3h0M584.5 447.8h0M584.5 446.1h0M584.5 443.9h0M584.5 442.2h0M584.5 440.2h0M585.3 451h0M585.6 439.7h0M586.5 446.3h0M586.1 441.9h0M586 449.2h0M586 447h0M587.1 443.2h0M587 437.8h0M588.1 445.5h0M588.6 448.9h0M589.8 443.7h0M589.5 448.3h0M590.5 453.9h0M590 450h0M590.1 453.6h0M590.1 452h0M590.1 450.5h0M590.1 448.5h0M590.1 446.8h0M590.1 444.3h0M590.1 442.2h0M590.1 440.8h0M590.1 439.2h0M590.1 437.9h0M590.1 436h0M590.1 434h0M590.1 432.4h0M590.1 430.2h0M590.1 428.4h0M590.1 426.1h0M591.7 457.2h0M591.1 457.2h0M592.7 442.4h0M591.9 444.7h0M592.6 457h0M592.6 454.6h0M592.6 452.3h0M592.6 450.4h0M592.6 448.8h0M592.6 447.4h0M592.6 446.1h0M592.6 444.1h0M592.6 442.2h0M592.6 440.7h0M592.5 452.4h0M593 453.5h0M593 446h0M593.8 456.2h0M593.8 454.6h0M593.8 452.5h0M593.8 451.2h0M593.8 448.6h0M593.8 446.5h0M593.8 445.2h0M593.8 443.8h0M593.8 442.5h0M593.8 440.8h0M593.8 438.3h0M593.8 436h0M593.8 434.3h0M593.8 432h0M593.8 430.8h0M593.8 428.8h0M593.5 418.8h0M594.8 452.2h0M594.5 459.5h0M595.4 453.2h0M595.3 457.9h0M595 460.7h0M595 459.4h0M595 457.2h0M596.7 460.6h0M596.7 458.5h0M597.1 457.1h0M597.1 461h0M598.8 455.7h0M598.2 459h0M599.8 458.3h0M599.8 459.8h0M599 455.5h0M618.5 461.4h0M618.2 463h0M618.2 469.7h0M618.2 467.9h0M618.2 465.5h0M618.2 462.9h0M618.9 470.7h0M618.9 465.7h0M620.6 460.3h0M619.9 470.8h0M621.5 457.3h0M621.2 460.4h0M622.1 456.2h0M622.4 464.5h0M622.2 447.5h0M623 470.4h0M623.2 458.2h0M623.6 470.4h0M623.6 468.4h0M623.6 466.6h0M623.6 464.9h0M623.6 463.5h0M623.6 462h0M623.6 459.4h0M623.6 457.1h0M623.6 454.5h0M623.6 452.6h0M623.6 450.7h0M623.6 449.4h0M623.6 447.6h0M623.6 445.6h0M623.6 443h0M623.6 441.8h0M622.8 423h0M624.3 460.9h0M623.8 464h0M624 468.4h0M624 466.3h0M625 448.5h0M624.8 444.1h0M624.8 446.4h0M626.3 454h0M626.5 453.8h0M627.2 444.7h0M627.6 441.1h0M627.1 453.5h0M627.1 451.7h0M627.1 449.1h0M627.1 447.9h0M627.1 445.7h0M627.1 443.8h0M627.1 441.3h0M627.1 439.5h0M627.1 437.9h0M627.1 435.5h0M627.1 434.2h0M627.7 453.1h0M628.5 453.2h0M627.7 411.9h0M629.3 448.1h0M629.2 439.9h0M629.2 451.6h0M629.2 450h0M629.2 447.4h0M629.2 445.2h0M629.2 443.4h0M629.2 441.9h0M629.2 439.4h0M629.2 437.4h0M629.2 434.9h0M629.2 432.4h0M629.2 430.2h0M629.2 428h0M629.2 426.5h0M629.2 424.2h0M628.7 452.9h0M648.3 460h0M648.2 450.3h0M648.3 457.4h0M649.6 457.4h0M649.4 448.5h0M649.4 458h0M649.4 456.7h0M649.4 455.2h0M649.4 452.6h0M649.4 451h0M649.4 449.2h0M649.4 447.1h0M649.4 444.5h0M649.9 442.3h0M650.8 456.5h0M651 459.8h0M652.1 449.3h0M651.4 456.6h0M652.3 444.2h0M652.7 459.3h0M654.2 449.5h0M653.8 457.9h0M654.4 458.5h0M654.6 453h0M655.5 450.4h0M655.4 459.6h0M655.8 458.6h0M655.8 456.6h0M655.8 455.2h0M655.8 453.7h0M655.8 451.7h0M655.8 449.9h0M655.8 448h0M83.8 355h0M84.1 356.2h0M84 357.4h0M83.8 358.6h0M83.8 359.8h0M83.9 361h0M84.1 362.2h0M83.8 363.4h0M83.9 364.6h0M84.1 365.8h0M84.1 367h0M84.2 368.2h0M84.2 369.4h0M83.8 370.6h0M84 371.8h0M84.1 373h0M84 374.2h0M84 375.4h0M83.9 376.6h0M83.9 377.8h0M84.1 379h0M84.2 380.2h0M84.1 381.4h0M84.1 382.6h0M84.2 383.8h0M83.9 385h0M84 386.2h0M84.2 387.4h0M84.1 388.6h0M83.8 389.8h0M84 391h0M84.2 392.2h0M83.9 393.4h0M83.9 394.6h0M84.2 395.8h0M84 397h0M84 398.2h0M84 399.4h0M84.2 400.6h0M84 401.8h0M84.2 403h0M84.1 404.2h0M84 405.4h0M84.1 420h0M83.9 421.5h0M83.8 423h0M84 424.5h0M83.8 426h0M83.9 427.5h0M84.2 429h0M84.2 430.5h0M83.8 432h0M83.8 433.5h0M83.9 435h0M84 436.5h0M83.8 438h0M84.2 439.5h0M83.8 441h0M84 442.5h0M83.9 444h0M84.1 445.5h0M171.3 355h0M171.3 356.1h0M171.5 357.2h0M171.5 358.3h0M171.2 359.4h0M171.4 360.5h0M171.6 361.6h0M171.5 362.7h0M171.6 363.8h0M171.3 364.9h0M171.3 366h0M171.3 367.1h0M171.3 368.2h0M171.2 369.3h0M171.3 370.4h0M171.4 371.5h0M171.6 372.6h0M171.5 373.7h0M171.2 374.8h0M171.5 375.9h0M171.5 377h0M171.3 378.1h0M171.2 379.2h0M171.6 380.3h0M171.2 381.4h0M171.3 382.5h0M171.3 383.6h0M171.5 384.7h0M171.6 385.8h0M171.6 386.9h0M171.6 388h0M171.6 389.1h0M171.4 390.2h0M171.2 391.3h0M171.3 392.4h0M171.2 393.5h0M171.2 394.6h0M171.2 395.7h0M171.3 396.8h0M171.2 397.9h0M171.3 399h0M171.6 400.1h0M171.3 401.2h0M171.4 402.3h0M171.6 403.4h0M171.2 404.5h0M171.5 405.6h0M171.4 406.7h0M171.2 407.8h0M171.6 408.9h0M171.5 410h0M171.2 411.1h0M171.6 412.2h0M171.4 413.3h0M171.5 414.4h0M171.3 415.5h0M171.2 416.6h0M171.5 417.7h0M171.5 418.8h0M171.2 419.9h0M171.2 421h0M171.4 422.1h0M171.3 423.2h0M171.3 424.3h0M171.6 425.4h0M171.4 426.5h0M171.2 427.6h0M171.5 428.7h0M171.5 429.8h0M171.4 430.9h0M171.6 432h0M171.4 433.1h0M171.5 434.2h0M171.2 435.3h0M171.3 436.4h0M171.3 437.5h0M171.4 438.6h0M171.4 439.7h0M171.2 440.8h0M171.5 441.9h0M171.2 443h0M171.3 444.1h0M171.4 445.2h0M171.2 446.3h0M171.3 447.4h0M171.6 448.5h0M171.5 449.6h0M150.5 378h0M150.4 379.6h0M150.7 381.2h0M150.8 382.8h0M150.4 384.4h0M150.6 386h0M150.6 387.6h0M150.7 389.2h0M150.5 390.8h0M150.8 392.4h0M150.7 394h0M150.7 395.6h0M150.8 397.2h0M150.7 398.8h0M150.7 400.4h0M150.5 402h0M150.5 403.6h0M150.5 405.2h0M150.8 406.8h0M150.6 408.4h0M150.5 410h0M150.8 411.6h0M150.6 413.2h0M150.8 414.8h0M150.7 416.4h0M150.7 422h0M150.5 423.8h0M150.8 425.6h0M150.6 427.4h0M150.7 429.2h0M150.6 431h0M150.6 432.8h0M150.4 434.6h0M150.5 436.4h0M150.6 438.2h0M150.7 440h0M150.4 441.8h0M150.4 443.6h0M150.7 445.4h0M182.6 374h0M182.8 375.4h0M182.4 376.8h0M182.6 378.2h0M182.8 379.6h0M182.7 381h0M182.5 382.4h0M182.6 383.8h0M182.5 385.2h0M182.4 386.6h0M182.4 388h0M182.5 389.4h0M182.8 390.8h0M182.4 392.2h0M182.5 393.6h0M182.6 395h0M182.7 396.4h0M182.7 397.8h0M182.5 399.2h0M182.5 400.6h0M182.4 402h0M182.7 403.4h0M182.5 404.8h0M182.5 406.2h0M182.5 407.6h0M182.6 409h0M182.4 410.4h0M182.5 411.8h0M182.4 413.2h0M182.4 414.6h0M182.6 416h0M182.5 417.4h0M182.4 418.8h0M182.8 420.2h0M182.4 421.6h0M182.6 423h0M182.5 424.4h0M182.4 425.8h0M182.5 427.2h0M182.6 428.6h0M182.7 430h0M182.5 431.4h0M182.5 432.8h0M182.8 434.2h0M182.7 435.6h0M182.6 437h0M182.5 438.4h0M182.7 439.8h0M182.8 441.2h0M182.5 442.6h0M182.8 444h0M182.5 445.4h0M231.6 415h0M231.5 416.8h0M231.6 418.6h0M231.3 420.4h0M231.5 422.2h0M240.1 420h0M240.1 422h0M240.1 424h0M240.2 426h0M239.9 428h0M240.1 430h0M240 432h0M240.2 434h0M239.9 436h0M240.1 438h0M240.2 440h0M240.1 442h0M240.1 444h0M239.8 446h0M239.8 448h0M239.9 450h0M313.4 424h0M313.4 425.8h0M313.7 427.6h0M313.5 429.4h0M313.7 431.2h0M313.6 433h0M313.7 434.8h0M313.5 436.6h0M313.4 438.4h0M327.1 431h0M326.9 433h0M326.9 435h0M327 437h0M327 439h0M377.9 413h0M378.2 414.8h0M378.1 416.6h0M377.9 418.4h0M377.9 420.2h0M377.8 422h0M378.1 423.8h0M377.9 425.6h0M378.2 427.4h0M378.1 429.2h0M378.1 431h0M378 432.8h0M377.9 434.6h0M377.8 436.4h0M378 438.2h0M377.8 440h0M378 441.8h0M378.1 443.6h0M377.8 445.4h0M378 447.2h0M378 449h0M448.9 382h0M449 383.5h0M449.1 385h0M448.9 386.5h0M449.2 388h0M449.2 389.5h0M448.9 391h0M449 392.5h0M448.8 394h0M449 407h0M448.9 408.5h0M449.2 410h0M449.1 411.5h0M449.2 413h0M449.2 414.5h0M449.2 416h0M448.9 417.5h0M449.1 419h0M448.8 420.5h0M448.9 422h0M449.2 423.5h0M449.2 425h0M448.8 426.5h0M449 428h0M449 429.5h0M449.1 431h0M449 432.5h0M448.9 434h0M449.2 435.5h0M449 437h0M449.1 438.5h0M449.1 440h0M449.2 441.5h0M449 443h0M449 444.5h0M449.1 446h0M448.9 447.5h0M448.8 449h0M456.8 417h0M456.7 418.8h0M456.7 420.6h0M456.8 422.4h0M456.5 424.2h0M456.8 426h0M456.7 427.8h0M456.8 429.6h0M456.6 431.4h0M456.8 433.2h0M456.4 435h0M456.4 436.8h0M456.6 438.6h0M456.7 440.4h0M456.5 442.2h0M456.4 444h0M456.8 445.8h0M456.4 447.6h0M456.8 449.4h0M549.1 398h0M549 399.8h0M549 401.6h0M549 403.4h0M549 405.2h0M548.8 407h0M549.2 408.8h0M549 410.6h0M548.9 430h0M549.2 431.8h0M548.9 433.6h0M549.1 435.4h0M549 437.2h0M548.8 439h0M549 440.8h0M548.9 442.6h0M548.9 444.4h0M549.2 446.2h0M549.2 448h0M549 449.8h0M591.6 355h0M591.8 356h0M591.6 357h0M591.8 358h0M591.6 359h0M592 360h0M591.7 361h0M591.8 362h0M591.7 363h0M592 364h0M591.6 365h0M591.7 366h0M591.7 367h0M591.9 368h0M591.7 369h0M592 370h0M591.7 371h0M591.6 372h0M591.8 373h0M591.6 374h0M591.6 375h0M591.8 376h0M591.8 377h0M591.7 378h0M591.6 379h0M591.8 380h0M591.8 381h0M591.8 382h0M591.9 383h0M591.6 384h0M591.6 385h0M591.6 386h0M591.9 387h0M591.9 388h0M591.6 389h0M591.7 390h0M591.7 391h0M592 392h0M591.8 393h0M591.9 394h0M591.6 395h0M591.6 396h0M591.7 397h0M591.9 398h0M591.8 399h0M592 400h0M592 401h0M591.9 402h0M592 403h0M592 404h0M592 405h0M591.6 406h0M591.7 407h0M591.6 408h0M591.9 409h0M591.8 410h0M591.6 411h0M591.6 412h0M591.8 413h0M591.9 414h0M591.8 415h0M591.8 416h0M591.9 417h0M591.9 418h0M591.9 419h0M591.8 420h0M591.6 421h0M592 422h0M591.6 423h0M591.7 424h0M591.6 425h0M591.8 426h0M591.9 427h0M591.6 428h0M591.8 429h0M591.8 430h0M591.9 431h0M591.6 432h0M591.9 433h0M591.7 434h0M591.7 435h0M591.6 436h0M592 437h0M591.9 438h0M592 439h0M591.8 440h0M586.4 388h0M586.6 389.3h0M586.4 390.6h0M586.4 391.9h0M586.8 393.2h0M586.4 394.5h0M586.5 395.8h0M586.4 397.1h0M586.7 398.4h0M586.8 399.7h0M586.4 401h0M586.5 402.3h0M586.8 403.6h0M586.5 404.9h0M586.5 406.2h0M586.8 407.5h0M586.8 408.8h0M586.5 410.1h0M586.7 411.4h0M586.7 412.7h0M586.5 414h0M586.4 415.3h0M586.5 416.6h0M586.7 417.9h0M586.8 419.2h0M586.6 420.5h0M586.6 421.8h0M586.5 423.1h0M586.7 424.4h0M586.4 425.7h0M586.8 427h0M586.8 428.3h0M586.4 429.6h0M586.4 430.9h0M586.5 432.2h0M586.4 433.5h0M586.7 434.8h0M586.8 436.1h0M586.6 437.4h0M586.8 438.7h0M627.8 427h0M627.9 429h0M628.2 431h0M628 433h0M628.1 435h0M628.2 437h0M628 439h0M39.6 426h0M44.4 428h0M44.4 439h0M53.6 427h0M53.6 431h0M53.6 434h0M82.4 416h0M74 433h0M74 442h0M162 424.6h0M168.6 416.4h0M239.6 409.4h0M245 422h0M392.4 423h0M499 424h0M506 421h0M506 425h0M506 428h0M510 425h0M510 432h0M514 434h0M591.8 350h0M620 429h0"/>
<text x="3.8" y="8.6" font-size="10.5" fill="#000"><tspan font-weight="bold">A) Manhattan plot</tspan><tspan dx="5.2">(E1)</tspan></text>
<text x="3.8" y="299.7" font-size="10.5" fill="#000"><tspan font-weight="bold">B)</tspan> Manhattan plot (E2)</text>
<text transform="translate(7.9,136.6) rotate(-90)" font-size="9.3" fill="#222" text-anchor="middle">-log10 P-value</text>
<text transform="translate(7.9,429.6) rotate(-90)" font-size="9.3" fill="#222" text-anchor="middle">-log10 P-value</text>
<text x="174" y="18" font-size="8.6" fill="#0000ff" text-anchor="start" font-weight="normal">rs6772559</text>
<text x="174" y="27.6" font-size="8.6" fill="#0000ff" text-anchor="start" font-weight="normal">rs62283132</text>
<text x="174" y="37.2" font-size="8.6" fill="#0000ff" text-anchor="start" font-weight="normal">rs6782581</text>
<text x="88" y="97" font-size="8.6" fill="#4682b4" text-anchor="start" font-weight="normal">rs72817020</text>
<text x="288.6" y="93.6" font-size="8.6" fill="#0000ff" text-anchor="start" font-weight="normal">rs17707253</text>
<text x="426" y="79.4" font-size="8.6" fill="#4682b4" text-anchor="start" font-weight="normal">rs527680226</text>
<text x="426" y="89.4" font-size="8.6" fill="#4682b4" text-anchor="start" font-weight="normal">rs4311992</text>
<text x="593.6" y="15" font-size="8.6" fill="#0000ff" text-anchor="start" font-weight="normal">rs593720</text>
<text x="593.6" y="24.4" font-size="8.6" fill="#0000ff" text-anchor="start" font-weight="normal">rs199505</text>
<text x="593.6" y="33.6" font-size="8.6" fill="#0000ff" text-anchor="start" font-weight="normal">rs9910284</text>
<text x="63.6" y="350" font-size="8.6" fill="#0000ff" text-anchor="start" font-weight="normal">rs12076373</text>
<text x="175.6" y="349.4" font-size="8.6" fill="#0000ff" text-anchor="start" font-weight="normal">rs3762727</text>
<text x="175.6" y="359" font-size="8.6" fill="#0000ff" text-anchor="start" font-weight="normal">rs9823492</text>
<text x="405" y="337" font-size="8.6" fill="#4682b4" text-anchor="start" font-weight="normal">rs1926034</text>
<text x="535" y="335.2" font-size="8.6" fill="#4682b4" text-anchor="start" font-weight="normal">rs4843547</text>
<text x="510" y="344.3" font-size="8.6" fill="#4682b4" text-anchor="start" font-weight="normal">16:87246159:C:T</text>
<text x="585" y="343.6" font-size="8.6" fill="#0000ff" text-anchor="start" font-weight="normal">rs113173628</text>
<text x="640.9" y="305.4" font-size="8.6" fill="#4682b4" text-anchor="start" font-weight="normal">rs6058108</text>
<text x="640.9" y="315.4" font-size="8.6" fill="#4682b4" text-anchor="start" font-weight="normal">rs71196782</text>
<line x1="50.4" y1="621.4" x2="50.4" y2="863.2" stroke="#aaaaaa" stroke-width="1.1"/>
<line x1="49.9" y1="863.2" x2="292.6" y2="863.2" stroke="#aaaaaa" stroke-width="1.1"/>
<line x1="46.4" y1="621.4" x2="50.4" y2="621.4" stroke="#aaaaaa" stroke-width="1.1"/>
<line x1="45.4" y1="862.7" x2="50.4" y2="862.7" stroke="#aaaaaa" stroke-width="1.1"/>
<text x="42.5" y="865.7" font-size="8.4" fill="#333" text-anchor="end" font-weight="normal">0</text>
<line x1="45.4" y1="842.3" x2="50.4" y2="842.3" stroke="#aaaaaa" stroke-width="1.1"/>
<text x="42.5" y="845.3" font-size="8.4" fill="#333" text-anchor="end" font-weight="normal">1</text>
<line x1="45.4" y1="821.9" x2="50.4" y2="821.9" stroke="#aaaaaa" stroke-width="1.1"/>
<text x="42.5" y="824.9" font-size="8.4" fill="#333" text-anchor="end" font-weight="normal">2</text>
<line x1="45.4" y1="801.5" x2="50.4" y2="801.5" stroke="#aaaaaa" stroke-width="1.1"/>
<text x="42.5" y="804.5" font-size="8.4" fill="#333" text-anchor="end" font-weight="normal">3</text>
<line x1="45.4" y1="781.1" x2="50.4" y2="781.1" stroke="#aaaaaa" stroke-width="1.1"/>
<text x="42.5" y="784.1" font-size="8.4" fill="#333" text-anchor="end" font-weight="normal">4</text>
<line x1="45.4" y1="760.7" x2="50.4" y2="760.7" stroke="#aaaaaa" stroke-width="1.1"/>
<text x="42.5" y="763.7" font-size="8.4" fill="#333" text-anchor="end" font-weight="normal">5</text>
<line x1="45.4" y1="740.2" x2="50.4" y2="740.2" stroke="#aaaaaa" stroke-width="1.1"/>
<text x="42.5" y="743.2" font-size="8.4" fill="#333" text-anchor="end" font-weight="normal">6</text>
<line x1="45.4" y1="719.8" x2="50.4" y2="719.8" stroke="#aaaaaa" stroke-width="1.1"/>
<text x="42.5" y="722.8" font-size="8.4" fill="#333" text-anchor="end" font-weight="normal">7</text>
<line x1="45.4" y1="699.4" x2="50.4" y2="699.4" stroke="#aaaaaa" stroke-width="1.1"/>
<text x="42.5" y="702.4" font-size="8.4" fill="#333" text-anchor="end" font-weight="normal">8</text>
<line x1="45.4" y1="679" x2="50.4" y2="679" stroke="#aaaaaa" stroke-width="1.1"/>
<text x="42.5" y="682" font-size="8.4" fill="#333" text-anchor="end" font-weight="normal">9</text>
<line x1="45.4" y1="658.6" x2="50.4" y2="658.6" stroke="#aaaaaa" stroke-width="1.1"/>
<text x="42.5" y="661.6" font-size="8.4" fill="#333" text-anchor="end" font-weight="normal">10</text>
<line x1="45.4" y1="638.2" x2="50.4" y2="638.2" stroke="#aaaaaa" stroke-width="1.1"/>
<text x="42.5" y="641.2" font-size="8.4" fill="#333" text-anchor="end" font-weight="normal">11</text>
<line x1="50.4" y1="863.2" x2="50.4" y2="867.7" stroke="#aaaaaa" stroke-width="1.1"/>
<text x="50.4" y="876.3" font-size="8.4" fill="#333" text-anchor="middle" font-weight="normal">0.0</text>
<line x1="68.8" y1="863.2" x2="68.8" y2="867.7" stroke="#aaaaaa" stroke-width="1.1"/>
<text x="68.8" y="876.3" font-size="8.4" fill="#333" text-anchor="middle" font-weight="normal">0.5</text>
<line x1="87.3" y1="863.2" x2="87.3" y2="867.7" stroke="#aaaaaa" stroke-width="1.1"/>
<text x="87.3" y="876.3" font-size="8.4" fill="#333" text-anchor="middle" font-weight="normal">1.0</text>
<line x1="105.8" y1="863.2" x2="105.8" y2="867.7" stroke="#aaaaaa" stroke-width="1.1"/>
<text x="105.8" y="876.3" font-size="8.4" fill="#333" text-anchor="middle" font-weight="normal">1.5</text>
<line x1="124.2" y1="863.2" x2="124.2" y2="867.7" stroke="#aaaaaa" stroke-width="1.1"/>
<text x="124.2" y="876.3" font-size="8.4" fill="#333" text-anchor="middle" font-weight="normal">2.0</text>
<line x1="142.7" y1="863.2" x2="142.7" y2="867.7" stroke="#aaaaaa" stroke-width="1.1"/>
<text x="142.7" y="876.3" font-size="8.4" fill="#333" text-anchor="middle" font-weight="normal">2.5</text>
<line x1="161.1" y1="863.2" x2="161.1" y2="867.7" stroke="#aaaaaa" stroke-width="1.1"/>
<text x="161.1" y="876.3" font-size="8.4" fill="#333" text-anchor="middle" font-weight="normal">3.0</text>
<line x1="179.6" y1="863.2" x2="179.6" y2="867.7" stroke="#aaaaaa" stroke-width="1.1"/>
<text x="179.6" y="876.3" font-size="8.4" fill="#333" text-anchor="middle" font-weight="normal">3.5</text>
<line x1="198" y1="863.2" x2="198" y2="867.7" stroke="#aaaaaa" stroke-width="1.1"/>
<text x="198" y="876.3" font-size="8.4" fill="#333" text-anchor="middle" font-weight="normal">4.0</text>
<line x1="216.4" y1="863.2" x2="216.4" y2="867.7" stroke="#aaaaaa" stroke-width="1.1"/>
<text x="216.4" y="876.3" font-size="8.4" fill="#333" text-anchor="middle" font-weight="normal">4.5</text>
<line x1="234.9" y1="863.2" x2="234.9" y2="867.7" stroke="#aaaaaa" stroke-width="1.1"/>
<text x="234.9" y="876.3" font-size="8.4" fill="#333" text-anchor="middle" font-weight="normal">5.0</text>
<line x1="253.3" y1="863.2" x2="253.3" y2="867.7" stroke="#aaaaaa" stroke-width="1.1"/>
<text x="253.3" y="876.3" font-size="8.4" fill="#333" text-anchor="middle" font-weight="normal">5.5</text>
<line x1="271.8" y1="863.2" x2="271.8" y2="867.7" stroke="#aaaaaa" stroke-width="1.1"/>
<text x="271.8" y="876.3" font-size="8.4" fill="#333" text-anchor="middle" font-weight="normal">6.0</text>
<line x1="290.2" y1="863.2" x2="290.2" y2="867.7" stroke="#aaaaaa" stroke-width="1.1"/>
<text x="290.2" y="876.3" font-size="8.4" fill="#333" text-anchor="middle" font-weight="normal">6.5</text>
<line x1="50.4" y1="862.7" x2="290.2" y2="730" stroke="#ff3030" stroke-width="1.3" stroke-dasharray="2.8 2.3"/>
<path d="M50.4 862.7 L68.4 852.1 L91.7 838.1 L115.1 822.9 L126.8 815.2 L138.5 806.6 L150.1 797.2 L161.8 787.9 L168.8 783.2 L175.8 775 L182.8 765.7 L187 757 L190 748 L193 736 L197 724 L199 714 L200 702 L200.4 691.5 M200.6 684.5 L201 676 L203 669 L207 664 L208 656 L210 649 L213 645 L218 642 L230 640.4 L240 639 L252 635 L260 631 L268 627 L274 625" fill="none" stroke="#737373" stroke-width="3.3" stroke-linecap="round" stroke-linejoin="round"/>
<circle cx="279" cy="624.4" r="1.75" fill="#737373"/>
<circle cx="284" cy="624.4" r="1.75" fill="#737373"/>
<circle cx="290.4" cy="623.6" r="1.75" fill="#737373"/>
<text x="3.8" y="605" font-size="10.5" fill="#000"><tspan font-weight="bold">C)</tspan> QQ plot E1</text>
<text transform="translate(21.8,742) rotate(-90)" font-size="12.8" fill="#222" text-anchor="middle">Observed -log10 P-value</text>
<text x="171.5" y="889" font-size="12.8" fill="#222" text-anchor="middle" font-weight="normal">Expected -log10 P-value</text>
<line x1="405.6" y1="621.4" x2="405.6" y2="863.2" stroke="#aaaaaa" stroke-width="1.1"/>
<line x1="405.1" y1="863.2" x2="647" y2="863.2" stroke="#aaaaaa" stroke-width="1.1"/>
<line x1="401.6" y1="621.4" x2="405.6" y2="621.4" stroke="#aaaaaa" stroke-width="1.1"/>
<line x1="400.6" y1="862.7" x2="405.6" y2="862.7" stroke="#aaaaaa" stroke-width="1.1"/>
<text x="397.7" y="865.7" font-size="8.4" fill="#333" text-anchor="end" font-weight="normal">0</text>
<line x1="400.6" y1="837.4" x2="405.6" y2="837.4" stroke="#aaaaaa" stroke-width="1.1"/>
<text x="397.7" y="840.4" font-size="8.4" fill="#333" text-anchor="end" font-weight="normal">1</text>
<line x1="400.6" y1="812.2" x2="405.6" y2="812.2" stroke="#aaaaaa" stroke-width="1.1"/>
<text x="397.7" y="815.2" font-size="8.4" fill="#333" text-anchor="end" font-weight="normal">2</text>
<line x1="400.6" y1="786.9" x2="405.6" y2="786.9" stroke="#aaaaaa" stroke-width="1.1"/>
<text x="397.7" y="789.9" font-size="8.4" fill="#333" text-anchor="end" font-weight="normal">3</text>
<line x1="400.6" y1="761.7" x2="405.6" y2="761.7" stroke="#aaaaaa" stroke-width="1.1"/>
<text x="397.7" y="764.7" font-size="8.4" fill="#333" text-anchor="end" font-weight="normal">4</text>
<line x1="400.6" y1="736.4" x2="405.6" y2="736.4" stroke="#aaaaaa" stroke-width="1.1"/>
<text x="397.7" y="739.4" font-size="8.4" fill="#333" text-anchor="end" font-weight="normal">5</text>
<line x1="400.6" y1="711.1" x2="405.6" y2="711.1" stroke="#aaaaaa" stroke-width="1.1"/>
<text x="397.7" y="714.1" font-size="8.4" fill="#333" text-anchor="end" font-weight="normal">6</text>
<line x1="400.6" y1="685.9" x2="405.6" y2="685.9" stroke="#aaaaaa" stroke-width="1.1"/>
<text x="397.7" y="688.9" font-size="8.4" fill="#333" text-anchor="end" font-weight="normal">7</text>
<line x1="400.6" y1="660.6" x2="405.6" y2="660.6" stroke="#aaaaaa" stroke-width="1.1"/>
<text x="397.7" y="663.6" font-size="8.4" fill="#333" text-anchor="end" font-weight="normal">8</text>
<line x1="400.6" y1="635.4" x2="405.6" y2="635.4" stroke="#aaaaaa" stroke-width="1.1"/>
<text x="397.7" y="638.4" font-size="8.4" fill="#333" text-anchor="end" font-weight="normal">9</text>
<line x1="405.6" y1="863.2" x2="405.6" y2="867.7" stroke="#aaaaaa" stroke-width="1.1"/>
<text x="405.6" y="876.3" font-size="8.4" fill="#333" text-anchor="middle" font-weight="normal">0.0</text>
<line x1="424" y1="863.2" x2="424" y2="867.7" stroke="#aaaaaa" stroke-width="1.1"/>
<text x="424" y="876.3" font-size="8.4" fill="#333" text-anchor="middle" font-weight="normal">0.5</text>
<line x1="442.4" y1="863.2" x2="442.4" y2="867.7" stroke="#aaaaaa" stroke-width="1.1"/>
<text x="442.4" y="876.3" font-size="8.4" fill="#333" text-anchor="middle" font-weight="normal">1.0</text>
<line x1="460.8" y1="863.2" x2="460.8" y2="867.7" stroke="#aaaaaa" stroke-width="1.1"/>
<text x="460.8" y="876.3" font-size="8.4" fill="#333" text-anchor="middle" font-weight="normal">1.5</text>
<line x1="479.2" y1="863.2" x2="479.2" y2="867.7" stroke="#aaaaaa" stroke-width="1.1"/>
<text x="479.2" y="876.3" font-size="8.4" fill="#333" text-anchor="middle" font-weight="normal">2.0</text>
<line x1="497.6" y1="863.2" x2="497.6" y2="867.7" stroke="#aaaaaa" stroke-width="1.1"/>
<text x="497.6" y="876.3" font-size="8.4" fill="#333" text-anchor="middle" font-weight="normal">2.5</text>
<line x1="516" y1="863.2" x2="516" y2="867.7" stroke="#aaaaaa" stroke-width="1.1"/>
<text x="516" y="876.3" font-size="8.4" fill="#333" text-anchor="middle" font-weight="normal">3.0</text>
<line x1="534.4" y1="863.2" x2="534.4" y2="867.7" stroke="#aaaaaa" stroke-width="1.1"/>
<text x="534.4" y="876.3" font-size="8.4" fill="#333" text-anchor="middle" font-weight="normal">3.5</text>
<line x1="552.8" y1="863.2" x2="552.8" y2="867.7" stroke="#aaaaaa" stroke-width="1.1"/>
<text x="552.8" y="876.3" font-size="8.4" fill="#333" text-anchor="middle" font-weight="normal">4.0</text>
<line x1="571.2" y1="863.2" x2="571.2" y2="867.7" stroke="#aaaaaa" stroke-width="1.1"/>
<text x="571.2" y="876.3" font-size="8.4" fill="#333" text-anchor="middle" font-weight="normal">4.5</text>
<line x1="589.6" y1="863.2" x2="589.6" y2="867.7" stroke="#aaaaaa" stroke-width="1.1"/>
<text x="589.6" y="876.3" font-size="8.4" fill="#333" text-anchor="middle" font-weight="normal">5.0</text>
<line x1="608" y1="863.2" x2="608" y2="867.7" stroke="#aaaaaa" stroke-width="1.1"/>
<text x="608" y="876.3" font-size="8.4" fill="#333" text-anchor="middle" font-weight="normal">5.5</text>
<line x1="626.4" y1="863.2" x2="626.4" y2="867.7" stroke="#aaaaaa" stroke-width="1.1"/>
<text x="626.4" y="876.3" font-size="8.4" fill="#333" text-anchor="middle" font-weight="normal">6.0</text>
<line x1="644.8" y1="863.2" x2="644.8" y2="867.7" stroke="#aaaaaa" stroke-width="1.1"/>
<text x="644.8" y="876.3" font-size="8.4" fill="#333" text-anchor="middle" font-weight="normal">6.5</text>
<line x1="405.6" y1="862.7" x2="644.8" y2="698.5" stroke="#ff3030" stroke-width="1.3" stroke-dasharray="2.8 2.3"/>
<path d="M405.6 862.7 L423.4 849.8 L446.7 832.3 L470.1 814.8 L481.8 805.4 L493.5 794.9 L505.1 783.2 L516.8 770.4 L523.8 762.2 L529.7 751.7 L533 741 L535 733.8 L539.7 723.3 L544.4 716.3 L549 703.5 L554.2 691.8 L558.4 690.6 L566.6 680 L577.1 674.3 L580.6 667.2 L585.3 660.2 L591.1 654.4 L594.6 645 L596.5 641.2 L599 638.4 L602.5 637 L607.5 636.2 L614.5 634.5 L621.5 632.9 L629.7 631.7" fill="none" stroke="#737373" stroke-width="3.3" stroke-linecap="round" stroke-linejoin="round"/>
<circle cx="633.2" cy="625.9" r="1.75" fill="#737373"/>
<circle cx="638.3" cy="626.4" r="1.75" fill="#737373"/>
<circle cx="644.9" cy="624" r="1.75" fill="#737373"/>
<text x="380.4" y="605" font-size="10.5" fill="#000"><tspan font-weight="bold">D)</tspan> QQ plot E2</text>
<text transform="translate(377.7,742) rotate(-90)" font-size="12.8" fill="#222" text-anchor="middle">Observed -log10 P-value</text>
<text x="526.6" y="889" font-size="12.8" fill="#222" text-anchor="middle" font-weight="normal">Expected -log10 P-value</text>
</svg>
</body></html>
